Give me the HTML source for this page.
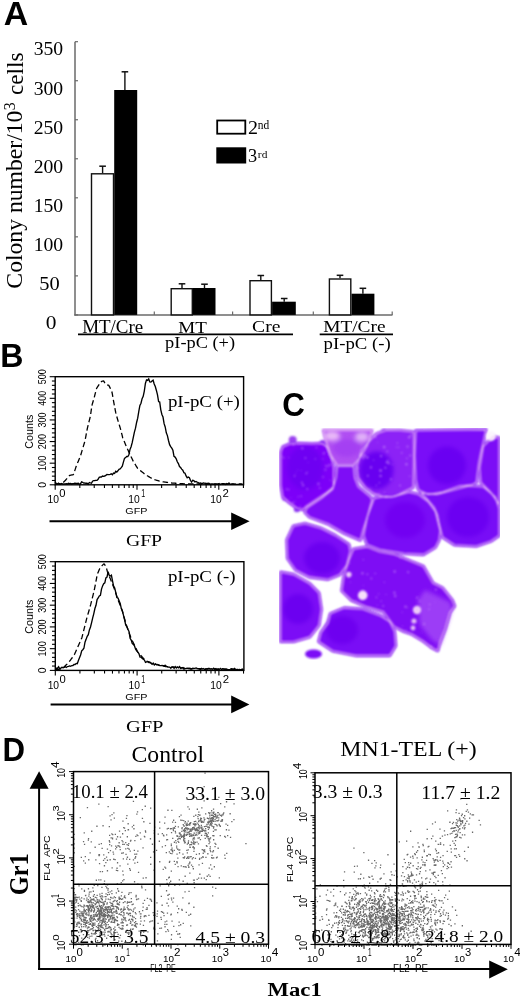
<!DOCTYPE html>
<html><head><meta charset="utf-8"><style>
html,body{margin:0;padding:0;background:#fff;overflow:hidden}
svg{display:block;will-change:transform}
</style></head><body>
<svg width="520" height="1001" viewBox="0 0 520 1001" font-family="Liberation Serif, serif">
<rect width="520" height="1001" fill="#fff"/>
<text transform="translate(3.75,25.40) scale(1.0299,1)" font-family="Liberation Sans" font-weight="bold" font-size="32.90" fill="#000" >A</text>
<line x1="75.0" y1="41.69" x2="75.0" y2="315.5" stroke="#6a6a6a" stroke-width="1.5"/>
<line x1="75.0" y1="314.90" x2="78.0" y2="314.90" stroke="#6a6a6a" stroke-width="1.2"/>
<text transform="translate(45.64,328.70) scale(1.0875,1)" font-family="Liberation Serif" font-weight="normal" font-size="19.70" fill="#000" >0</text>
<line x1="75.0" y1="275.87" x2="78.0" y2="275.87" stroke="#6a6a6a" stroke-width="1.2"/>
<text transform="translate(39.27,289.67) scale(1.0376,1)" font-family="Liberation Serif" font-weight="normal" font-size="19.70" fill="#000" >50</text>
<line x1="75.0" y1="236.84" x2="78.0" y2="236.84" stroke="#6a6a6a" stroke-width="1.2"/>
<text transform="translate(33.72,250.64) scale(0.9971,1)" font-family="Liberation Serif" font-size="19.70">100</text>
<line x1="75.0" y1="197.81" x2="78.0" y2="197.81" stroke="#6a6a6a" stroke-width="1.2"/>
<text transform="translate(33.72,211.61) scale(0.9971,1)" font-family="Liberation Serif" font-size="19.70">150</text>
<line x1="75.0" y1="158.78" x2="78.0" y2="158.78" stroke="#6a6a6a" stroke-width="1.2"/>
<text transform="translate(33.72,172.58) scale(0.9971,1)" font-family="Liberation Serif" font-size="19.70">200</text>
<line x1="75.0" y1="119.75" x2="78.0" y2="119.75" stroke="#6a6a6a" stroke-width="1.2"/>
<text transform="translate(33.72,133.55) scale(0.9971,1)" font-family="Liberation Serif" font-size="19.70">250</text>
<line x1="75.0" y1="80.72" x2="78.0" y2="80.72" stroke="#6a6a6a" stroke-width="1.2"/>
<text transform="translate(33.72,94.52) scale(0.9971,1)" font-family="Liberation Serif" font-size="19.70">300</text>
<line x1="75.0" y1="41.69" x2="78.0" y2="41.69" stroke="#6a6a6a" stroke-width="1.2"/>
<text transform="translate(33.72,55.49) scale(0.9971,1)" font-family="Liberation Serif" font-size="19.70">350</text>
<line x1="74.25" y1="314.9" x2="392.5" y2="314.9" stroke="#6a6a6a" stroke-width="1.5"/>
<line x1="154.3" y1="311.4" x2="154.3" y2="314.9" stroke="#6a6a6a" stroke-width="1.2"/>
<line x1="232.6" y1="311.4" x2="232.6" y2="314.9" stroke="#6a6a6a" stroke-width="1.2"/>
<line x1="313.3" y1="311.4" x2="313.3" y2="314.9" stroke="#6a6a6a" stroke-width="1.2"/>
<line x1="392.2" y1="311.4" x2="392.2" y2="314.9" stroke="#6a6a6a" stroke-width="1.2"/>
<line x1="102.6" y1="166.2" x2="102.6" y2="173.1" stroke="#111" stroke-width="1.4"/>
<line x1="99.3" y1="166.2" x2="105.89999999999999" y2="166.2" stroke="#111" stroke-width="1.5"/>
<line x1="124.9" y1="71.8" x2="124.9" y2="90.0" stroke="#111" stroke-width="1.4"/>
<line x1="121.60000000000001" y1="71.8" x2="128.20000000000002" y2="71.8" stroke="#111" stroke-width="1.5"/>
<line x1="182.0" y1="283.8" x2="182.0" y2="288.0" stroke="#111" stroke-width="1.4"/>
<line x1="178.7" y1="283.8" x2="185.3" y2="283.8" stroke="#111" stroke-width="1.5"/>
<line x1="204.5" y1="284.2" x2="204.5" y2="288.0" stroke="#111" stroke-width="1.4"/>
<line x1="201.2" y1="284.2" x2="207.8" y2="284.2" stroke="#111" stroke-width="1.5"/>
<line x1="260.8" y1="275.5" x2="260.8" y2="280.0" stroke="#111" stroke-width="1.4"/>
<line x1="257.5" y1="275.5" x2="264.1" y2="275.5" stroke="#111" stroke-width="1.5"/>
<line x1="284.2" y1="298.5" x2="284.2" y2="301.7" stroke="#111" stroke-width="1.4"/>
<line x1="280.9" y1="298.5" x2="287.5" y2="298.5" stroke="#111" stroke-width="1.5"/>
<line x1="340.0" y1="275.3" x2="340.0" y2="278.3" stroke="#111" stroke-width="1.4"/>
<line x1="336.7" y1="275.3" x2="343.3" y2="275.3" stroke="#111" stroke-width="1.5"/>
<line x1="362.9" y1="288.3" x2="362.9" y2="293.7" stroke="#111" stroke-width="1.4"/>
<line x1="359.59999999999997" y1="288.3" x2="366.2" y2="288.3" stroke="#111" stroke-width="1.5"/>
<rect x="91.5" y="173.79999999999998" width="22.000000000000007" height="141.1" fill="#fff" stroke="#111" stroke-width="1.4"/>
<rect x="114.2" y="90.0" width="22.999999999999986" height="224.89999999999998" fill="#000"/>
<rect x="171.2" y="288.7" width="21.1" height="26.199999999999978" fill="#fff" stroke="#111" stroke-width="1.4"/>
<rect x="193.0" y="288.0" width="22.5" height="26.899999999999977" fill="#000"/>
<rect x="250.0" y="280.7" width="21.400000000000013" height="34.199999999999974" fill="#fff" stroke="#111" stroke-width="1.4"/>
<rect x="272.1" y="301.7" width="23.69999999999999" height="13.199999999999989" fill="#000"/>
<rect x="329.4" y="279.0" width="21.400000000000013" height="35.89999999999996" fill="#fff" stroke="#111" stroke-width="1.4"/>
<rect x="351.5" y="293.7" width="22.899999999999977" height="21.19999999999999" fill="#000"/>
<rect x="217.2" y="120.5" width="28.1" height="13.2" fill="#fff" stroke="#000" stroke-width="1.8"/>
<rect x="216.3" y="147.3" width="29.9" height="16.2" fill="#000"/>
<text transform="translate(248.00,134.20) scale(1.0394,1)" font-family="Liberation Serif" font-weight="normal" font-size="19.24" fill="#000" >2</text>
<text transform="translate(257.87,129.48) scale(0.9604,1)" font-family="Liberation Serif" font-weight="normal" font-size="11.91" fill="#000" >nd</text>
<text transform="translate(248.08,162.11) scale(0.9661,1)" font-family="Liberation Serif" font-weight="normal" font-size="18.96" fill="#000" >3</text>
<text transform="translate(257.87,157.59) scale(1.0464,1)" font-family="Liberation Serif" font-weight="normal" font-size="10.92" fill="#000" >rd</text>
<text transform="translate(82.13,332.80) scale(1.0630,1)" font-family="Liberation Serif" font-weight="normal" font-size="17.86" fill="#000">MT/Cre</text>
<text transform="translate(178.23,332.60) scale(1.0750,1)" font-family="Liberation Serif" font-weight="normal" font-size="17.71" fill="#000" >MT</text>
<text transform="translate(252.11,332.43) scale(1.1244,1)" font-family="Liberation Serif" font-weight="normal" font-size="17.46" fill="#000" >Cre</text>
<text transform="translate(323.22,332.40) scale(1.1326,1)" font-family="Liberation Serif" font-weight="normal" font-size="17.10" fill="#000">MT/Cre</text>
<text transform="translate(165.12,348.42) scale(1.0433,1)" font-family="Liberation Serif" font-weight="normal" font-size="17.60" fill="#000">pI-pC (+)</text>
<text transform="translate(323.52,348.61) scale(1.1244,1)" font-family="Liberation Serif" font-weight="normal" font-size="16.69" fill="#000">pI-pC (-)</text>
<line x1="78" y1="334.3" x2="293" y2="334.3" stroke="#000" stroke-width="1.8"/>
<line x1="319.7" y1="334.3" x2="393" y2="334.3" stroke="#000" stroke-width="1.8"/>
<text transform="translate(22.27,288.65) rotate(-90) scale(1.0111,1)" font-family="Liberation Serif" font-weight="normal" font-size="23.41" fill="#000">Colony number/10</text><text transform="translate(15.43,110.32) rotate(-90) scale(0.9514,1)" font-family="Liberation Serif" font-weight="normal" font-size="16.72" fill="#000">3</text><text transform="translate(22.57,94.93) rotate(-90) scale(0.9905,1)" font-family="Liberation Serif" font-weight="normal" font-size="23.40" fill="#000">cells</text>
<text transform="translate(0.21,366.90) scale(0.9556,1)" font-family="Liberation Sans" font-weight="bold" font-size="33.62" fill="#000" >B</text>
<rect x="55.2" y="376.7" width="188.39999999999998" height="108.10000000000002" fill="none" stroke="#000" stroke-width="1.4"/>
<line x1="49.7" y1="484.80" x2="55.2" y2="484.80" stroke="#000" stroke-width="1.1"/>
<line x1="51.900000000000006" y1="480.48" x2="55.2" y2="480.48" stroke="#000" stroke-width="1.1"/>
<line x1="51.900000000000006" y1="476.15" x2="55.2" y2="476.15" stroke="#000" stroke-width="1.1"/>
<line x1="51.900000000000006" y1="471.83" x2="55.2" y2="471.83" stroke="#000" stroke-width="1.1"/>
<line x1="51.900000000000006" y1="467.50" x2="55.2" y2="467.50" stroke="#000" stroke-width="1.1"/>
<line x1="49.7" y1="463.18" x2="55.2" y2="463.18" stroke="#000" stroke-width="1.1"/>
<line x1="51.900000000000006" y1="458.86" x2="55.2" y2="458.86" stroke="#000" stroke-width="1.1"/>
<line x1="51.900000000000006" y1="454.53" x2="55.2" y2="454.53" stroke="#000" stroke-width="1.1"/>
<line x1="51.900000000000006" y1="450.21" x2="55.2" y2="450.21" stroke="#000" stroke-width="1.1"/>
<line x1="51.900000000000006" y1="445.88" x2="55.2" y2="445.88" stroke="#000" stroke-width="1.1"/>
<line x1="49.7" y1="441.56" x2="55.2" y2="441.56" stroke="#000" stroke-width="1.1"/>
<line x1="51.900000000000006" y1="437.24" x2="55.2" y2="437.24" stroke="#000" stroke-width="1.1"/>
<line x1="51.900000000000006" y1="432.91" x2="55.2" y2="432.91" stroke="#000" stroke-width="1.1"/>
<line x1="51.900000000000006" y1="428.59" x2="55.2" y2="428.59" stroke="#000" stroke-width="1.1"/>
<line x1="51.900000000000006" y1="424.26" x2="55.2" y2="424.26" stroke="#000" stroke-width="1.1"/>
<line x1="49.7" y1="419.94" x2="55.2" y2="419.94" stroke="#000" stroke-width="1.1"/>
<line x1="51.900000000000006" y1="415.62" x2="55.2" y2="415.62" stroke="#000" stroke-width="1.1"/>
<line x1="51.900000000000006" y1="411.29" x2="55.2" y2="411.29" stroke="#000" stroke-width="1.1"/>
<line x1="51.900000000000006" y1="406.97" x2="55.2" y2="406.97" stroke="#000" stroke-width="1.1"/>
<line x1="51.900000000000006" y1="402.64" x2="55.2" y2="402.64" stroke="#000" stroke-width="1.1"/>
<line x1="49.7" y1="398.32" x2="55.2" y2="398.32" stroke="#000" stroke-width="1.1"/>
<line x1="51.900000000000006" y1="394.00" x2="55.2" y2="394.00" stroke="#000" stroke-width="1.1"/>
<line x1="51.900000000000006" y1="389.67" x2="55.2" y2="389.67" stroke="#000" stroke-width="1.1"/>
<line x1="51.900000000000006" y1="385.35" x2="55.2" y2="385.35" stroke="#000" stroke-width="1.1"/>
<line x1="51.900000000000006" y1="381.02" x2="55.2" y2="381.02" stroke="#000" stroke-width="1.1"/>
<line x1="49.7" y1="376.70" x2="55.2" y2="376.70" stroke="#000" stroke-width="1.1"/>
<line x1="55.20" y1="484.8" x2="55.20" y2="489.8" stroke="#000" stroke-width="1.1"/>
<line x1="79.82" y1="484.8" x2="79.82" y2="488.0" stroke="#000" stroke-width="1.1"/>
<line x1="94.23" y1="484.8" x2="94.23" y2="488.0" stroke="#000" stroke-width="1.1"/>
<line x1="104.45" y1="484.8" x2="104.45" y2="488.0" stroke="#000" stroke-width="1.1"/>
<line x1="112.38" y1="484.8" x2="112.38" y2="488.0" stroke="#000" stroke-width="1.1"/>
<line x1="118.85" y1="484.8" x2="118.85" y2="488.0" stroke="#000" stroke-width="1.1"/>
<line x1="124.33" y1="484.8" x2="124.33" y2="488.0" stroke="#000" stroke-width="1.1"/>
<line x1="129.07" y1="484.8" x2="129.07" y2="488.0" stroke="#000" stroke-width="1.1"/>
<line x1="133.26" y1="484.8" x2="133.26" y2="488.0" stroke="#000" stroke-width="1.1"/>
<line x1="137.00" y1="484.8" x2="137.00" y2="489.8" stroke="#000" stroke-width="1.1"/>
<line x1="161.62" y1="484.8" x2="161.62" y2="488.0" stroke="#000" stroke-width="1.1"/>
<line x1="176.03" y1="484.8" x2="176.03" y2="488.0" stroke="#000" stroke-width="1.1"/>
<line x1="186.25" y1="484.8" x2="186.25" y2="488.0" stroke="#000" stroke-width="1.1"/>
<line x1="194.18" y1="484.8" x2="194.18" y2="488.0" stroke="#000" stroke-width="1.1"/>
<line x1="200.65" y1="484.8" x2="200.65" y2="488.0" stroke="#000" stroke-width="1.1"/>
<line x1="206.13" y1="484.8" x2="206.13" y2="488.0" stroke="#000" stroke-width="1.1"/>
<line x1="210.87" y1="484.8" x2="210.87" y2="488.0" stroke="#000" stroke-width="1.1"/>
<line x1="215.06" y1="484.8" x2="215.06" y2="488.0" stroke="#000" stroke-width="1.1"/>
<line x1="218.80" y1="484.8" x2="218.80" y2="489.8" stroke="#000" stroke-width="1.1"/>
<line x1="243.42" y1="484.8" x2="243.42" y2="488.0" stroke="#000" stroke-width="1.1"/>
<text transform="translate(46.09,487.72) rotate(-90) scale(0.9731,1)" font-family="Liberation Sans" font-weight="normal" font-size="10.70" fill="#000">0</text>
<text transform="translate(46.09,471.02) rotate(-90) scale(0.8591,1)" font-family="Liberation Sans" font-weight="normal" font-size="10.70" fill="#000">100</text>
<text transform="translate(46.09,449.16) rotate(-90) scale(0.8455,1)" font-family="Liberation Sans" font-weight="normal" font-size="10.70" fill="#000">200</text>
<text transform="translate(46.09,427.45) rotate(-90) scale(0.8402,1)" font-family="Liberation Sans" font-weight="normal" font-size="10.70" fill="#000">300</text>
<text transform="translate(46.09,405.65) rotate(-90) scale(0.8298,1)" font-family="Liberation Sans" font-weight="normal" font-size="10.70" fill="#000">400</text>
<text transform="translate(46.09,384.21) rotate(-90) scale(0.8402,1)" font-family="Liberation Sans" font-weight="normal" font-size="10.70" fill="#000">500</text>
<text transform="translate(33.48,448.63) rotate(-90) scale(0.9262,1)" font-family="Liberation Sans" font-weight="normal" font-size="11.55" fill="#000">Counts</text>
<text transform="translate(47.53,503.39) scale(0.9497,1)" font-family="Liberation Sans" font-weight="normal" font-size="10.85" fill="#000" >10</text>
<text transform="translate(59.35,497.20) scale(1.0942,1)" font-family="Liberation Sans" font-weight="normal" font-size="10.28" fill="#000" >0</text>
<text transform="translate(128.33,503.39) scale(0.9497,1)" font-family="Liberation Sans" font-weight="normal" font-size="10.85" fill="#000" >10</text>
<text transform="translate(141.27,497.30) scale(0.6736,1)" font-family="Liberation Sans" font-weight="normal" font-size="10.58" fill="#000" >1</text>
<text transform="translate(210.23,503.39) scale(0.9497,1)" font-family="Liberation Sans" font-weight="normal" font-size="10.85" fill="#000" >10</text>
<text transform="translate(222.53,497.30) scale(1.0959,1)" font-family="Liberation Sans" font-weight="normal" font-size="10.43" fill="#000" >2</text>
<text transform="translate(125.26,514.11) scale(1.1789,1)" font-family="Liberation Sans" font-weight="normal" font-size="9.15" fill="#000" >GFP</text>
<polyline points="55.20,484.00 55.70,483.97 56.20,483.94 56.70,483.91 57.20,483.88 57.70,483.85 58.20,483.82 58.70,483.79 59.20,483.76 59.70,483.74 60.20,483.71 60.70,483.68 61.20,483.65 61.70,483.62 62.20,483.41 62.70,482.95 63.20,482.48 63.70,482.01 64.20,481.55 64.70,481.08 65.20,480.57 65.70,479.98 66.20,479.39 66.70,478.80 67.20,478.22 67.70,477.63 68.20,477.04 68.70,476.46 69.20,475.87 69.70,475.38 70.20,475.28 70.70,475.17 71.20,475.07 71.70,474.97 72.20,474.87 72.70,474.76 73.20,474.66 73.70,473.99 74.20,472.45 74.70,470.92 75.20,469.39 75.70,467.85 76.20,466.32 76.70,464.93 77.20,463.75 77.70,462.57 78.20,461.39 78.70,460.21 79.20,459.03 79.70,457.85 80.20,456.67 80.70,455.20 81.20,453.52 81.70,451.85 82.20,450.17 82.70,448.50 83.20,446.83 83.70,445.15 84.20,443.48 84.70,441.80 85.20,439.73 85.70,437.06 86.20,434.38 86.70,431.71 87.20,429.03 87.70,426.91 88.20,424.93 88.70,422.95 89.20,420.96 89.70,418.98 90.20,416.99 90.70,414.04 91.20,410.44 91.70,406.84 92.20,404.40 92.70,402.72 93.20,401.05 93.70,399.37 94.20,397.70 94.70,395.70 95.20,393.70 95.70,391.70 96.20,389.70 96.70,388.20 97.20,387.44 97.70,386.68 98.20,385.92 98.70,385.16 99.20,384.41 99.70,383.68 100.20,383.07 100.70,382.47 101.20,381.86 101.70,381.43 102.20,381.25 102.70,381.08 103.20,380.91 103.70,381.13 104.20,381.96 104.70,382.78 105.20,383.61 105.70,384.43 106.20,384.71 106.70,384.84 107.20,384.97 107.70,385.11 108.20,385.24 108.70,385.37 109.20,386.19 109.70,387.17 110.20,388.15 110.70,389.14 111.20,390.12 111.70,391.11 112.20,393.24 112.70,396.15 113.20,399.06 113.70,401.86 114.20,404.51 114.70,407.17 115.20,409.82 115.70,412.47 116.20,414.42 116.70,416.19 117.20,417.96 117.70,419.74 118.20,421.44 118.70,423.05 119.20,424.65 119.70,426.25 120.20,427.86 120.70,429.70 121.20,431.70 121.70,433.70 122.20,435.70 122.70,437.70 123.20,438.91 123.70,440.12 124.20,441.33 124.70,442.54 125.20,443.75 125.70,444.96 126.20,446.17 126.70,447.33 127.20,448.40 127.70,449.47 128.20,450.54 128.70,451.60 129.20,452.67 129.70,453.74 130.20,454.81 130.70,455.88 131.20,456.95 131.70,458.02 132.20,459.09 132.70,460.16 133.20,461.13 133.70,461.95 134.20,462.77 134.70,463.59 135.20,464.40 135.70,465.22 136.20,466.04 136.70,466.86 137.20,467.68 137.70,468.50 138.20,468.90 138.70,469.29 139.20,469.69 139.70,470.08 140.20,470.48 140.70,470.88 141.20,471.27 141.70,471.67 142.20,472.06 142.70,472.46 143.20,472.86 143.70,473.25 144.20,473.65 144.70,474.05 145.20,474.44 145.70,474.78 146.20,475.08 146.70,475.39 147.20,475.69 147.70,475.99 148.20,476.29 148.70,476.60 149.20,476.90 149.70,477.20 150.20,477.51 150.70,477.81 151.20,478.11 151.70,478.41 152.20,478.72 152.70,479.02 153.20,479.26 153.70,479.41 154.20,479.55 154.70,479.70 155.20,479.85 155.70,480.00 156.20,480.14 156.70,480.29 157.20,480.44 157.70,480.59 158.20,480.73 158.70,480.88 159.20,481.03 159.70,481.18 160.20,481.32 160.70,481.47 161.20,481.56 161.70,481.63 162.20,481.70 162.70,481.77 163.20,481.84 163.70,481.91 164.20,481.98 164.70,482.05 165.20,482.12 165.70,482.19 166.20,482.26 166.70,482.33 167.20,482.40 167.70,482.47 168.20,482.54 168.70,482.61 169.20,482.68 169.70,482.75 170.20,482.82 170.70,482.89 171.20,482.96 171.70,483.01 172.20,483.05 172.70,483.08 173.20,483.11 173.70,483.14 174.20,483.18 174.70,483.21 175.20,483.24 175.70,483.27 176.20,483.31 176.70,483.34 177.20,483.37 177.70,483.40 178.20,483.44 178.70,483.47 179.20,483.50 179.70,483.53 180.20,483.57 180.70,483.60 181.20,483.63 181.70,483.66 182.20,483.70 182.70,483.73 183.20,483.76 183.70,483.79 184.20,483.80 184.70,483.81 185.20,483.82 185.70,483.82 186.20,483.83 186.70,483.84 187.20,483.84 187.70,483.85 188.20,483.85 188.70,483.86 189.20,483.87 189.70,483.87 190.20,483.88 190.70,483.89 191.20,483.89 191.70,483.90 192.20,483.90 192.70,483.91 193.20,483.92 193.70,483.92 194.20,483.93 194.70,483.93 195.20,483.94 195.70,483.95 196.20,483.95 196.70,483.96 197.20,483.97 197.70,483.97 198.20,483.98 198.70,483.98 199.20,483.99 199.70,484.00 200.20,484.00 200.70,484.00 201.20,484.01 201.70,484.01 202.20,484.01 202.70,484.01 203.20,484.01 203.70,484.02 204.20,484.02 204.70,484.02 205.20,484.02 205.70,484.03 206.20,484.03 206.70,484.03 207.20,484.03 207.70,484.04 208.20,484.04 208.70,484.04 209.20,484.04 209.70,484.05 210.20,484.05 210.70,484.05 211.20,484.05 211.70,484.05 212.20,484.06 212.70,484.06 213.20,484.06 213.70,484.06 214.20,484.07 214.70,484.07 215.20,484.07 215.70,484.07 216.20,484.08 216.70,484.08 217.20,484.08 217.70,484.08 218.20,484.08 218.70,484.09 219.20,484.09 219.70,484.09 220.20,484.09 220.70,484.10 221.20,484.10 221.70,484.10 222.20,484.10 222.70,484.11 223.20,484.11 223.70,484.11 224.20,484.11 224.70,484.11 225.20,484.12 225.70,484.12 226.20,484.12 226.70,484.12 227.20,484.13 227.70,484.13 228.20,484.13 228.70,484.13 229.20,484.14 229.70,484.14 230.20,484.14 230.70,484.14 231.20,484.15 231.70,484.15 232.20,484.15 232.70,484.15 233.20,484.15 233.70,484.16 234.20,484.16 234.70,484.16 235.20,484.16 235.70,484.17 236.20,484.17 236.70,484.17 237.20,484.17 237.70,484.18 238.20,484.18 238.70,484.18 239.20,484.18 239.70,484.18 240.20,484.19 240.70,484.19 241.20,484.19 241.70,484.19 242.20,484.20 242.70,484.20" fill="none" stroke="#000" stroke-width="1.3" stroke-dasharray="5.5,3"/>
<polyline points="55.20,481.70 56.30,483.88 57.40,483.97 58.50,483.14 59.60,484.26 60.70,484.01 61.80,483.50 62.90,484.05 64.00,483.93 65.10,483.88 66.20,483.73 67.30,483.98 68.40,483.31 69.50,483.59 70.60,483.41 71.70,483.95 72.80,483.65 73.90,483.46 75.00,483.20 76.10,483.42 77.20,483.52 78.30,483.33 79.40,484.11 80.50,483.92 81.60,481.91 82.70,482.30 83.80,483.16 84.90,482.99 86.00,483.29 87.10,483.25 88.20,484.23 89.30,482.44 90.40,482.80 91.50,483.12 92.60,481.27 93.70,480.55 94.80,480.53 95.90,480.42 97.00,480.40 98.10,479.27 99.20,477.27 100.30,477.00 101.40,477.06 102.50,476.09 103.60,476.33 104.70,476.01 105.80,475.39 106.90,474.42 108.00,474.66 109.10,474.55 110.20,474.40 111.30,473.84 112.40,474.81 113.50,473.14 114.60,473.45 115.70,471.21 116.80,472.08 117.90,470.81 119.00,469.29 120.10,469.00 121.20,467.67 122.30,466.23 123.40,462.18 124.50,458.34 125.60,457.60 126.70,456.43 127.80,456.57 128.90,454.79 130.00,449.41 131.10,446.68 132.20,442.64 133.30,437.28 134.40,432.11 135.50,428.20 136.60,422.47 137.70,418.15 138.80,411.42 139.90,405.44 141.00,403.20 142.10,398.67 143.20,396.30 144.30,391.05 145.40,383.50 146.50,379.85 147.60,380.39 148.70,378.92 149.80,381.95 150.90,382.12 152.00,381.06 153.10,380.19 154.20,383.97 155.30,386.57 156.40,390.46 157.50,394.87 158.60,401.61 159.70,402.05 160.80,409.82 161.90,414.47 163.00,417.05 164.10,423.68 165.20,426.91 166.30,432.78 167.40,435.62 168.50,440.50 169.60,444.65 170.70,446.57 171.80,448.09 172.90,450.30 174.00,456.38 175.10,457.09 176.20,458.76 177.30,461.73 178.40,463.63 179.50,466.58 180.60,467.51 181.70,469.12 182.80,470.17 183.90,472.74 185.00,473.23 186.10,475.90 187.20,477.78 188.30,476.97 189.40,477.70 190.50,480.55 191.60,482.10 192.70,480.27 193.80,480.49 194.90,481.94 196.00,481.47 197.10,482.03 198.20,482.48 199.30,483.30 200.40,482.89 201.50,483.36 202.60,483.22 203.70,482.97 204.80,483.35 205.90,483.13 207.00,483.73 208.10,483.26 209.20,483.38 210.30,484.40 211.40,483.98 212.50,483.99 213.60,484.27 214.70,483.82 215.80,483.92 216.90,484.25 218.00,484.19 219.10,483.49 220.20,484.40 221.30,483.78 222.40,483.56 223.50,483.64 224.60,483.90 225.70,484.40 226.80,483.53 227.90,484.19 229.00,483.07 230.10,484.12 231.20,484.40 232.30,484.02 233.40,483.84 234.50,484.26 235.60,484.40 236.70,484.40 237.80,484.40 238.90,484.28 240.00,483.90 241.10,484.13 242.20,484.16" fill="none" stroke="#000" stroke-width="1.35" stroke-linejoin="miter"/>
<text transform="translate(167.92,407.38) scale(1.1894,1)" font-family="Liberation Serif" font-weight="normal" font-size="15.89" fill="#000">pI-pC (+)</text>
<line x1="49.5" y1="521.2" x2="233" y2="521.2" stroke="#000" stroke-width="2"/>
<polygon points="231.2,512.4 249.6,521.2 231.2,530" fill="#000"/>
<text transform="translate(125.91,546.12) scale(1.1100,1)" font-family="Liberation Serif" font-weight="normal" font-size="17.76" fill="#000" >GFP</text>
<rect x="55.3" y="561.7" width="188.60000000000002" height="108.69999999999993" fill="none" stroke="#000" stroke-width="1.4"/>
<line x1="49.8" y1="670.40" x2="55.3" y2="670.40" stroke="#000" stroke-width="1.1"/>
<line x1="52.0" y1="666.05" x2="55.3" y2="666.05" stroke="#000" stroke-width="1.1"/>
<line x1="52.0" y1="661.70" x2="55.3" y2="661.70" stroke="#000" stroke-width="1.1"/>
<line x1="52.0" y1="657.36" x2="55.3" y2="657.36" stroke="#000" stroke-width="1.1"/>
<line x1="52.0" y1="653.01" x2="55.3" y2="653.01" stroke="#000" stroke-width="1.1"/>
<line x1="49.8" y1="648.66" x2="55.3" y2="648.66" stroke="#000" stroke-width="1.1"/>
<line x1="52.0" y1="644.31" x2="55.3" y2="644.31" stroke="#000" stroke-width="1.1"/>
<line x1="52.0" y1="639.96" x2="55.3" y2="639.96" stroke="#000" stroke-width="1.1"/>
<line x1="52.0" y1="635.62" x2="55.3" y2="635.62" stroke="#000" stroke-width="1.1"/>
<line x1="52.0" y1="631.27" x2="55.3" y2="631.27" stroke="#000" stroke-width="1.1"/>
<line x1="49.8" y1="626.92" x2="55.3" y2="626.92" stroke="#000" stroke-width="1.1"/>
<line x1="52.0" y1="622.57" x2="55.3" y2="622.57" stroke="#000" stroke-width="1.1"/>
<line x1="52.0" y1="618.22" x2="55.3" y2="618.22" stroke="#000" stroke-width="1.1"/>
<line x1="52.0" y1="613.88" x2="55.3" y2="613.88" stroke="#000" stroke-width="1.1"/>
<line x1="52.0" y1="609.53" x2="55.3" y2="609.53" stroke="#000" stroke-width="1.1"/>
<line x1="49.8" y1="605.18" x2="55.3" y2="605.18" stroke="#000" stroke-width="1.1"/>
<line x1="52.0" y1="600.83" x2="55.3" y2="600.83" stroke="#000" stroke-width="1.1"/>
<line x1="52.0" y1="596.48" x2="55.3" y2="596.48" stroke="#000" stroke-width="1.1"/>
<line x1="52.0" y1="592.14" x2="55.3" y2="592.14" stroke="#000" stroke-width="1.1"/>
<line x1="52.0" y1="587.79" x2="55.3" y2="587.79" stroke="#000" stroke-width="1.1"/>
<line x1="49.8" y1="583.44" x2="55.3" y2="583.44" stroke="#000" stroke-width="1.1"/>
<line x1="52.0" y1="579.09" x2="55.3" y2="579.09" stroke="#000" stroke-width="1.1"/>
<line x1="52.0" y1="574.74" x2="55.3" y2="574.74" stroke="#000" stroke-width="1.1"/>
<line x1="52.0" y1="570.40" x2="55.3" y2="570.40" stroke="#000" stroke-width="1.1"/>
<line x1="52.0" y1="566.05" x2="55.3" y2="566.05" stroke="#000" stroke-width="1.1"/>
<line x1="49.8" y1="561.70" x2="55.3" y2="561.70" stroke="#000" stroke-width="1.1"/>
<line x1="55.30" y1="670.4" x2="55.30" y2="675.4" stroke="#000" stroke-width="1.1"/>
<line x1="79.92" y1="670.4" x2="79.92" y2="673.6" stroke="#000" stroke-width="1.1"/>
<line x1="94.33" y1="670.4" x2="94.33" y2="673.6" stroke="#000" stroke-width="1.1"/>
<line x1="104.55" y1="670.4" x2="104.55" y2="673.6" stroke="#000" stroke-width="1.1"/>
<line x1="112.48" y1="670.4" x2="112.48" y2="673.6" stroke="#000" stroke-width="1.1"/>
<line x1="118.95" y1="670.4" x2="118.95" y2="673.6" stroke="#000" stroke-width="1.1"/>
<line x1="124.43" y1="670.4" x2="124.43" y2="673.6" stroke="#000" stroke-width="1.1"/>
<line x1="129.17" y1="670.4" x2="129.17" y2="673.6" stroke="#000" stroke-width="1.1"/>
<line x1="133.36" y1="670.4" x2="133.36" y2="673.6" stroke="#000" stroke-width="1.1"/>
<line x1="137.10" y1="670.4" x2="137.10" y2="675.4" stroke="#000" stroke-width="1.1"/>
<line x1="161.72" y1="670.4" x2="161.72" y2="673.6" stroke="#000" stroke-width="1.1"/>
<line x1="176.13" y1="670.4" x2="176.13" y2="673.6" stroke="#000" stroke-width="1.1"/>
<line x1="186.35" y1="670.4" x2="186.35" y2="673.6" stroke="#000" stroke-width="1.1"/>
<line x1="194.28" y1="670.4" x2="194.28" y2="673.6" stroke="#000" stroke-width="1.1"/>
<line x1="200.75" y1="670.4" x2="200.75" y2="673.6" stroke="#000" stroke-width="1.1"/>
<line x1="206.23" y1="670.4" x2="206.23" y2="673.6" stroke="#000" stroke-width="1.1"/>
<line x1="210.97" y1="670.4" x2="210.97" y2="673.6" stroke="#000" stroke-width="1.1"/>
<line x1="215.16" y1="670.4" x2="215.16" y2="673.6" stroke="#000" stroke-width="1.1"/>
<line x1="218.90" y1="670.4" x2="218.90" y2="675.4" stroke="#000" stroke-width="1.1"/>
<line x1="243.52" y1="670.4" x2="243.52" y2="673.6" stroke="#000" stroke-width="1.1"/>
<text transform="translate(46.09,673.32) rotate(-90) scale(0.9731,1)" font-family="Liberation Sans" font-weight="normal" font-size="10.70" fill="#000">0</text>
<text transform="translate(46.09,656.50) rotate(-90) scale(0.8591,1)" font-family="Liberation Sans" font-weight="normal" font-size="10.70" fill="#000">100</text>
<text transform="translate(46.09,634.52) rotate(-90) scale(0.8455,1)" font-family="Liberation Sans" font-weight="normal" font-size="10.70" fill="#000">200</text>
<text transform="translate(46.09,612.69) rotate(-90) scale(0.8402,1)" font-family="Liberation Sans" font-weight="normal" font-size="10.70" fill="#000">300</text>
<text transform="translate(46.09,590.77) rotate(-90) scale(0.8298,1)" font-family="Liberation Sans" font-weight="normal" font-size="10.70" fill="#000">400</text>
<text transform="translate(46.09,569.21) rotate(-90) scale(0.8402,1)" font-family="Liberation Sans" font-weight="normal" font-size="10.70" fill="#000">500</text>
<text transform="translate(33.48,633.63) rotate(-90) scale(0.9262,1)" font-family="Liberation Sans" font-weight="normal" font-size="11.55" fill="#000">Counts</text>
<text transform="translate(47.63,688.99) scale(0.9497,1)" font-family="Liberation Sans" font-weight="normal" font-size="10.85" fill="#000" >10</text>
<text transform="translate(59.45,682.80) scale(1.0942,1)" font-family="Liberation Sans" font-weight="normal" font-size="10.28" fill="#000" >0</text>
<text transform="translate(128.43,688.99) scale(0.9497,1)" font-family="Liberation Sans" font-weight="normal" font-size="10.85" fill="#000" >10</text>
<text transform="translate(141.37,682.90) scale(0.6736,1)" font-family="Liberation Sans" font-weight="normal" font-size="10.58" fill="#000" >1</text>
<text transform="translate(210.33,688.99) scale(0.9497,1)" font-family="Liberation Sans" font-weight="normal" font-size="10.85" fill="#000" >10</text>
<text transform="translate(222.63,682.90) scale(1.0959,1)" font-family="Liberation Sans" font-weight="normal" font-size="10.43" fill="#000" >2</text>
<text transform="translate(125.26,699.71) scale(1.1789,1)" font-family="Liberation Sans" font-weight="normal" font-size="9.15" fill="#000" >GFP</text>
<polyline points="55.30,669.50 55.80,669.46 56.30,669.43 56.80,669.39 57.30,669.35 57.80,669.31 58.30,669.28 58.80,669.24 59.30,669.20 59.80,669.16 60.30,669.13 60.80,669.09 61.30,669.05 61.80,669.01 62.30,668.71 62.80,668.22 63.30,667.74 63.80,667.26 64.30,666.77 64.80,666.29 65.30,665.80 65.80,665.32 66.30,664.83 66.80,664.35 67.30,663.86 67.80,663.38 68.30,662.89 68.80,662.29 69.30,661.62 69.80,660.94 70.30,660.27 70.80,659.59 71.30,658.92 71.80,658.24 72.30,657.57 72.80,656.89 73.30,656.22 73.80,655.54 74.30,654.78 74.80,653.65 75.30,652.53 75.80,651.41 76.30,650.28 76.80,649.16 77.30,648.04 77.80,646.91 78.30,645.79 78.80,644.66 79.30,643.54 79.80,642.42 80.30,641.29 80.80,640.17 81.30,639.05 81.80,637.92 82.30,636.10 82.80,634.10 83.30,632.10 83.80,630.10 84.30,628.10 84.80,626.10 85.30,624.10 85.80,622.10 86.30,620.10 86.80,618.15 87.30,616.42 87.80,614.69 88.30,612.96 88.80,611.23 89.30,609.50 89.80,607.77 90.30,606.04 90.80,604.19 91.30,602.16 91.80,600.14 92.30,598.11 92.80,596.08 93.30,594.06 93.80,592.03 94.30,590.01 94.80,587.48 95.30,584.82 95.80,582.17 96.30,579.51 96.80,576.86 97.30,574.20 97.80,573.04 98.30,571.89 98.80,570.73 99.30,569.58 99.80,568.42 100.30,567.40 100.80,566.90 101.30,566.40 101.80,565.90 102.30,565.40 102.80,564.90 103.30,564.40 103.80,563.90 104.30,564.12 104.80,564.82 105.30,565.52 105.80,566.22 106.30,567.60 106.80,569.43 107.30,571.27 107.80,572.73 108.30,573.94 108.80,575.15 109.30,576.36 109.80,577.58 110.30,578.79 110.80,580.00 111.30,581.25 111.80,582.50 112.30,583.75 112.80,585.00 113.30,586.25 113.80,587.50 114.30,588.87 114.80,590.31 115.30,591.76 115.80,593.20 116.30,594.64 116.80,596.09 117.30,597.53 117.80,598.98 118.30,600.42 118.80,601.77 119.30,603.06 119.80,604.34 120.30,605.63 120.80,606.91 121.30,608.20 121.80,609.49 122.30,611.05 122.80,612.80 123.30,614.55 123.80,616.30 124.30,618.05 124.80,619.80 125.30,621.55 125.80,623.30 126.30,624.84 126.80,626.24 127.30,627.64 127.80,629.04 128.30,630.44 128.80,631.84 129.30,633.24 129.80,634.64 130.30,636.04 130.80,637.44 131.30,638.63 131.80,639.67 132.30,640.72 132.80,641.76 133.30,642.81 133.80,643.85 134.30,644.90 134.80,645.94 135.30,646.99 135.80,648.03 136.30,649.07 136.80,650.12 137.30,651.16 137.80,652.11 138.30,652.66 138.80,653.21 139.30,653.77 139.80,654.32 140.30,654.87 140.80,655.42 141.30,655.97 141.80,656.53 142.30,657.08 142.80,657.63 143.30,658.18 143.80,658.73 144.30,659.29 144.80,659.84 145.30,660.39 145.80,660.67 146.30,660.88 146.80,661.09 147.30,661.30 147.80,661.51 148.30,661.72 148.80,661.93 149.30,662.14 149.80,662.35 150.30,662.56 150.80,662.77 151.30,662.98 151.80,663.19 152.30,663.41 152.80,663.62 153.30,663.77 153.80,663.89 154.30,664.00 154.80,664.12 155.30,664.24 155.80,664.35 156.30,664.47 156.80,664.59 157.30,664.70 157.80,664.82 158.30,664.94 158.80,665.05 159.30,665.17 159.80,665.29 160.30,665.40 160.80,665.52 161.30,665.64 161.80,665.75 162.30,665.87 162.80,665.99 163.30,666.10 163.80,666.22 164.30,666.34 164.80,666.45 165.30,666.52 165.80,666.56 166.30,666.60 166.80,666.64 167.30,666.68 167.80,666.72 168.30,666.76 168.80,666.80 169.30,666.84 169.80,666.88 170.30,666.92 170.80,666.96 171.30,667.00 171.80,667.04 172.30,667.08 172.80,667.12 173.30,667.16 173.80,667.20 174.30,667.24 174.80,667.28 175.30,667.32 175.80,667.36 176.30,667.40 176.80,667.44 177.30,667.48 177.80,667.52 178.30,667.56 178.80,667.60 179.30,667.64 179.80,667.68 180.30,667.72 180.80,667.76 181.30,667.80 181.80,667.84 182.30,667.88 182.80,667.92 183.30,667.96 183.80,668.00 184.30,668.04 184.80,668.08 185.30,668.12 185.80,668.16 186.30,668.20 186.80,668.24 187.30,668.28 187.80,668.32 188.30,668.36 188.80,668.40 189.30,668.44 189.80,668.48 190.30,668.51 190.80,668.52 191.30,668.53 191.80,668.54 192.30,668.55 192.80,668.56 193.30,668.57 193.80,668.58 194.30,668.59 194.80,668.60 195.30,668.61 195.80,668.62 196.30,668.63 196.80,668.64 197.30,668.65 197.80,668.66 198.30,668.67 198.80,668.68 199.30,668.69 199.80,668.70 200.30,668.71 200.80,668.72 201.30,668.73 201.80,668.74 202.30,668.75 202.80,668.76 203.30,668.77 203.80,668.78 204.30,668.79 204.80,668.80 205.30,668.81 205.80,668.82 206.30,668.84 206.80,668.85 207.30,668.86 207.80,668.87 208.30,668.88 208.80,668.89 209.30,668.90 209.80,668.91 210.30,668.92 210.80,668.93 211.30,668.94 211.80,668.95 212.30,668.96 212.80,668.97 213.30,668.98 213.80,668.99 214.30,669.00 214.80,669.01 215.30,669.02 215.80,669.03 216.30,669.04 216.80,669.05 217.30,669.06 217.80,669.07 218.30,669.08 218.80,669.09 219.30,669.10 219.80,669.11 220.30,669.12 220.80,669.13 221.30,669.14 221.80,669.15 222.30,669.16 222.80,669.17 223.30,669.18 223.80,669.19 224.30,669.21 224.80,669.22 225.30,669.23 225.80,669.24 226.30,669.25 226.80,669.26 227.30,669.27 227.80,669.28 228.30,669.29 228.80,669.30 229.30,669.31 229.80,669.32 230.30,669.33 230.80,669.34 231.30,669.35 231.80,669.36 232.30,669.37 232.80,669.38 233.30,669.39 233.80,669.40 234.30,669.41 234.80,669.42 235.30,669.43 235.80,669.44 236.30,669.45 236.80,669.46 237.30,669.47 237.80,669.48 238.30,669.49 238.80,669.50 239.30,669.51 239.80,669.52 240.30,669.53 240.80,669.54 241.30,669.55 241.80,669.57 242.30,669.58 242.80,669.59 243.30,669.60" fill="none" stroke="#000" stroke-width="1.3" stroke-dasharray="5.5,3"/>
<polyline points="55.30,667.11 56.40,668.37 57.50,668.27 58.60,666.80 59.70,668.86 60.80,668.16 61.90,667.18 63.00,667.70 64.10,667.28 65.20,666.66 66.30,667.45 67.40,666.55 68.50,666.41 69.60,665.94 70.70,666.31 71.80,665.56 72.90,665.58 74.00,664.43 75.10,664.51 76.20,663.43 77.30,663.75 78.40,660.45 79.50,657.71 80.60,654.92 81.70,650.86 82.80,649.72 83.90,648.25 85.00,642.16 86.10,639.37 87.20,636.27 88.30,634.65 89.40,629.92 90.50,626.97 91.60,622.59 92.70,617.93 93.80,613.54 94.90,608.50 96.00,605.32 97.10,599.61 98.20,597.83 99.30,596.01 100.40,595.38 101.50,589.15 102.60,585.90 103.70,583.79 104.80,582.78 105.90,577.83 107.00,577.03 108.10,571.73 109.20,575.32 110.30,576.02 111.40,575.25 112.50,580.89 113.60,586.03 114.70,588.11 115.80,592.58 116.90,597.62 118.00,598.08 119.10,600.67 120.20,603.42 121.30,608.55 122.40,610.96 123.50,615.33 124.60,619.76 125.70,624.95 126.80,626.71 127.90,629.32 129.00,631.49 130.10,638.30 131.20,640.07 132.30,643.65 133.40,644.39 134.50,645.92 135.60,649.23 136.70,650.93 137.80,652.06 138.90,653.63 140.00,657.02 141.10,657.12 142.20,658.41 143.30,659.12 144.40,660.07 145.50,662.36 146.60,661.94 147.70,661.77 148.80,662.50 149.90,662.26 151.00,663.30 152.10,664.23 153.20,663.19 154.30,665.02 155.40,663.94 156.50,664.79 157.60,664.47 158.70,665.18 159.80,665.66 160.90,665.58 162.00,665.52 163.10,665.65 164.20,665.68 165.30,665.33 166.40,666.24 167.50,666.76 168.60,667.17 169.70,667.12 170.80,668.32 171.90,667.14 173.00,666.79 174.10,668.28 175.20,666.67 176.30,667.96 177.40,666.95 178.50,667.82 179.60,666.60 180.70,668.35 181.80,667.86 182.90,667.52 184.00,669.10 185.10,668.70 186.20,668.41 187.30,668.09 188.40,668.50 189.50,668.45 190.60,668.96 191.70,669.02 192.80,668.25 193.90,668.33 195.00,668.36 196.10,667.95 197.20,668.38 198.30,668.67 199.40,669.11 200.50,669.47 201.60,668.35 202.70,669.10 203.80,668.59 204.90,669.95 206.00,668.84 207.10,669.15 208.20,668.41 209.30,668.50 210.40,669.06 211.50,668.77 212.60,669.18 213.70,668.20 214.80,669.38 215.90,668.59 217.00,669.98 218.10,668.95 219.20,669.69 220.30,668.42 221.40,669.39 222.50,668.73 223.60,668.96 224.70,669.24 225.80,669.09 226.90,669.41 228.00,669.68 229.10,669.65 230.20,669.30 231.30,668.67 232.40,668.98 233.50,669.31 234.60,668.36 235.70,669.83 236.80,669.35 237.90,669.36 239.00,669.99 240.10,669.87 241.20,669.66 242.30,669.08 243.40,669.75" fill="none" stroke="#000" stroke-width="1.35" stroke-linejoin="miter"/>
<text transform="translate(167.92,582.38) scale(1.1894,1)" font-family="Liberation Serif" font-weight="normal" font-size="15.89" fill="#000">pI-pC (-)</text>
<line x1="50.6" y1="704.4" x2="233" y2="704.4" stroke="#000" stroke-width="2"/>
<polygon points="231.2,695.6 249.4,704.4 231.2,713.2" fill="#000"/>
<text transform="translate(125.88,731.83) scale(1.2056,1)" font-family="Liberation Serif" font-weight="normal" font-size="17.01" fill="#000" >GFP</text>
<text transform="translate(282.35,415.86) scale(0.9298,1)" font-family="Liberation Sans" font-weight="bold" font-size="33.66" fill="#000" >C</text>
<defs><filter id="cb" x="-5%" y="-5%" width="110%" height="110%"><feGaussianBlur stdDeviation="0.9"/></filter><filter id="nb" x="-20%" y="-20%" width="140%" height="140%"><feGaussianBlur stdDeviation="2"/></filter><clipPath id="cclip"><rect x="279" y="428" width="221" height="232"/></clipPath></defs>
<g clip-path="url(#cclip)">
<g filter="url(#cb)">
</g>
<g filter="url(#cb)">
<circle cx="292.7" cy="440" r="4" fill="#9a40f0"/>
<circle cx="322.7" cy="443.5" r="3.5" fill="#8a30f0"/>
<circle cx="285" cy="498" r="3" fill="#8a30f0"/>
<circle cx="297" cy="509" r="3.2" fill="#8a30f0"/>
<circle cx="384" cy="431.5" r="3" fill="#a050f0"/>
<circle cx="400" cy="432" r="2.5" fill="#a050f0"/>
<ellipse cx="313.5" cy="654" rx="8.5" ry="4.5" fill="#7c0cf6"/>
<polygon points="281.0,452.0 283.0,447.0 290.0,444.0 300.0,443.5 312.0,444.0 322.0,443.5 327.0,447.0 331.0,456.0 333.5,468.0 333.5,487.0 326.0,493.0 317.0,499.0 306.5,506.0 303.0,509.5 297.0,508.0 290.0,503.0 283.0,497.0 281.0,485.0" fill="#7c06f8" stroke="#7c06f8" stroke-width="3" stroke-linejoin="round"/>
<polygon points="323.5,430.4 371.9,430.4 367.3,445.4 360.4,456.9 353.5,465.0 337.3,465.0 330.4,454.6 326.9,443.1" fill="#b050f2" stroke="#b050f2" stroke-width="3" stroke-linejoin="round"/>
<polygon points="376.5,433.8 385.8,430.4 400.0,430.5 413.7,432.0 413.7,460.0 413.2,487.3 395.0,496.2 385.8,497.3 374.2,493.9 365.0,486.9 358.1,477.7 356.9,466.2 361.5,450.0 369.6,440.8" fill="#8c22f6" stroke="#8c22f6" stroke-width="3" stroke-linejoin="round"/>
<polygon points="416.0,430.8 485.8,429.6 483.4,441.6 481.0,451.3 478.6,463.3 476.2,482.5 471.3,484.9 459.3,486.1 442.5,492.1 428.1,494.5 418.5,489.7 416.0,480.1 414.9,456.1" fill="#7a08f8" stroke="#7a08f8" stroke-width="3" stroke-linejoin="round"/>
<polygon points="483.4,446.4 493.0,436.8 499.0,438.0 499.0,504.1 490.6,492.1 481.0,482.5 479.8,468.1" fill="#7c0cf6" stroke="#7c0cf6" stroke-width="3" stroke-linejoin="round"/>
<polygon points="337.3,466.2 353.5,466.2 354.6,477.7 358.1,486.9 369.6,496.2 371.9,499.6 367.3,516.9 362.7,530.8 360.4,540.0 344.2,533.1 328.1,523.8 309.6,516.9 305.0,512.3 307.3,507.7 321.2,498.5 332.7,489.2 336.2,477.7" fill="#7e0cf6" stroke="#7e0cf6" stroke-width="3" stroke-linejoin="round"/>
<polygon points="374.2,498.5 385.8,496.2 392.0,496.9 408.8,492.1 418.5,494.5 428.1,501.7 435.3,511.3 440.1,530.6 438.9,540.0 435.3,547.2 423.3,554.4 404.0,553.2 380.0,549.6 367.3,544.6 363.8,535.4 367.3,516.9" fill="#7a0af6" stroke="#7a0af6" stroke-width="3" stroke-linejoin="round"/>
<polygon points="421.0,493.0 437.0,494.5 452.1,490.5 468.9,486.0 483.4,487.0 495.4,496.9 499.0,508.9 499.0,535.4 490.6,541.2 476.2,546.0 454.5,544.8 442.5,537.0 439.5,525.0 437.5,515.0 434.0,507.0 428.0,500.0" fill="#7808f6" stroke="#7808f6" stroke-width="3" stroke-linejoin="round"/>
<polygon points="293.5,526.2 305.0,523.8 321.2,528.5 335.0,535.4 348.8,544.6 350.0,551.5 346.5,565.4 339.6,574.6 328.1,579.2 309.6,576.9 295.8,570.0 287.7,558.5 287.0,540.0" fill="#7c0cf6" stroke="#7c0cf6" stroke-width="3" stroke-linejoin="round"/>
<polygon points="353.5,549.2 367.3,546.9 380.0,552.0 394.4,554.4 411.3,561.6 423.3,566.4 432.9,583.3 442.5,588.1 452.1,600.1 454.5,606.1 449.7,612.1 444.9,628.9 440.1,641.0 437.7,650.6 432.9,648.2 423.3,641.0 411.3,633.8 404.0,631.3 394.4,626.5 383.5,611.5 367.3,606.9 351.2,600.0 341.9,590.8 344.2,574.6 348.8,560.8" fill="#7e10f4" stroke="#7e10f4" stroke-width="3" stroke-linejoin="round"/>
<polygon points="280.8,572.3 293.5,574.6 309.6,583.8 318.8,593.1 321.2,609.2 318.8,625.4 309.6,636.9 293.5,641.5 280.8,641.5" fill="#7c0cf6" stroke="#7c0cf6" stroke-width="3" stroke-linejoin="round"/>
<polygon points="330.4,613.8 344.2,608.1 362.7,609.2 381.2,616.2 389.6,621.7 394.4,631.3 395.6,645.8 389.6,655.4 374.2,655.4 355.8,655.4 332.7,650.8 318.8,641.5 321.2,632.3 328.1,623.1" fill="#7a0af6" stroke="#7a0af6" stroke-width="3" stroke-linejoin="round"/>
</g>
<g filter="url(#nb)">
<polygon points="425,590 450,602 452,608 446,628 440,645 432,640 420,625 418,600" fill="#9c3cf6"/>
<ellipse cx="347" cy="448" rx="14" ry="9" fill="#a440f2"/><ellipse cx="332" cy="436" rx="8" ry="5" fill="#e8b8f8"/><ellipse cx="362" cy="437" rx="7" ry="5" fill="#e0b0f8"/>
<ellipse cx="305" cy="468" rx="18" ry="22" fill="#6e00f2"/>
<ellipse cx="376.5" cy="470.5" rx="17" ry="19" fill="#6800f0"/>
<ellipse cx="447" cy="465.5" rx="19" ry="19" fill="#6a00f2"/>
<ellipse cx="468" cy="517" rx="21" ry="20" fill="#6c00f2"/>
<ellipse cx="322" cy="558" rx="18" ry="16" fill="#6c00f0"/>
<ellipse cx="298" cy="609" rx="15" ry="15" fill="#6c00f0"/>
<ellipse cx="342" cy="630" rx="16" ry="14" fill="#6e02f0"/>
<ellipse cx="405" cy="520" rx="20" ry="18" fill="#7206f2"/>
</g>
<g opacity="0.7" filter="url(#cb)"><circle cx="308.1" cy="462.4" r="0.5" fill="#b060f8"/><circle cx="301.1" cy="470.5" r="0.5" fill="#b060f8"/><circle cx="315.2" cy="459.0" r="0.8" fill="#b060f8"/><circle cx="325.3" cy="469.4" r="0.9" fill="#b060f8"/><circle cx="316.5" cy="447.5" r="0.9" fill="#b060f8"/><circle cx="295.3" cy="501.6" r="0.6" fill="#b060f8"/><circle cx="292.9" cy="502.6" r="1.2" fill="#b060f8"/><circle cx="282.0" cy="490.2" r="0.5" fill="#b060f8"/><circle cx="307.4" cy="472.3" r="0.7" fill="#b060f8"/><circle cx="298.1" cy="496.7" r="0.8" fill="#b060f8"/><circle cx="288.8" cy="489.6" r="0.9" fill="#b060f8"/><circle cx="322.9" cy="459.0" r="0.8" fill="#b060f8"/><circle cx="323.0" cy="477.0" r="0.9" fill="#b060f8"/><circle cx="293.4" cy="444.5" r="1.2" fill="#b060f8"/><circle cx="300.3" cy="506.3" r="0.8" fill="#b060f8"/><circle cx="330.2" cy="480.2" r="0.7" fill="#b060f8"/><circle cx="319.9" cy="488.0" r="1.0" fill="#b060f8"/><circle cx="305.4" cy="458.1" r="1.0" fill="#b060f8"/><circle cx="286.6" cy="489.2" r="1.0" fill="#b060f8"/><circle cx="300.8" cy="496.2" r="0.7" fill="#b060f8"/><circle cx="301.5" cy="496.2" r="0.8" fill="#b060f8"/><circle cx="318.4" cy="483.9" r="1.3" fill="#b060f8"/><circle cx="323.5" cy="453.6" r="1.1" fill="#b060f8"/><circle cx="325.5" cy="470.0" r="0.9" fill="#b060f8"/><circle cx="297.7" cy="470.0" r="0.5" fill="#b060f8"/><circle cx="303.1" cy="485.2" r="1.2" fill="#b060f8"/><circle cx="329.5" cy="465.1" r="1.3" fill="#b060f8"/><circle cx="290.9" cy="497.8" r="0.6" fill="#b060f8"/><circle cx="302.3" cy="448.3" r="1.2" fill="#b060f8"/><circle cx="324.5" cy="452.7" r="0.9" fill="#b060f8"/><circle cx="294.6" cy="476.0" r="0.9" fill="#b060f8"/><circle cx="295.6" cy="473.0" r="0.5" fill="#b060f8"/><circle cx="281.1" cy="456.4" r="0.8" fill="#b060f8"/><circle cx="306.2" cy="473.5" r="1.0" fill="#b060f8"/><circle cx="326.1" cy="465.8" r="1.1" fill="#b060f8"/><circle cx="301.9" cy="482.7" r="1.1" fill="#b060f8"/><circle cx="307.3" cy="489.1" r="1.1" fill="#b060f8"/><circle cx="288.8" cy="457.6" r="0.7" fill="#b060f8"/><circle cx="283.6" cy="457.8" r="1.0" fill="#b060f8"/><circle cx="327.5" cy="466.6" r="0.8" fill="#b060f8"/><circle cx="380.6" cy="475.9" r="1.2" fill="#c080f8"/><circle cx="410.3" cy="455.5" r="1.1" fill="#c080f8"/><circle cx="376.3" cy="485.5" r="0.7" fill="#c080f8"/><circle cx="406.4" cy="464.2" r="1.2" fill="#c080f8"/><circle cx="387.3" cy="451.5" r="0.9" fill="#c080f8"/><circle cx="387.0" cy="462.3" r="1.2" fill="#c080f8"/><circle cx="358.0" cy="467.7" r="0.9" fill="#c080f8"/><circle cx="390.9" cy="479.2" r="1.0" fill="#c080f8"/><circle cx="388.9" cy="463.3" r="1.1" fill="#c080f8"/><circle cx="371.0" cy="467.4" r="1.1" fill="#c080f8"/><circle cx="373.6" cy="460.1" r="0.7" fill="#c080f8"/><circle cx="370.9" cy="488.0" r="0.6" fill="#c080f8"/><circle cx="396.1" cy="447.1" r="0.6" fill="#c080f8"/><circle cx="367.8" cy="475.8" r="1.0" fill="#c080f8"/><circle cx="388.1" cy="460.7" r="0.7" fill="#c080f8"/><circle cx="384.6" cy="492.1" r="0.7" fill="#c080f8"/><circle cx="398.5" cy="447.2" r="0.7" fill="#c080f8"/><circle cx="375.3" cy="436.6" r="1.3" fill="#c080f8"/><circle cx="377.6" cy="442.2" r="0.5" fill="#c080f8"/><circle cx="380.6" cy="470.6" r="1.4" fill="#c080f8"/><circle cx="407.5" cy="446.6" r="1.1" fill="#c080f8"/><circle cx="409.2" cy="437.2" r="1.3" fill="#c080f8"/><circle cx="379.4" cy="482.7" r="0.8" fill="#c080f8"/><circle cx="392.4" cy="464.3" r="0.6" fill="#c080f8"/><circle cx="400.1" cy="485.5" r="0.9" fill="#c080f8"/><circle cx="378.9" cy="493.8" r="0.8" fill="#c080f8"/><circle cx="406.9" cy="458.4" r="0.8" fill="#c080f8"/><circle cx="377.4" cy="434.4" r="0.7" fill="#c080f8"/><circle cx="387.7" cy="460.0" r="0.5" fill="#c080f8"/><circle cx="364.5" cy="455.4" r="1.4" fill="#c080f8"/><circle cx="363.3" cy="457.8" r="1.2" fill="#c080f8"/><circle cx="409.7" cy="476.2" r="0.7" fill="#c080f8"/><circle cx="384.2" cy="447.1" r="1.3" fill="#c080f8"/><circle cx="410.8" cy="435.2" r="1.0" fill="#c080f8"/><circle cx="367.4" cy="457.5" r="1.2" fill="#c080f8"/><circle cx="397.4" cy="443.1" r="0.8" fill="#c080f8"/><circle cx="381.1" cy="456.2" r="1.1" fill="#c080f8"/><circle cx="401.7" cy="452.8" r="0.9" fill="#c080f8"/><circle cx="360.7" cy="454.9" r="1.4" fill="#c080f8"/><circle cx="385.4" cy="467.7" r="1.0" fill="#c080f8"/><circle cx="405.8" cy="630.3" r="0.7" fill="#b870f6"/><circle cx="395.2" cy="596.0" r="1.3" fill="#b870f6"/><circle cx="356.6" cy="600.2" r="0.7" fill="#b870f6"/><circle cx="363.3" cy="585.6" r="0.5" fill="#b870f6"/><circle cx="349.8" cy="563.3" r="0.7" fill="#b870f6"/><circle cx="367.4" cy="574.3" r="1.0" fill="#b870f6"/><circle cx="383.1" cy="606.1" r="1.0" fill="#b870f6"/><circle cx="417.0" cy="597.7" r="1.1" fill="#b870f6"/><circle cx="371.3" cy="578.4" r="1.0" fill="#b870f6"/><circle cx="362.4" cy="573.2" r="1.3" fill="#b870f6"/><circle cx="408.1" cy="572.2" r="1.1" fill="#b870f6"/><circle cx="407.6" cy="607.6" r="0.6" fill="#b870f6"/><circle cx="419.9" cy="600.9" r="1.0" fill="#b870f6"/><circle cx="375.7" cy="573.4" r="0.6" fill="#b870f6"/><circle cx="377.1" cy="605.0" r="0.5" fill="#b870f6"/><circle cx="374.4" cy="573.5" r="0.6" fill="#b870f6"/><circle cx="431.1" cy="646.7" r="1.3" fill="#b870f6"/><circle cx="381.2" cy="601.3" r="0.8" fill="#b870f6"/><circle cx="424.2" cy="624.0" r="1.3" fill="#b870f6"/><circle cx="394.7" cy="571.6" r="1.3" fill="#b870f6"/><circle cx="434.3" cy="646.5" r="0.5" fill="#b870f6"/><circle cx="363.2" cy="590.8" r="1.0" fill="#b870f6"/><circle cx="429.6" cy="604.6" r="1.0" fill="#b870f6"/><circle cx="363.3" cy="559.8" r="0.8" fill="#b870f6"/><circle cx="378.6" cy="593.9" r="0.7" fill="#b870f6"/><circle cx="421.5" cy="632.2" r="0.5" fill="#b870f6"/><circle cx="376.4" cy="597.3" r="0.9" fill="#b870f6"/><circle cx="360.5" cy="600.7" r="0.6" fill="#b870f6"/><circle cx="435.9" cy="589.6" r="1.2" fill="#b870f6"/><circle cx="386.0" cy="594.4" r="0.6" fill="#b870f6"/><circle cx="405.5" cy="606.7" r="1.3" fill="#b870f6"/><circle cx="366.6" cy="594.4" r="0.6" fill="#b870f6"/><circle cx="384.3" cy="582.3" r="0.7" fill="#b870f6"/><circle cx="429.1" cy="609.2" r="1.0" fill="#b870f6"/><circle cx="400.5" cy="557.6" r="1.0" fill="#b870f6"/><circle cx="394.4" cy="592.8" r="1.3" fill="#b870f6"/><circle cx="435.1" cy="602.3" r="0.5" fill="#b870f6"/><circle cx="402.3" cy="612.2" r="0.6" fill="#b870f6"/><circle cx="402.5" cy="626.1" r="0.6" fill="#b870f6"/><circle cx="350.4" cy="582.1" r="0.6" fill="#b870f6"/></g>
<g filter="url(#cb)"><circle cx="362.7" cy="595.4" r="4.8" fill="#f6e0fa"/><circle cx="348.8" cy="574.6" r="2.8" fill="#ecc8f8"/><circle cx="417" cy="610" r="4.2" fill="#eccaf8"/><circle cx="414" cy="621" r="2.6" fill="#e4bcf6"/><circle cx="413" cy="628" r="2.4" fill="#e4bcf6"/><circle cx="491" cy="436" r="5" fill="#fbf5fd"/></g>
<g filter="url(#cb)">
<polygon points="281.0,452.0 283.0,447.0 290.0,444.0 300.0,443.5 312.0,444.0 322.0,443.5 327.0,447.0 331.0,456.0 333.5,468.0 333.5,487.0 326.0,493.0 317.0,499.0 306.5,506.0 303.0,509.5 297.0,508.0 290.0,503.0 283.0,497.0 281.0,485.0" fill="none" stroke="#eec4f6" stroke-width="1.1" stroke-linejoin="round"/>
<polygon points="323.5,430.4 371.9,430.4 367.3,445.4 360.4,456.9 353.5,465.0 337.3,465.0 330.4,454.6 326.9,443.1" fill="none" stroke="#eec4f6" stroke-width="1.1" stroke-linejoin="round"/>
<polygon points="376.5,433.8 385.8,430.4 400.0,430.5 413.7,432.0 413.7,460.0 413.2,487.3 395.0,496.2 385.8,497.3 374.2,493.9 365.0,486.9 358.1,477.7 356.9,466.2 361.5,450.0 369.6,440.8" fill="none" stroke="#eec4f6" stroke-width="1.1" stroke-linejoin="round"/>
<polygon points="416.0,430.8 485.8,429.6 483.4,441.6 481.0,451.3 478.6,463.3 476.2,482.5 471.3,484.9 459.3,486.1 442.5,492.1 428.1,494.5 418.5,489.7 416.0,480.1 414.9,456.1" fill="none" stroke="#eec4f6" stroke-width="1.1" stroke-linejoin="round"/>
<polygon points="483.4,446.4 493.0,436.8 499.0,438.0 499.0,504.1 490.6,492.1 481.0,482.5 479.8,468.1" fill="none" stroke="#eec4f6" stroke-width="1.1" stroke-linejoin="round"/>
<polygon points="337.3,466.2 353.5,466.2 354.6,477.7 358.1,486.9 369.6,496.2 371.9,499.6 367.3,516.9 362.7,530.8 360.4,540.0 344.2,533.1 328.1,523.8 309.6,516.9 305.0,512.3 307.3,507.7 321.2,498.5 332.7,489.2 336.2,477.7" fill="none" stroke="#eec4f6" stroke-width="1.1" stroke-linejoin="round"/>
<polygon points="374.2,498.5 385.8,496.2 392.0,496.9 408.8,492.1 418.5,494.5 428.1,501.7 435.3,511.3 440.1,530.6 438.9,540.0 435.3,547.2 423.3,554.4 404.0,553.2 380.0,549.6 367.3,544.6 363.8,535.4 367.3,516.9" fill="none" stroke="#eec4f6" stroke-width="1.1" stroke-linejoin="round"/>
<polygon points="421.0,493.0 437.0,494.5 452.1,490.5 468.9,486.0 483.4,487.0 495.4,496.9 499.0,508.9 499.0,535.4 490.6,541.2 476.2,546.0 454.5,544.8 442.5,537.0 439.5,525.0 437.5,515.0 434.0,507.0 428.0,500.0" fill="none" stroke="#eec4f6" stroke-width="1.1" stroke-linejoin="round"/>
<polygon points="293.5,526.2 305.0,523.8 321.2,528.5 335.0,535.4 348.8,544.6 350.0,551.5 346.5,565.4 339.6,574.6 328.1,579.2 309.6,576.9 295.8,570.0 287.7,558.5 287.0,540.0" fill="none" stroke="#eec4f6" stroke-width="1.1" stroke-linejoin="round"/>
<polygon points="353.5,549.2 367.3,546.9 380.0,552.0 394.4,554.4 411.3,561.6 423.3,566.4 432.9,583.3 442.5,588.1 452.1,600.1 454.5,606.1 449.7,612.1 444.9,628.9 440.1,641.0 437.7,650.6 432.9,648.2 423.3,641.0 411.3,633.8 404.0,631.3 394.4,626.5 383.5,611.5 367.3,606.9 351.2,600.0 341.9,590.8 344.2,574.6 348.8,560.8" fill="none" stroke="#eec4f6" stroke-width="1.1" stroke-linejoin="round"/>
<polygon points="280.8,572.3 293.5,574.6 309.6,583.8 318.8,593.1 321.2,609.2 318.8,625.4 309.6,636.9 293.5,641.5 280.8,641.5" fill="none" stroke="#eec4f6" stroke-width="1.1" stroke-linejoin="round"/>
<polygon points="330.4,613.8 344.2,608.1 362.7,609.2 381.2,616.2 389.6,621.7 394.4,631.3 395.6,645.8 389.6,655.4 374.2,655.4 355.8,655.4 332.7,650.8 318.8,641.5 321.2,632.3 328.1,623.1" fill="none" stroke="#eec4f6" stroke-width="1.1" stroke-linejoin="round"/>
</g>
</g>
<text transform="translate(2.57,760.80) scale(0.9325,1)" font-family="Liberation Sans" font-weight="bold" font-size="33.48" fill="#000" >D</text>
<text transform="translate(131.55,761.67) scale(1.0265,1)" font-family="Liberation Serif" font-weight="normal" font-size="23.12" fill="#000" >Control</text>
<text transform="translate(340.18,755.80) scale(1.1334,1)" font-family="Liberation Serif" font-weight="normal" font-size="21.06" fill="#000">MN1-TEL (+)</text>
<line x1="39.1" y1="786" x2="39.1" y2="969.8" stroke="#000" stroke-width="2"/>
<polygon points="39.1,771.3 29.6,788.8 48.6,788.8" fill="#000"/>
<line x1="38.1" y1="968.9" x2="492" y2="968.9" stroke="#000" stroke-width="2"/>
<polygon points="489.2,960.4 507.8,969.3 489.2,978.4" fill="#000"/>
<text transform="translate(28.34,895.22) rotate(-90) scale(0.9282,1)" font-family="Liberation Serif" font-weight="bold" font-size="26.27" fill="#000">Gr1</text>
<text transform="translate(267.56,996.01) scale(1.1795,1)" font-family="Liberation Serif" font-weight="bold" font-size="19.25" fill="#000" >Mac1</text>
<path d="M96.0 897.3h1.3v1.3h-1.3zM115.1 919.1h1.3v1.3h-1.3zM90.6 919.3h1.3v1.3h-1.3zM104.6 913.8h1.3v1.3h-1.3zM107.5 934.7h1.3v1.3h-1.3zM120.6 914.3h1.3v1.3h-1.3zM106.4 914.7h1.3v1.3h-1.3zM89.3 907.7h1.3v1.3h-1.3zM108.7 915.5h1.3v1.3h-1.3zM93.0 905.1h1.3v1.3h-1.3zM81.4 930.8h1.3v1.3h-1.3zM101.8 920.9h1.3v1.3h-1.3zM73.5 922.6h1.3v1.3h-1.3zM87.9 927.0h1.3v1.3h-1.3zM73.5 912.7h1.3v1.3h-1.3zM109.9 915.8h1.3v1.3h-1.3zM83.5 908.6h1.3v1.3h-1.3zM107.0 916.6h1.3v1.3h-1.3zM104.2 901.0h1.3v1.3h-1.3zM92.1 922.6h1.3v1.3h-1.3zM101.0 910.2h1.3v1.3h-1.3zM113.1 928.1h1.3v1.3h-1.3zM84.8 922.9h1.3v1.3h-1.3zM73.5 911.7h1.3v1.3h-1.3zM103.9 921.7h1.3v1.3h-1.3zM117.7 903.6h1.3v1.3h-1.3zM105.5 908.5h1.3v1.3h-1.3zM110.8 928.7h1.3v1.3h-1.3zM105.3 906.1h1.3v1.3h-1.3zM73.5 909.1h1.3v1.3h-1.3zM91.4 904.0h1.3v1.3h-1.3zM88.4 913.3h1.3v1.3h-1.3zM101.0 923.3h1.3v1.3h-1.3zM105.1 914.4h1.3v1.3h-1.3zM103.4 919.2h1.3v1.3h-1.3zM112.9 906.1h1.3v1.3h-1.3zM92.6 905.8h1.3v1.3h-1.3zM115.7 892.3h1.3v1.3h-1.3zM73.5 902.8h1.3v1.3h-1.3zM102.9 914.2h1.3v1.3h-1.3zM79.2 898.5h1.3v1.3h-1.3zM75.1 906.5h1.3v1.3h-1.3zM116.4 931.8h1.3v1.3h-1.3zM90.6 928.4h1.3v1.3h-1.3zM99.4 895.5h1.3v1.3h-1.3zM128.0 933.8h1.3v1.3h-1.3zM86.2 904.9h1.3v1.3h-1.3zM120.8 908.2h1.3v1.3h-1.3zM83.4 909.7h1.3v1.3h-1.3zM95.2 915.5h1.3v1.3h-1.3zM83.6 908.6h1.3v1.3h-1.3zM100.4 914.2h1.3v1.3h-1.3zM91.9 928.1h1.3v1.3h-1.3zM87.6 899.1h1.3v1.3h-1.3zM92.4 929.9h1.3v1.3h-1.3zM116.9 907.0h1.3v1.3h-1.3zM129.4 912.4h1.3v1.3h-1.3zM88.0 930.0h1.3v1.3h-1.3zM116.7 883.2h1.3v1.3h-1.3zM82.2 920.7h1.3v1.3h-1.3zM105.0 922.8h1.3v1.3h-1.3zM91.1 917.2h1.3v1.3h-1.3zM98.5 900.4h1.3v1.3h-1.3zM95.8 902.4h1.3v1.3h-1.3zM88.7 909.3h1.3v1.3h-1.3zM73.5 930.0h1.3v1.3h-1.3zM108.2 920.0h1.3v1.3h-1.3zM104.8 906.8h1.3v1.3h-1.3zM116.7 903.7h1.3v1.3h-1.3zM111.8 914.4h1.3v1.3h-1.3zM84.2 921.7h1.3v1.3h-1.3zM87.6 926.3h1.3v1.3h-1.3zM86.6 914.2h1.3v1.3h-1.3zM99.5 917.1h1.3v1.3h-1.3zM73.5 914.0h1.3v1.3h-1.3zM99.1 900.5h1.3v1.3h-1.3zM104.7 920.6h1.3v1.3h-1.3zM83.8 889.7h1.3v1.3h-1.3zM107.6 891.8h1.3v1.3h-1.3zM129.7 922.7h1.3v1.3h-1.3zM101.6 907.8h1.3v1.3h-1.3zM104.4 906.8h1.3v1.3h-1.3zM98.7 911.1h1.3v1.3h-1.3zM73.5 915.1h1.3v1.3h-1.3zM83.4 911.7h1.3v1.3h-1.3zM87.9 905.9h1.3v1.3h-1.3zM108.6 909.5h1.3v1.3h-1.3zM100.5 912.0h1.3v1.3h-1.3zM88.2 915.0h1.3v1.3h-1.3zM87.5 908.6h1.3v1.3h-1.3zM95.7 906.4h1.3v1.3h-1.3zM74.1 902.8h1.3v1.3h-1.3zM83.2 921.7h1.3v1.3h-1.3zM92.3 919.7h1.3v1.3h-1.3zM100.1 919.8h1.3v1.3h-1.3zM78.2 923.0h1.3v1.3h-1.3zM116.5 912.6h1.3v1.3h-1.3zM76.7 913.0h1.3v1.3h-1.3zM73.5 892.3h1.3v1.3h-1.3zM73.5 907.6h1.3v1.3h-1.3zM104.2 930.0h1.3v1.3h-1.3zM100.3 901.5h1.3v1.3h-1.3zM103.0 910.1h1.3v1.3h-1.3zM110.7 911.3h1.3v1.3h-1.3zM100.8 914.6h1.3v1.3h-1.3zM105.6 924.1h1.3v1.3h-1.3zM108.2 919.0h1.3v1.3h-1.3zM77.9 908.9h1.3v1.3h-1.3zM122.7 901.9h1.3v1.3h-1.3zM87.1 905.0h1.3v1.3h-1.3zM88.1 914.6h1.3v1.3h-1.3zM96.9 940.1h1.3v1.3h-1.3zM98.5 925.1h1.3v1.3h-1.3zM84.2 930.3h1.3v1.3h-1.3zM73.5 924.1h1.3v1.3h-1.3zM108.7 893.7h1.3v1.3h-1.3zM95.0 900.4h1.3v1.3h-1.3zM91.2 935.4h1.3v1.3h-1.3zM97.8 907.9h1.3v1.3h-1.3zM88.5 909.6h1.3v1.3h-1.3zM104.6 923.2h1.3v1.3h-1.3zM73.5 915.7h1.3v1.3h-1.3zM92.0 917.2h1.3v1.3h-1.3zM111.3 893.0h1.3v1.3h-1.3zM88.7 905.0h1.3v1.3h-1.3zM110.6 904.8h1.3v1.3h-1.3zM112.3 917.7h1.3v1.3h-1.3zM107.3 889.5h1.3v1.3h-1.3zM108.4 920.4h1.3v1.3h-1.3zM105.2 898.4h1.3v1.3h-1.3zM101.4 919.7h1.3v1.3h-1.3zM120.3 927.7h1.3v1.3h-1.3zM103.5 913.3h1.3v1.3h-1.3zM76.2 898.9h1.3v1.3h-1.3zM101.0 926.7h1.3v1.3h-1.3zM105.1 918.2h1.3v1.3h-1.3zM73.5 921.2h1.3v1.3h-1.3zM99.7 905.7h1.3v1.3h-1.3zM98.1 912.6h1.3v1.3h-1.3zM103.0 915.6h1.3v1.3h-1.3zM114.4 911.4h1.3v1.3h-1.3zM100.2 906.8h1.3v1.3h-1.3zM78.4 921.4h1.3v1.3h-1.3zM120.0 909.2h1.3v1.3h-1.3zM90.9 909.2h1.3v1.3h-1.3zM87.7 909.9h1.3v1.3h-1.3zM84.7 909.9h1.3v1.3h-1.3zM73.5 897.6h1.3v1.3h-1.3zM87.2 931.6h1.3v1.3h-1.3zM91.8 917.5h1.3v1.3h-1.3zM97.9 926.5h1.3v1.3h-1.3zM101.8 870.9h1.3v1.3h-1.3zM74.9 909.2h1.3v1.3h-1.3zM90.4 910.9h1.3v1.3h-1.3zM73.5 926.5h1.3v1.3h-1.3zM102.8 913.6h1.3v1.3h-1.3zM121.7 921.3h1.3v1.3h-1.3zM98.2 879.2h1.3v1.3h-1.3zM83.1 923.7h1.3v1.3h-1.3zM94.9 913.7h1.3v1.3h-1.3zM109.0 911.6h1.3v1.3h-1.3zM83.3 910.7h1.3v1.3h-1.3zM137.9 898.3h1.3v1.3h-1.3zM73.5 914.8h1.3v1.3h-1.3zM81.4 905.9h1.3v1.3h-1.3zM92.7 890.6h1.3v1.3h-1.3zM110.4 902.8h1.3v1.3h-1.3zM98.4 913.6h1.3v1.3h-1.3zM100.9 898.0h1.3v1.3h-1.3zM104.0 917.2h1.3v1.3h-1.3zM116.0 910.9h1.3v1.3h-1.3zM94.2 922.4h1.3v1.3h-1.3zM86.3 920.5h1.3v1.3h-1.3zM73.5 901.3h1.3v1.3h-1.3zM104.6 915.6h1.3v1.3h-1.3zM112.3 908.0h1.3v1.3h-1.3zM101.4 942.0h1.3v1.3h-1.3zM91.7 906.9h1.3v1.3h-1.3zM121.3 891.7h1.3v1.3h-1.3zM118.4 926.7h1.3v1.3h-1.3zM73.5 906.5h1.3v1.3h-1.3zM95.9 901.9h1.3v1.3h-1.3zM93.4 910.6h1.3v1.3h-1.3zM73.5 907.9h1.3v1.3h-1.3zM88.3 909.1h1.3v1.3h-1.3zM102.8 914.5h1.3v1.3h-1.3zM100.5 913.3h1.3v1.3h-1.3zM107.7 907.3h1.3v1.3h-1.3zM86.6 920.0h1.3v1.3h-1.3zM123.5 914.3h1.3v1.3h-1.3zM111.4 908.5h1.3v1.3h-1.3zM86.4 921.9h1.3v1.3h-1.3zM97.4 910.1h1.3v1.3h-1.3zM105.3 927.9h1.3v1.3h-1.3zM85.9 914.2h1.3v1.3h-1.3zM121.2 940.6h1.3v1.3h-1.3zM102.5 919.4h1.3v1.3h-1.3zM102.4 918.9h1.3v1.3h-1.3zM101.3 894.9h1.3v1.3h-1.3zM101.1 908.1h1.3v1.3h-1.3zM101.4 921.9h1.3v1.3h-1.3zM104.2 915.6h1.3v1.3h-1.3zM82.4 913.6h1.3v1.3h-1.3zM91.8 904.4h1.3v1.3h-1.3zM94.7 919.3h1.3v1.3h-1.3zM118.9 901.6h1.3v1.3h-1.3zM115.9 906.1h1.3v1.3h-1.3zM93.7 918.0h1.3v1.3h-1.3zM90.9 902.1h1.3v1.3h-1.3zM97.2 930.4h1.3v1.3h-1.3zM94.8 929.6h1.3v1.3h-1.3zM98.1 927.2h1.3v1.3h-1.3zM75.1 911.8h1.3v1.3h-1.3zM94.2 932.5h1.3v1.3h-1.3zM107.5 887.9h1.3v1.3h-1.3zM73.5 891.9h1.3v1.3h-1.3zM84.4 918.9h1.3v1.3h-1.3zM92.6 930.0h1.3v1.3h-1.3zM116.3 907.4h1.3v1.3h-1.3zM83.3 916.4h1.3v1.3h-1.3zM73.5 917.2h1.3v1.3h-1.3zM110.5 933.1h1.3v1.3h-1.3zM88.4 911.4h1.3v1.3h-1.3zM112.3 897.4h1.3v1.3h-1.3zM88.1 921.8h1.3v1.3h-1.3zM102.7 917.4h1.3v1.3h-1.3zM90.5 900.5h1.3v1.3h-1.3zM122.6 910.0h1.3v1.3h-1.3zM92.3 906.5h1.3v1.3h-1.3zM73.5 913.3h1.3v1.3h-1.3zM78.4 885.3h1.3v1.3h-1.3zM107.0 911.5h1.3v1.3h-1.3zM92.3 942.4h1.3v1.3h-1.3zM106.9 894.1h1.3v1.3h-1.3zM83.7 905.2h1.3v1.3h-1.3zM107.1 931.2h1.3v1.3h-1.3zM110.5 897.3h1.3v1.3h-1.3zM99.1 913.9h1.3v1.3h-1.3zM108.1 931.1h1.3v1.3h-1.3zM96.9 900.8h1.3v1.3h-1.3zM75.4 901.6h1.3v1.3h-1.3zM88.7 937.4h1.3v1.3h-1.3zM93.7 924.5h1.3v1.3h-1.3zM100.6 926.8h1.3v1.3h-1.3zM112.3 921.7h1.3v1.3h-1.3zM101.2 920.1h1.3v1.3h-1.3zM90.2 899.2h1.3v1.3h-1.3zM98.9 917.7h1.3v1.3h-1.3zM75.3 899.6h1.3v1.3h-1.3zM107.2 916.9h1.3v1.3h-1.3zM99.4 925.1h1.3v1.3h-1.3zM79.1 922.8h1.3v1.3h-1.3zM101.1 909.7h1.3v1.3h-1.3zM83.4 904.5h1.3v1.3h-1.3zM108.1 911.1h1.3v1.3h-1.3zM112.1 916.5h1.3v1.3h-1.3zM93.6 907.6h1.3v1.3h-1.3zM94.9 903.9h1.3v1.3h-1.3zM75.3 896.5h1.3v1.3h-1.3zM82.9 915.1h1.3v1.3h-1.3zM73.5 906.1h1.3v1.3h-1.3zM115.9 900.7h1.3v1.3h-1.3zM108.8 931.3h1.3v1.3h-1.3zM82.9 918.5h1.3v1.3h-1.3zM80.4 900.1h1.3v1.3h-1.3zM98.4 913.4h1.3v1.3h-1.3zM103.3 924.2h1.3v1.3h-1.3zM80.8 923.4h1.3v1.3h-1.3zM103.4 909.2h1.3v1.3h-1.3zM104.7 900.6h1.3v1.3h-1.3zM73.6 919.7h1.3v1.3h-1.3zM97.8 928.8h1.3v1.3h-1.3zM86.9 901.3h1.3v1.3h-1.3zM113.2 900.6h1.3v1.3h-1.3zM96.1 915.6h1.3v1.3h-1.3zM112.8 917.5h1.3v1.3h-1.3zM100.9 897.7h1.3v1.3h-1.3zM89.5 920.2h1.3v1.3h-1.3zM95.3 906.2h1.3v1.3h-1.3zM103.2 911.3h1.3v1.3h-1.3zM104.4 931.8h1.3v1.3h-1.3zM81.6 911.2h1.3v1.3h-1.3zM80.5 928.8h1.3v1.3h-1.3zM76.0 923.8h1.3v1.3h-1.3zM92.6 925.0h1.3v1.3h-1.3zM99.2 893.4h1.3v1.3h-1.3zM93.1 898.3h1.3v1.3h-1.3zM100.1 926.2h1.3v1.3h-1.3zM91.3 924.6h1.3v1.3h-1.3zM107.8 926.6h1.3v1.3h-1.3zM116.7 906.4h1.3v1.3h-1.3zM73.5 904.0h1.3v1.3h-1.3zM120.4 922.3h1.3v1.3h-1.3zM111.3 934.1h1.3v1.3h-1.3zM99.5 932.5h1.3v1.3h-1.3zM103.2 934.0h1.3v1.3h-1.3zM73.5 908.5h1.3v1.3h-1.3zM132.2 920.1h1.3v1.3h-1.3zM108.8 911.8h1.3v1.3h-1.3zM90.2 906.0h1.3v1.3h-1.3zM121.9 927.5h1.3v1.3h-1.3zM104.5 909.1h1.3v1.3h-1.3zM73.5 894.3h1.3v1.3h-1.3zM126.8 924.2h1.3v1.3h-1.3zM123.4 912.5h1.3v1.3h-1.3zM92.8 895.6h1.3v1.3h-1.3zM99.1 909.4h1.3v1.3h-1.3zM119.9 898.1h1.3v1.3h-1.3zM109.8 929.4h1.3v1.3h-1.3zM73.5 900.0h1.3v1.3h-1.3zM80.5 911.4h1.3v1.3h-1.3zM78.2 915.3h1.3v1.3h-1.3zM74.9 894.1h1.3v1.3h-1.3zM79.0 914.6h1.3v1.3h-1.3zM92.4 899.1h1.3v1.3h-1.3zM73.5 913.5h1.3v1.3h-1.3zM92.1 907.0h1.3v1.3h-1.3zM103.0 918.5h1.3v1.3h-1.3zM99.3 917.5h1.3v1.3h-1.3zM103.0 914.3h1.3v1.3h-1.3zM84.9 913.5h1.3v1.3h-1.3zM101.3 886.7h1.3v1.3h-1.3zM87.5 909.6h1.3v1.3h-1.3zM119.0 937.3h1.3v1.3h-1.3zM73.5 927.0h1.3v1.3h-1.3zM93.6 884.7h1.3v1.3h-1.3zM101.7 899.1h1.3v1.3h-1.3zM91.9 941.8h1.3v1.3h-1.3zM73.5 901.3h1.3v1.3h-1.3zM98.4 928.3h1.3v1.3h-1.3zM113.4 931.1h1.3v1.3h-1.3zM113.7 896.2h1.3v1.3h-1.3zM83.1 926.0h1.3v1.3h-1.3zM109.0 925.9h1.3v1.3h-1.3zM109.3 927.1h1.3v1.3h-1.3zM108.4 912.0h1.3v1.3h-1.3zM88.5 923.6h1.3v1.3h-1.3zM99.3 935.2h1.3v1.3h-1.3zM91.0 917.7h1.3v1.3h-1.3zM106.4 927.7h1.3v1.3h-1.3zM123.0 916.8h1.3v1.3h-1.3zM77.1 897.0h1.3v1.3h-1.3zM122.2 915.3h1.3v1.3h-1.3zM81.1 912.9h1.3v1.3h-1.3zM84.3 916.8h1.3v1.3h-1.3zM120.5 908.6h1.3v1.3h-1.3zM97.8 909.1h1.3v1.3h-1.3zM94.5 903.3h1.3v1.3h-1.3zM109.6 917.4h1.3v1.3h-1.3zM97.1 885.0h1.3v1.3h-1.3zM102.2 915.3h1.3v1.3h-1.3zM128.4 913.0h1.3v1.3h-1.3zM77.8 905.3h1.3v1.3h-1.3zM81.0 918.9h1.3v1.3h-1.3zM100.7 914.6h1.3v1.3h-1.3zM83.2 919.6h1.3v1.3h-1.3zM85.9 899.5h1.3v1.3h-1.3zM83.8 919.8h1.3v1.3h-1.3zM128.2 919.6h1.3v1.3h-1.3zM119.4 897.8h1.3v1.3h-1.3zM93.0 929.7h1.3v1.3h-1.3zM102.7 905.3h1.3v1.3h-1.3zM111.0 912.3h1.3v1.3h-1.3zM114.8 896.9h1.3v1.3h-1.3zM78.5 896.5h1.3v1.3h-1.3zM98.2 919.7h1.3v1.3h-1.3zM90.3 891.3h1.3v1.3h-1.3zM111.3 934.0h1.3v1.3h-1.3zM96.8 914.8h1.3v1.3h-1.3zM92.6 919.1h1.3v1.3h-1.3zM73.5 903.1h1.3v1.3h-1.3zM80.3 917.4h1.3v1.3h-1.3zM85.7 921.6h1.3v1.3h-1.3zM107.4 908.7h1.3v1.3h-1.3zM84.6 924.1h1.3v1.3h-1.3zM87.9 901.9h1.3v1.3h-1.3zM97.5 910.4h1.3v1.3h-1.3zM90.2 916.1h1.3v1.3h-1.3zM98.9 934.6h1.3v1.3h-1.3zM121.4 922.3h1.3v1.3h-1.3zM86.3 897.5h1.3v1.3h-1.3zM99.0 912.6h1.3v1.3h-1.3zM86.1 931.3h1.3v1.3h-1.3zM98.4 899.2h1.3v1.3h-1.3zM81.0 897.3h1.3v1.3h-1.3zM77.3 921.7h1.3v1.3h-1.3zM103.6 913.1h1.3v1.3h-1.3zM106.6 921.8h1.3v1.3h-1.3zM78.8 934.9h1.3v1.3h-1.3zM76.1 925.7h1.3v1.3h-1.3zM73.5 909.5h1.3v1.3h-1.3zM84.8 936.3h1.3v1.3h-1.3zM135.4 922.9h1.3v1.3h-1.3zM75.2 898.7h1.3v1.3h-1.3zM114.2 926.5h1.3v1.3h-1.3zM73.5 924.8h1.3v1.3h-1.3zM113.6 916.8h1.3v1.3h-1.3zM82.4 913.5h1.3v1.3h-1.3zM114.8 929.3h1.3v1.3h-1.3zM89.3 929.3h1.3v1.3h-1.3zM130.4 891.9h1.3v1.3h-1.3zM110.7 914.7h1.3v1.3h-1.3zM106.0 937.6h1.3v1.3h-1.3zM99.9 928.7h1.3v1.3h-1.3zM74.1 921.3h1.3v1.3h-1.3zM89.8 906.4h1.3v1.3h-1.3zM106.7 910.1h1.3v1.3h-1.3zM80.2 905.3h1.3v1.3h-1.3zM93.5 899.4h1.3v1.3h-1.3zM80.7 944.2h1.3v1.3h-1.3zM87.8 888.1h1.3v1.3h-1.3zM103.0 915.4h1.3v1.3h-1.3zM109.7 907.3h1.3v1.3h-1.3zM102.9 919.1h1.3v1.3h-1.3zM96.7 910.8h1.3v1.3h-1.3zM85.1 926.2h1.3v1.3h-1.3zM97.7 901.8h1.3v1.3h-1.3zM105.9 907.4h1.3v1.3h-1.3zM103.6 883.0h1.3v1.3h-1.3zM99.6 901.0h1.3v1.3h-1.3zM126.9 912.5h1.3v1.3h-1.3zM99.7 901.0h1.3v1.3h-1.3zM122.6 909.5h1.3v1.3h-1.3zM101.3 912.1h1.3v1.3h-1.3zM76.0 900.1h1.3v1.3h-1.3zM91.4 933.2h1.3v1.3h-1.3zM93.1 933.3h1.3v1.3h-1.3zM79.3 912.9h1.3v1.3h-1.3zM80.7 900.6h1.3v1.3h-1.3zM73.5 910.0h1.3v1.3h-1.3zM104.5 896.0h1.3v1.3h-1.3zM110.4 910.3h1.3v1.3h-1.3zM96.9 913.7h1.3v1.3h-1.3zM113.9 920.7h1.3v1.3h-1.3zM104.0 914.1h1.3v1.3h-1.3zM99.5 916.1h1.3v1.3h-1.3zM130.0 920.7h1.3v1.3h-1.3zM99.7 909.8h1.3v1.3h-1.3zM105.4 907.8h1.3v1.3h-1.3zM102.5 901.6h1.3v1.3h-1.3zM73.5 912.9h1.3v1.3h-1.3zM75.8 910.3h1.3v1.3h-1.3zM76.6 924.2h1.3v1.3h-1.3zM94.7 896.7h1.3v1.3h-1.3zM104.9 909.5h1.3v1.3h-1.3zM118.2 924.0h1.3v1.3h-1.3zM73.5 917.9h1.3v1.3h-1.3zM91.2 898.6h1.3v1.3h-1.3zM130.1 928.5h1.3v1.3h-1.3zM135.5 894.7h1.3v1.3h-1.3zM109.1 908.7h1.3v1.3h-1.3zM134.7 912.0h1.3v1.3h-1.3zM88.0 911.3h1.3v1.3h-1.3zM73.6 907.5h1.3v1.3h-1.3zM93.9 909.1h1.3v1.3h-1.3zM101.5 925.3h1.3v1.3h-1.3zM116.8 924.8h1.3v1.3h-1.3zM110.0 931.5h1.3v1.3h-1.3zM101.6 922.5h1.3v1.3h-1.3zM96.4 920.6h1.3v1.3h-1.3zM73.5 925.9h1.3v1.3h-1.3zM96.8 905.7h1.3v1.3h-1.3zM73.5 937.7h1.3v1.3h-1.3zM81.7 915.4h1.3v1.3h-1.3zM85.5 922.4h1.3v1.3h-1.3zM109.4 901.7h1.3v1.3h-1.3zM107.6 923.9h1.3v1.3h-1.3zM96.9 915.2h1.3v1.3h-1.3zM73.5 902.7h1.3v1.3h-1.3zM97.1 918.6h1.3v1.3h-1.3zM118.5 904.1h1.3v1.3h-1.3zM109.5 899.0h1.3v1.3h-1.3zM107.2 927.7h1.3v1.3h-1.3zM89.4 901.3h1.3v1.3h-1.3zM83.3 912.5h1.3v1.3h-1.3zM102.1 896.2h1.3v1.3h-1.3zM116.6 902.5h1.3v1.3h-1.3zM92.7 902.3h1.3v1.3h-1.3zM104.2 914.9h1.3v1.3h-1.3zM117.5 907.2h1.3v1.3h-1.3zM83.5 898.2h1.3v1.3h-1.3zM91.5 906.1h1.3v1.3h-1.3zM73.5 913.2h1.3v1.3h-1.3zM80.4 924.3h1.3v1.3h-1.3zM73.5 888.0h1.3v1.3h-1.3zM93.2 910.2h1.3v1.3h-1.3zM113.4 914.4h1.3v1.3h-1.3zM103.9 928.8h1.3v1.3h-1.3zM98.8 917.8h1.3v1.3h-1.3zM103.6 910.9h1.3v1.3h-1.3zM73.5 934.6h1.3v1.3h-1.3zM79.3 904.4h1.3v1.3h-1.3zM102.4 908.3h1.3v1.3h-1.3zM73.5 944.2h1.3v1.3h-1.3zM85.5 916.9h1.3v1.3h-1.3zM85.8 908.9h1.3v1.3h-1.3zM92.8 926.9h1.3v1.3h-1.3zM81.4 911.4h1.3v1.3h-1.3zM96.7 913.9h1.3v1.3h-1.3zM132.0 916.1h1.3v1.3h-1.3zM97.4 924.7h1.3v1.3h-1.3zM89.7 907.0h1.3v1.3h-1.3zM104.6 914.9h1.3v1.3h-1.3zM101.8 912.5h1.3v1.3h-1.3zM73.5 944.2h1.3v1.3h-1.3zM132.6 903.5h1.3v1.3h-1.3zM94.5 933.4h1.3v1.3h-1.3zM74.9 897.3h1.3v1.3h-1.3zM73.5 916.9h1.3v1.3h-1.3zM109.4 911.5h1.3v1.3h-1.3zM107.6 914.7h1.3v1.3h-1.3zM133.9 925.1h1.3v1.3h-1.3zM73.5 909.9h1.3v1.3h-1.3zM118.4 913.8h1.3v1.3h-1.3zM112.3 919.3h1.3v1.3h-1.3zM76.4 896.8h1.3v1.3h-1.3zM120.7 895.3h1.3v1.3h-1.3zM88.4 926.6h1.3v1.3h-1.3zM76.6 915.7h1.3v1.3h-1.3zM104.8 907.2h1.3v1.3h-1.3zM73.5 910.9h1.3v1.3h-1.3zM95.7 912.1h1.3v1.3h-1.3zM95.1 915.5h1.3v1.3h-1.3zM105.0 911.7h1.3v1.3h-1.3zM99.1 921.2h1.3v1.3h-1.3zM101.8 914.5h1.3v1.3h-1.3zM73.5 907.5h1.3v1.3h-1.3zM91.2 902.3h1.3v1.3h-1.3zM92.8 914.2h1.3v1.3h-1.3zM98.8 913.3h1.3v1.3h-1.3zM88.2 934.0h1.3v1.3h-1.3zM125.1 931.5h1.3v1.3h-1.3zM89.9 905.5h1.3v1.3h-1.3zM101.6 906.5h1.3v1.3h-1.3zM107.8 898.4h1.3v1.3h-1.3zM100.2 879.3h1.3v1.3h-1.3zM79.1 910.5h1.3v1.3h-1.3zM89.6 919.5h1.3v1.3h-1.3zM100.1 896.1h1.3v1.3h-1.3zM84.0 921.4h1.3v1.3h-1.3zM107.1 906.8h1.3v1.3h-1.3zM126.9 901.2h1.3v1.3h-1.3zM99.1 917.0h1.3v1.3h-1.3zM98.9 915.2h1.3v1.3h-1.3zM73.5 913.0h1.3v1.3h-1.3zM92.6 915.8h1.3v1.3h-1.3zM88.5 893.4h1.3v1.3h-1.3zM106.6 902.2h1.3v1.3h-1.3zM85.7 925.0h1.3v1.3h-1.3zM90.9 910.3h1.3v1.3h-1.3zM89.9 915.3h1.3v1.3h-1.3zM110.9 909.6h1.3v1.3h-1.3zM79.6 918.1h1.3v1.3h-1.3zM84.9 911.0h1.3v1.3h-1.3zM76.7 915.2h1.3v1.3h-1.3zM106.6 912.8h1.3v1.3h-1.3zM80.7 920.3h1.3v1.3h-1.3zM97.4 907.5h1.3v1.3h-1.3zM108.9 914.8h1.3v1.3h-1.3zM74.2 896.5h1.3v1.3h-1.3zM100.2 908.4h1.3v1.3h-1.3zM100.4 925.2h1.3v1.3h-1.3zM90.3 910.1h1.3v1.3h-1.3zM112.0 912.4h1.3v1.3h-1.3zM73.5 915.9h1.3v1.3h-1.3zM101.1 898.1h1.3v1.3h-1.3zM106.9 884.1h1.3v1.3h-1.3zM118.4 897.4h1.3v1.3h-1.3zM110.6 929.2h1.3v1.3h-1.3zM109.1 906.1h1.3v1.3h-1.3zM87.0 906.3h1.3v1.3h-1.3zM102.2 918.5h1.3v1.3h-1.3zM93.5 916.2h1.3v1.3h-1.3zM99.1 918.1h1.3v1.3h-1.3zM104.2 935.5h1.3v1.3h-1.3zM90.9 932.8h1.3v1.3h-1.3zM87.7 907.1h1.3v1.3h-1.3zM95.8 914.4h1.3v1.3h-1.3zM96.5 894.8h1.3v1.3h-1.3zM77.6 902.8h1.3v1.3h-1.3zM73.5 918.6h1.3v1.3h-1.3zM98.1 923.1h1.3v1.3h-1.3zM98.7 904.6h1.3v1.3h-1.3zM76.2 914.0h1.3v1.3h-1.3zM89.4 935.7h1.3v1.3h-1.3zM92.4 922.4h1.3v1.3h-1.3zM117.0 923.3h1.3v1.3h-1.3zM122.8 919.3h1.3v1.3h-1.3zM126.6 906.8h1.3v1.3h-1.3zM102.7 903.7h1.3v1.3h-1.3zM110.0 896.8h1.3v1.3h-1.3zM123.3 917.2h1.3v1.3h-1.3zM75.3 944.2h1.3v1.3h-1.3zM89.2 904.3h1.3v1.3h-1.3zM101.5 911.8h1.3v1.3h-1.3zM89.8 920.6h1.3v1.3h-1.3zM90.9 908.6h1.3v1.3h-1.3zM73.5 904.6h1.3v1.3h-1.3zM73.5 915.0h1.3v1.3h-1.3zM85.2 917.4h1.3v1.3h-1.3zM78.6 926.6h1.3v1.3h-1.3zM91.7 925.8h1.3v1.3h-1.3zM134.9 918.0h1.3v1.3h-1.3zM84.8 919.6h1.3v1.3h-1.3zM78.1 941.8h1.3v1.3h-1.3zM91.2 909.6h1.3v1.3h-1.3zM73.5 913.1h1.3v1.3h-1.3zM75.9 913.6h1.3v1.3h-1.3zM101.1 907.6h1.3v1.3h-1.3zM102.3 921.4h1.3v1.3h-1.3zM109.5 918.4h1.3v1.3h-1.3zM100.9 905.0h1.3v1.3h-1.3zM90.4 928.2h1.3v1.3h-1.3zM105.2 926.2h1.3v1.3h-1.3zM81.0 926.1h1.3v1.3h-1.3zM108.9 915.1h1.3v1.3h-1.3zM73.5 904.7h1.3v1.3h-1.3zM128.6 892.3h1.3v1.3h-1.3zM86.2 912.3h1.3v1.3h-1.3zM103.5 902.8h1.3v1.3h-1.3zM95.8 926.0h1.3v1.3h-1.3zM107.4 906.1h1.3v1.3h-1.3zM73.9 917.5h1.3v1.3h-1.3zM99.6 913.3h1.3v1.3h-1.3zM103.7 904.0h1.3v1.3h-1.3zM104.0 914.6h1.3v1.3h-1.3zM73.6 906.1h1.3v1.3h-1.3zM117.8 890.3h1.3v1.3h-1.3zM94.7 913.7h1.3v1.3h-1.3zM118.5 896.5h1.3v1.3h-1.3zM100.7 905.0h1.3v1.3h-1.3zM83.0 906.5h1.3v1.3h-1.3zM81.9 915.0h1.3v1.3h-1.3zM93.2 918.8h1.3v1.3h-1.3zM73.5 922.9h1.3v1.3h-1.3zM100.6 914.0h1.3v1.3h-1.3zM88.9 908.3h1.3v1.3h-1.3zM106.3 903.4h1.3v1.3h-1.3zM82.2 913.1h1.3v1.3h-1.3zM89.8 923.6h1.3v1.3h-1.3zM73.5 914.5h1.3v1.3h-1.3zM81.1 888.2h1.3v1.3h-1.3zM93.6 915.9h1.3v1.3h-1.3zM88.8 891.5h1.3v1.3h-1.3zM80.0 915.2h1.3v1.3h-1.3zM82.8 914.8h1.3v1.3h-1.3zM94.6 900.5h1.3v1.3h-1.3zM73.5 913.6h1.3v1.3h-1.3zM121.2 919.3h1.3v1.3h-1.3zM92.3 923.7h1.3v1.3h-1.3zM73.5 914.5h1.3v1.3h-1.3zM114.1 918.8h1.3v1.3h-1.3zM73.5 910.2h1.3v1.3h-1.3zM96.4 901.7h1.3v1.3h-1.3zM109.8 916.5h1.3v1.3h-1.3zM101.6 934.3h1.3v1.3h-1.3zM113.1 911.2h1.3v1.3h-1.3zM112.6 900.9h1.3v1.3h-1.3zM90.5 915.1h1.3v1.3h-1.3zM81.1 937.4h1.3v1.3h-1.3zM93.0 911.5h1.3v1.3h-1.3zM77.7 905.0h1.3v1.3h-1.3zM96.7 908.0h1.3v1.3h-1.3zM82.8 933.9h1.3v1.3h-1.3zM107.7 906.2h1.3v1.3h-1.3zM93.4 918.2h1.3v1.3h-1.3zM90.7 914.9h1.3v1.3h-1.3zM87.0 936.8h1.3v1.3h-1.3zM107.8 930.7h1.3v1.3h-1.3zM89.8 916.9h1.3v1.3h-1.3zM99.4 932.1h1.3v1.3h-1.3zM114.6 905.7h1.3v1.3h-1.3zM107.6 898.5h1.3v1.3h-1.3zM82.4 944.2h1.3v1.3h-1.3zM100.6 898.0h1.3v1.3h-1.3zM114.0 919.5h1.3v1.3h-1.3zM93.8 909.9h1.3v1.3h-1.3zM73.5 921.0h1.3v1.3h-1.3zM85.1 894.8h1.3v1.3h-1.3zM84.9 894.9h1.3v1.3h-1.3zM95.6 932.7h1.3v1.3h-1.3zM131.1 924.5h1.3v1.3h-1.3zM105.4 893.3h1.3v1.3h-1.3zM86.8 927.5h1.3v1.3h-1.3zM112.2 912.4h1.3v1.3h-1.3zM75.7 925.7h1.3v1.3h-1.3zM89.2 901.9h1.3v1.3h-1.3zM90.8 905.5h1.3v1.3h-1.3zM122.0 898.3h1.3v1.3h-1.3zM118.6 898.8h1.3v1.3h-1.3zM73.5 898.9h1.3v1.3h-1.3zM100.7 914.6h1.3v1.3h-1.3zM78.0 931.6h1.3v1.3h-1.3zM77.6 913.4h1.3v1.3h-1.3zM76.5 922.6h1.3v1.3h-1.3zM85.5 905.4h1.3v1.3h-1.3zM90.7 914.8h1.3v1.3h-1.3zM116.8 916.9h1.3v1.3h-1.3zM105.1 925.5h1.3v1.3h-1.3zM100.7 911.7h1.3v1.3h-1.3zM98.3 918.6h1.3v1.3h-1.3zM78.9 916.6h1.3v1.3h-1.3zM87.9 901.1h1.3v1.3h-1.3zM110.0 927.1h1.3v1.3h-1.3zM105.5 918.7h1.3v1.3h-1.3zM102.8 918.7h1.3v1.3h-1.3zM73.5 901.3h1.3v1.3h-1.3zM102.7 927.4h1.3v1.3h-1.3zM73.5 919.4h1.3v1.3h-1.3zM76.4 917.4h1.3v1.3h-1.3zM105.4 896.0h1.3v1.3h-1.3zM89.7 897.1h1.3v1.3h-1.3zM114.2 918.2h1.3v1.3h-1.3zM73.5 903.2h1.3v1.3h-1.3zM105.3 885.7h1.3v1.3h-1.3zM118.5 904.0h1.3v1.3h-1.3zM122.6 925.3h1.3v1.3h-1.3zM98.6 916.3h1.3v1.3h-1.3zM123.5 906.5h1.3v1.3h-1.3zM73.5 897.1h1.3v1.3h-1.3zM102.3 902.1h1.3v1.3h-1.3zM110.6 910.2h1.3v1.3h-1.3zM132.4 910.9h1.3v1.3h-1.3zM101.4 892.7h1.3v1.3h-1.3zM127.8 914.0h1.3v1.3h-1.3zM133.9 921.9h1.3v1.3h-1.3zM156.9 910.4h1.3v1.3h-1.3zM127.3 908.5h1.3v1.3h-1.3zM102.4 931.5h1.3v1.3h-1.3zM124.4 908.4h1.3v1.3h-1.3zM146.4 906.9h1.3v1.3h-1.3zM98.9 905.8h1.3v1.3h-1.3zM136.3 898.6h1.3v1.3h-1.3zM126.7 932.2h1.3v1.3h-1.3zM142.8 924.8h1.3v1.3h-1.3zM131.4 937.5h1.3v1.3h-1.3zM135.1 925.6h1.3v1.3h-1.3zM141.3 887.1h1.3v1.3h-1.3zM143.0 931.4h1.3v1.3h-1.3zM101.8 926.9h1.3v1.3h-1.3zM133.1 908.5h1.3v1.3h-1.3zM123.2 909.1h1.3v1.3h-1.3zM131.5 903.9h1.3v1.3h-1.3zM153.1 914.6h1.3v1.3h-1.3zM124.1 941.8h1.3v1.3h-1.3zM94.3 924.3h1.3v1.3h-1.3zM96.9 910.5h1.3v1.3h-1.3zM140.3 920.4h1.3v1.3h-1.3zM110.5 921.6h1.3v1.3h-1.3zM122.5 922.1h1.3v1.3h-1.3zM128.3 909.4h1.3v1.3h-1.3zM126.6 902.4h1.3v1.3h-1.3zM120.5 911.8h1.3v1.3h-1.3zM154.2 914.6h1.3v1.3h-1.3zM135.4 913.2h1.3v1.3h-1.3zM110.9 920.9h1.3v1.3h-1.3zM103.8 913.8h1.3v1.3h-1.3zM108.0 920.4h1.3v1.3h-1.3zM143.6 916.0h1.3v1.3h-1.3zM142.0 910.0h1.3v1.3h-1.3zM136.6 923.2h1.3v1.3h-1.3zM122.6 874.2h1.3v1.3h-1.3zM135.9 898.9h1.3v1.3h-1.3zM124.3 901.1h1.3v1.3h-1.3zM97.1 926.9h1.3v1.3h-1.3zM128.1 901.7h1.3v1.3h-1.3zM111.7 916.9h1.3v1.3h-1.3zM112.6 916.9h1.3v1.3h-1.3zM96.2 935.8h1.3v1.3h-1.3zM118.0 940.4h1.3v1.3h-1.3zM100.5 924.1h1.3v1.3h-1.3zM99.0 910.6h1.3v1.3h-1.3zM110.8 915.5h1.3v1.3h-1.3zM99.8 925.5h1.3v1.3h-1.3zM129.4 908.8h1.3v1.3h-1.3zM110.3 908.8h1.3v1.3h-1.3zM123.0 912.0h1.3v1.3h-1.3zM150.4 920.4h1.3v1.3h-1.3zM127.5 908.1h1.3v1.3h-1.3zM114.7 932.0h1.3v1.3h-1.3zM132.7 910.5h1.3v1.3h-1.3zM120.2 914.1h1.3v1.3h-1.3zM119.6 928.0h1.3v1.3h-1.3zM124.8 941.8h1.3v1.3h-1.3zM118.5 937.2h1.3v1.3h-1.3zM112.1 903.8h1.3v1.3h-1.3zM113.9 921.9h1.3v1.3h-1.3zM128.9 918.8h1.3v1.3h-1.3zM110.9 920.7h1.3v1.3h-1.3zM148.3 904.7h1.3v1.3h-1.3zM128.2 932.8h1.3v1.3h-1.3zM130.8 934.3h1.3v1.3h-1.3zM128.1 931.7h1.3v1.3h-1.3zM156.8 940.3h1.3v1.3h-1.3zM142.5 902.8h1.3v1.3h-1.3zM84.0 918.5h1.3v1.3h-1.3zM146.8 897.8h1.3v1.3h-1.3zM86.3 922.8h1.3v1.3h-1.3zM95.7 930.4h1.3v1.3h-1.3zM106.1 887.1h1.3v1.3h-1.3zM121.2 918.4h1.3v1.3h-1.3zM112.1 904.9h1.3v1.3h-1.3zM132.0 928.8h1.3v1.3h-1.3zM147.2 931.3h1.3v1.3h-1.3zM113.2 908.2h1.3v1.3h-1.3zM151.9 920.2h1.3v1.3h-1.3zM124.1 895.3h1.3v1.3h-1.3zM130.7 898.0h1.3v1.3h-1.3zM138.8 911.1h1.3v1.3h-1.3zM130.8 901.1h1.3v1.3h-1.3zM118.0 890.8h1.3v1.3h-1.3zM79.8 928.9h1.3v1.3h-1.3zM146.7 908.5h1.3v1.3h-1.3zM106.0 909.3h1.3v1.3h-1.3zM139.7 923.4h1.3v1.3h-1.3zM133.5 916.8h1.3v1.3h-1.3zM116.3 916.0h1.3v1.3h-1.3zM140.2 931.9h1.3v1.3h-1.3zM111.4 905.0h1.3v1.3h-1.3zM94.8 938.8h1.3v1.3h-1.3zM129.7 914.9h1.3v1.3h-1.3zM115.7 912.8h1.3v1.3h-1.3zM99.6 871.0h1.3v1.3h-1.3zM99.4 921.5h1.3v1.3h-1.3zM90.9 921.2h1.3v1.3h-1.3zM148.3 914.7h1.3v1.3h-1.3zM130.2 922.3h1.3v1.3h-1.3zM153.9 912.5h1.3v1.3h-1.3zM94.2 903.3h1.3v1.3h-1.3zM111.4 905.8h1.3v1.3h-1.3zM121.3 911.0h1.3v1.3h-1.3zM121.2 928.6h1.3v1.3h-1.3zM89.3 900.2h1.3v1.3h-1.3zM115.9 910.6h1.3v1.3h-1.3zM109.5 944.2h1.3v1.3h-1.3zM93.7 893.9h1.3v1.3h-1.3zM103.2 920.7h1.3v1.3h-1.3zM89.9 922.9h1.3v1.3h-1.3zM111.3 918.3h1.3v1.3h-1.3zM117.1 924.5h1.3v1.3h-1.3zM107.3 915.2h1.3v1.3h-1.3zM124.8 917.2h1.3v1.3h-1.3zM152.5 911.9h1.3v1.3h-1.3zM121.6 924.9h1.3v1.3h-1.3zM138.5 930.5h1.3v1.3h-1.3zM86.9 929.8h1.3v1.3h-1.3zM130.5 932.3h1.3v1.3h-1.3zM143.7 915.4h1.3v1.3h-1.3zM88.9 918.5h1.3v1.3h-1.3zM153.2 928.1h1.3v1.3h-1.3zM92.9 907.3h1.3v1.3h-1.3zM143.9 899.7h1.3v1.3h-1.3zM112.0 912.2h1.3v1.3h-1.3zM124.8 897.3h1.3v1.3h-1.3zM160.3 916.7h1.3v1.3h-1.3zM143.8 920.3h1.3v1.3h-1.3zM129.9 929.2h1.3v1.3h-1.3zM103.5 908.8h1.3v1.3h-1.3zM100.9 901.7h1.3v1.3h-1.3zM107.7 913.9h1.3v1.3h-1.3zM116.8 920.1h1.3v1.3h-1.3zM121.0 898.8h1.3v1.3h-1.3zM179.0 933.0h1.3v1.3h-1.3zM124.3 917.7h1.3v1.3h-1.3zM100.6 910.8h1.3v1.3h-1.3zM101.3 916.3h1.3v1.3h-1.3zM142.6 944.2h1.3v1.3h-1.3zM123.2 908.3h1.3v1.3h-1.3zM99.7 907.2h1.3v1.3h-1.3zM125.3 920.3h1.3v1.3h-1.3zM142.1 934.8h1.3v1.3h-1.3zM131.0 918.6h1.3v1.3h-1.3zM97.8 917.8h1.3v1.3h-1.3zM111.6 902.7h1.3v1.3h-1.3zM89.3 918.0h1.3v1.3h-1.3zM109.5 891.3h1.3v1.3h-1.3zM96.6 899.1h1.3v1.3h-1.3zM84.1 909.9h1.3v1.3h-1.3zM115.7 909.4h1.3v1.3h-1.3zM104.6 944.2h1.3v1.3h-1.3zM88.2 895.4h1.3v1.3h-1.3zM122.4 928.3h1.3v1.3h-1.3zM135.8 926.5h1.3v1.3h-1.3zM103.8 933.6h1.3v1.3h-1.3zM141.1 885.6h1.3v1.3h-1.3zM99.4 910.9h1.3v1.3h-1.3zM137.2 883.4h1.3v1.3h-1.3zM73.5 913.2h1.3v1.3h-1.3zM130.6 937.7h1.3v1.3h-1.3zM126.0 912.4h1.3v1.3h-1.3zM132.1 924.2h1.3v1.3h-1.3zM126.1 924.6h1.3v1.3h-1.3zM129.8 913.0h1.3v1.3h-1.3zM110.6 936.8h1.3v1.3h-1.3zM150.1 898.7h1.3v1.3h-1.3zM135.1 925.5h1.3v1.3h-1.3zM111.1 890.2h1.3v1.3h-1.3zM132.5 928.3h1.3v1.3h-1.3zM118.9 913.3h1.3v1.3h-1.3zM114.1 929.7h1.3v1.3h-1.3zM142.5 906.5h1.3v1.3h-1.3zM114.2 939.1h1.3v1.3h-1.3zM106.7 915.4h1.3v1.3h-1.3zM135.0 920.9h1.3v1.3h-1.3zM139.7 913.2h1.3v1.3h-1.3zM103.6 944.2h1.3v1.3h-1.3zM95.3 937.8h1.3v1.3h-1.3zM115.3 910.2h1.3v1.3h-1.3zM145.4 915.4h1.3v1.3h-1.3zM95.7 879.6h1.3v1.3h-1.3zM124.4 919.1h1.3v1.3h-1.3zM113.2 935.5h1.3v1.3h-1.3zM130.8 909.5h1.3v1.3h-1.3zM149.4 898.4h1.3v1.3h-1.3zM135.4 896.1h1.3v1.3h-1.3zM112.9 921.7h1.3v1.3h-1.3zM117.5 933.8h1.3v1.3h-1.3zM115.7 920.0h1.3v1.3h-1.3zM131.6 915.2h1.3v1.3h-1.3zM81.4 914.5h1.3v1.3h-1.3zM146.3 942.6h1.3v1.3h-1.3zM103.9 914.6h1.3v1.3h-1.3zM92.8 923.1h1.3v1.3h-1.3zM119.8 934.7h1.3v1.3h-1.3zM124.5 908.6h1.3v1.3h-1.3zM94.1 914.4h1.3v1.3h-1.3zM139.9 917.4h1.3v1.3h-1.3zM127.4 905.0h1.3v1.3h-1.3zM114.3 899.8h1.3v1.3h-1.3zM126.5 929.6h1.3v1.3h-1.3zM129.2 901.6h1.3v1.3h-1.3zM134.7 924.3h1.3v1.3h-1.3zM128.0 893.8h1.3v1.3h-1.3zM123.6 896.6h1.3v1.3h-1.3zM144.5 915.0h1.3v1.3h-1.3zM132.1 918.8h1.3v1.3h-1.3zM140.1 915.8h1.3v1.3h-1.3zM108.5 914.8h1.3v1.3h-1.3zM117.9 908.6h1.3v1.3h-1.3zM128.4 932.0h1.3v1.3h-1.3zM106.6 908.9h1.3v1.3h-1.3zM128.7 913.0h1.3v1.3h-1.3zM170.8 897.4h1.3v1.3h-1.3zM118.0 903.2h1.3v1.3h-1.3zM145.6 908.7h1.3v1.3h-1.3zM85.5 912.7h1.3v1.3h-1.3zM120.6 881.9h1.3v1.3h-1.3zM83.8 890.7h1.3v1.3h-1.3zM116.7 900.0h1.3v1.3h-1.3zM114.1 911.3h1.3v1.3h-1.3zM179.1 833.1h1.3v1.3h-1.3zM180.3 834.0h1.3v1.3h-1.3zM198.2 831.6h1.3v1.3h-1.3zM199.1 830.8h1.3v1.3h-1.3zM178.1 841.8h1.3v1.3h-1.3zM212.9 827.5h1.3v1.3h-1.3zM170.8 828.0h1.3v1.3h-1.3zM174.8 825.8h1.3v1.3h-1.3zM201.4 828.7h1.3v1.3h-1.3zM225.8 829.1h1.3v1.3h-1.3zM187.7 842.6h1.3v1.3h-1.3zM219.6 835.0h1.3v1.3h-1.3zM188.2 823.9h1.3v1.3h-1.3zM159.1 827.4h1.3v1.3h-1.3zM214.4 842.8h1.3v1.3h-1.3zM189.1 824.4h1.3v1.3h-1.3zM212.8 830.8h1.3v1.3h-1.3zM197.8 829.7h1.3v1.3h-1.3zM193.7 827.2h1.3v1.3h-1.3zM179.4 832.8h1.3v1.3h-1.3zM180.1 819.5h1.3v1.3h-1.3zM206.1 835.5h1.3v1.3h-1.3zM183.1 819.9h1.3v1.3h-1.3zM188.4 824.1h1.3v1.3h-1.3zM194.3 824.2h1.3v1.3h-1.3zM198.5 825.0h1.3v1.3h-1.3zM186.5 829.1h1.3v1.3h-1.3zM173.6 826.9h1.3v1.3h-1.3zM197.7 823.7h1.3v1.3h-1.3zM210.8 820.5h1.3v1.3h-1.3zM157.6 833.4h1.3v1.3h-1.3zM185.4 831.4h1.3v1.3h-1.3zM182.2 835.5h1.3v1.3h-1.3zM183.8 833.9h1.3v1.3h-1.3zM196.3 828.9h1.3v1.3h-1.3zM194.7 841.8h1.3v1.3h-1.3zM166.0 834.3h1.3v1.3h-1.3zM210.1 819.8h1.3v1.3h-1.3zM191.3 829.2h1.3v1.3h-1.3zM184.1 838.0h1.3v1.3h-1.3zM227.0 824.7h1.3v1.3h-1.3zM186.8 824.6h1.3v1.3h-1.3zM200.8 830.7h1.3v1.3h-1.3zM186.9 833.6h1.3v1.3h-1.3zM193.9 828.4h1.3v1.3h-1.3zM200.8 818.0h1.3v1.3h-1.3zM202.3 828.3h1.3v1.3h-1.3zM196.3 834.5h1.3v1.3h-1.3zM183.2 825.2h1.3v1.3h-1.3zM172.8 830.0h1.3v1.3h-1.3zM195.4 824.0h1.3v1.3h-1.3zM208.7 827.1h1.3v1.3h-1.3zM184.1 828.1h1.3v1.3h-1.3zM207.6 837.9h1.3v1.3h-1.3zM172.1 837.7h1.3v1.3h-1.3zM213.2 835.1h1.3v1.3h-1.3zM189.5 823.0h1.3v1.3h-1.3zM189.7 822.9h1.3v1.3h-1.3zM188.1 828.1h1.3v1.3h-1.3zM180.3 835.4h1.3v1.3h-1.3zM188.7 833.9h1.3v1.3h-1.3zM198.4 825.1h1.3v1.3h-1.3zM201.5 828.4h1.3v1.3h-1.3zM201.5 829.6h1.3v1.3h-1.3zM196.5 822.5h1.3v1.3h-1.3zM190.8 830.5h1.3v1.3h-1.3zM176.4 853.4h1.3v1.3h-1.3zM209.7 846.3h1.3v1.3h-1.3zM191.5 828.0h1.3v1.3h-1.3zM184.0 830.6h1.3v1.3h-1.3zM200.1 817.5h1.3v1.3h-1.3zM189.0 833.3h1.3v1.3h-1.3zM205.2 825.7h1.3v1.3h-1.3zM199.0 832.8h1.3v1.3h-1.3zM189.6 830.0h1.3v1.3h-1.3zM200.5 821.0h1.3v1.3h-1.3zM206.3 836.1h1.3v1.3h-1.3zM188.6 830.9h1.3v1.3h-1.3zM192.4 833.9h1.3v1.3h-1.3zM192.9 834.8h1.3v1.3h-1.3zM211.4 822.6h1.3v1.3h-1.3zM205.2 830.3h1.3v1.3h-1.3zM183.8 832.5h1.3v1.3h-1.3zM161.7 846.3h1.3v1.3h-1.3zM201.6 828.8h1.3v1.3h-1.3zM176.7 835.7h1.3v1.3h-1.3zM208.3 820.4h1.3v1.3h-1.3zM204.2 830.3h1.3v1.3h-1.3zM183.1 837.4h1.3v1.3h-1.3zM197.5 826.9h1.3v1.3h-1.3zM194.8 828.8h1.3v1.3h-1.3zM204.4 829.8h1.3v1.3h-1.3zM208.4 838.9h1.3v1.3h-1.3zM170.9 832.0h1.3v1.3h-1.3zM183.2 839.5h1.3v1.3h-1.3zM193.5 832.4h1.3v1.3h-1.3zM209.2 824.4h1.3v1.3h-1.3zM201.9 830.8h1.3v1.3h-1.3zM209.7 821.3h1.3v1.3h-1.3zM183.1 830.2h1.3v1.3h-1.3zM204.7 832.6h1.3v1.3h-1.3zM178.5 835.7h1.3v1.3h-1.3zM189.4 830.8h1.3v1.3h-1.3zM204.1 818.7h1.3v1.3h-1.3zM216.5 825.3h1.3v1.3h-1.3zM196.4 841.5h1.3v1.3h-1.3zM188.1 828.5h1.3v1.3h-1.3zM193.5 836.7h1.3v1.3h-1.3zM185.7 824.8h1.3v1.3h-1.3zM187.6 820.4h1.3v1.3h-1.3zM181.3 828.0h1.3v1.3h-1.3zM177.1 838.5h1.3v1.3h-1.3zM198.4 826.6h1.3v1.3h-1.3zM184.3 822.4h1.3v1.3h-1.3zM178.7 832.5h1.3v1.3h-1.3zM190.6 833.4h1.3v1.3h-1.3zM197.9 833.2h1.3v1.3h-1.3zM182.6 836.2h1.3v1.3h-1.3zM196.8 829.3h1.3v1.3h-1.3zM199.3 831.4h1.3v1.3h-1.3zM218.5 823.8h1.3v1.3h-1.3zM196.0 829.1h1.3v1.3h-1.3zM190.9 844.0h1.3v1.3h-1.3zM163.2 835.2h1.3v1.3h-1.3zM192.8 842.9h1.3v1.3h-1.3zM183.8 829.5h1.3v1.3h-1.3zM195.7 828.3h1.3v1.3h-1.3zM176.5 835.7h1.3v1.3h-1.3zM200.1 819.9h1.3v1.3h-1.3zM188.2 832.3h1.3v1.3h-1.3zM162.9 834.6h1.3v1.3h-1.3zM192.6 828.4h1.3v1.3h-1.3zM195.5 828.2h1.3v1.3h-1.3zM190.2 835.1h1.3v1.3h-1.3zM193.6 827.9h1.3v1.3h-1.3zM185.5 827.6h1.3v1.3h-1.3zM181.2 830.7h1.3v1.3h-1.3zM185.4 834.2h1.3v1.3h-1.3zM192.7 823.2h1.3v1.3h-1.3zM214.5 823.8h1.3v1.3h-1.3zM155.9 849.8h1.3v1.3h-1.3zM176.0 845.5h1.3v1.3h-1.3zM184.7 820.9h1.3v1.3h-1.3zM175.1 840.0h1.3v1.3h-1.3zM209.8 837.3h1.3v1.3h-1.3zM183.9 835.0h1.3v1.3h-1.3zM191.6 829.2h1.3v1.3h-1.3zM186.4 828.3h1.3v1.3h-1.3zM193.2 841.7h1.3v1.3h-1.3zM178.9 852.1h1.3v1.3h-1.3zM178.3 837.6h1.3v1.3h-1.3zM195.5 833.9h1.3v1.3h-1.3zM196.9 830.3h1.3v1.3h-1.3zM197.4 837.5h1.3v1.3h-1.3zM183.0 836.7h1.3v1.3h-1.3zM176.4 835.0h1.3v1.3h-1.3zM200.3 826.6h1.3v1.3h-1.3zM183.1 839.0h1.3v1.3h-1.3zM193.7 821.0h1.3v1.3h-1.3zM205.8 834.3h1.3v1.3h-1.3zM192.3 839.3h1.3v1.3h-1.3zM224.8 836.4h1.3v1.3h-1.3zM186.9 827.5h1.3v1.3h-1.3zM184.7 829.7h1.3v1.3h-1.3zM206.3 823.8h1.3v1.3h-1.3zM179.6 838.1h1.3v1.3h-1.3zM181.6 835.5h1.3v1.3h-1.3zM189.6 829.0h1.3v1.3h-1.3zM208.1 818.1h1.3v1.3h-1.3zM202.9 829.7h1.3v1.3h-1.3zM197.7 826.9h1.3v1.3h-1.3zM187.1 831.8h1.3v1.3h-1.3zM174.9 832.3h1.3v1.3h-1.3zM201.6 848.9h1.3v1.3h-1.3zM196.2 832.2h1.3v1.3h-1.3zM204.2 834.7h1.3v1.3h-1.3zM183.6 825.5h1.3v1.3h-1.3zM167.7 827.7h1.3v1.3h-1.3zM200.5 827.7h1.3v1.3h-1.3zM207.7 823.2h1.3v1.3h-1.3zM189.0 835.8h1.3v1.3h-1.3zM194.0 832.4h1.3v1.3h-1.3zM198.0 820.9h1.3v1.3h-1.3zM153.6 832.5h1.3v1.3h-1.3zM179.3 832.3h1.3v1.3h-1.3zM193.2 815.8h1.3v1.3h-1.3zM196.2 827.6h1.3v1.3h-1.3zM192.9 826.8h1.3v1.3h-1.3zM192.0 827.0h1.3v1.3h-1.3zM207.8 828.8h1.3v1.3h-1.3zM177.4 840.8h1.3v1.3h-1.3zM198.3 820.5h1.3v1.3h-1.3zM185.8 824.9h1.3v1.3h-1.3zM219.2 825.0h1.3v1.3h-1.3zM209.9 837.2h1.3v1.3h-1.3zM185.6 824.1h1.3v1.3h-1.3zM212.2 834.9h1.3v1.3h-1.3zM199.7 830.5h1.3v1.3h-1.3zM205.0 813.2h1.3v1.3h-1.3zM185.9 834.7h1.3v1.3h-1.3zM195.1 814.6h1.3v1.3h-1.3zM166.0 839.2h1.3v1.3h-1.3zM186.3 823.5h1.3v1.3h-1.3zM207.7 832.2h1.3v1.3h-1.3zM177.2 838.6h1.3v1.3h-1.3zM199.8 838.9h1.3v1.3h-1.3zM200.7 824.8h1.3v1.3h-1.3zM204.6 837.8h1.3v1.3h-1.3zM197.5 818.0h1.3v1.3h-1.3zM191.4 835.1h1.3v1.3h-1.3zM190.1 828.5h1.3v1.3h-1.3zM194.0 843.2h1.3v1.3h-1.3zM189.4 833.2h1.3v1.3h-1.3zM184.6 841.9h1.3v1.3h-1.3zM180.8 836.7h1.3v1.3h-1.3zM211.5 818.5h1.3v1.3h-1.3zM198.5 827.5h1.3v1.3h-1.3zM193.1 823.6h1.3v1.3h-1.3zM177.7 826.3h1.3v1.3h-1.3zM186.7 843.4h1.3v1.3h-1.3zM213.1 826.1h1.3v1.3h-1.3zM203.8 825.9h1.3v1.3h-1.3zM193.1 840.8h1.3v1.3h-1.3zM207.3 836.3h1.3v1.3h-1.3zM204.1 830.5h1.3v1.3h-1.3zM182.6 823.9h1.3v1.3h-1.3zM205.7 832.7h1.3v1.3h-1.3zM172.6 828.7h1.3v1.3h-1.3zM193.7 847.2h1.3v1.3h-1.3zM205.0 827.9h1.3v1.3h-1.3zM212.9 808.4h1.3v1.3h-1.3zM211.4 817.2h1.3v1.3h-1.3zM221.6 820.4h1.3v1.3h-1.3zM218.0 819.5h1.3v1.3h-1.3zM213.4 816.1h1.3v1.3h-1.3zM209.1 814.4h1.3v1.3h-1.3zM221.1 814.4h1.3v1.3h-1.3zM208.1 811.9h1.3v1.3h-1.3zM213.4 816.3h1.3v1.3h-1.3zM217.2 814.7h1.3v1.3h-1.3zM210.9 821.8h1.3v1.3h-1.3zM215.5 817.4h1.3v1.3h-1.3zM210.6 824.4h1.3v1.3h-1.3zM207.1 821.5h1.3v1.3h-1.3zM197.2 815.9h1.3v1.3h-1.3zM216.3 820.1h1.3v1.3h-1.3zM195.0 820.7h1.3v1.3h-1.3zM209.4 821.2h1.3v1.3h-1.3zM211.9 814.5h1.3v1.3h-1.3zM209.8 823.1h1.3v1.3h-1.3zM203.6 819.5h1.3v1.3h-1.3zM217.1 811.9h1.3v1.3h-1.3zM212.3 814.5h1.3v1.3h-1.3zM215.5 815.5h1.3v1.3h-1.3zM222.6 813.2h1.3v1.3h-1.3zM222.3 814.3h1.3v1.3h-1.3zM229.5 813.1h1.3v1.3h-1.3zM206.8 817.6h1.3v1.3h-1.3zM206.3 825.4h1.3v1.3h-1.3zM199.2 814.6h1.3v1.3h-1.3zM221.8 819.1h1.3v1.3h-1.3zM216.3 817.1h1.3v1.3h-1.3zM215.5 829.2h1.3v1.3h-1.3zM208.9 820.6h1.3v1.3h-1.3zM217.6 812.0h1.3v1.3h-1.3zM212.8 812.6h1.3v1.3h-1.3zM209.5 820.7h1.3v1.3h-1.3zM203.3 817.2h1.3v1.3h-1.3zM218.6 824.1h1.3v1.3h-1.3zM215.0 814.4h1.3v1.3h-1.3zM211.0 810.1h1.3v1.3h-1.3zM210.4 817.9h1.3v1.3h-1.3zM211.3 822.9h1.3v1.3h-1.3zM214.4 820.8h1.3v1.3h-1.3zM231.2 820.9h1.3v1.3h-1.3zM208.3 821.7h1.3v1.3h-1.3zM215.9 824.3h1.3v1.3h-1.3zM215.0 813.6h1.3v1.3h-1.3zM212.7 820.6h1.3v1.3h-1.3zM202.4 821.7h1.3v1.3h-1.3zM212.8 812.6h1.3v1.3h-1.3zM223.1 812.2h1.3v1.3h-1.3zM221.3 819.2h1.3v1.3h-1.3zM216.8 816.2h1.3v1.3h-1.3zM211.2 817.1h1.3v1.3h-1.3zM208.7 812.6h1.3v1.3h-1.3zM200.0 818.7h1.3v1.3h-1.3zM208.1 821.4h1.3v1.3h-1.3zM218.8 813.4h1.3v1.3h-1.3zM210.8 814.6h1.3v1.3h-1.3zM220.0 802.9h1.3v1.3h-1.3zM220.9 815.4h1.3v1.3h-1.3zM208.3 826.2h1.3v1.3h-1.3zM219.7 825.7h1.3v1.3h-1.3zM225.4 823.5h1.3v1.3h-1.3zM211.3 817.2h1.3v1.3h-1.3zM212.4 812.1h1.3v1.3h-1.3zM203.2 821.2h1.3v1.3h-1.3zM214.4 818.9h1.3v1.3h-1.3zM213.2 811.6h1.3v1.3h-1.3zM211.4 820.1h1.3v1.3h-1.3zM213.0 815.4h1.3v1.3h-1.3zM214.5 816.0h1.3v1.3h-1.3zM210.3 812.3h1.3v1.3h-1.3zM207.2 826.7h1.3v1.3h-1.3zM212.3 814.8h1.3v1.3h-1.3zM214.0 813.8h1.3v1.3h-1.3zM209.2 816.4h1.3v1.3h-1.3zM212.3 816.8h1.3v1.3h-1.3zM211.5 825.6h1.3v1.3h-1.3zM220.3 820.6h1.3v1.3h-1.3zM200.7 820.4h1.3v1.3h-1.3zM209.6 818.2h1.3v1.3h-1.3zM217.2 820.3h1.3v1.3h-1.3zM207.4 821.6h1.3v1.3h-1.3zM201.6 820.7h1.3v1.3h-1.3zM212.2 819.3h1.3v1.3h-1.3zM212.8 817.9h1.3v1.3h-1.3zM198.2 811.4h1.3v1.3h-1.3zM219.6 814.7h1.3v1.3h-1.3zM174.7 830.8h1.3v1.3h-1.3zM176.3 861.1h1.3v1.3h-1.3zM188.2 903.0h1.3v1.3h-1.3zM186.2 849.8h1.3v1.3h-1.3zM193.4 848.3h1.3v1.3h-1.3zM203.5 800.3h1.3v1.3h-1.3zM182.7 829.4h1.3v1.3h-1.3zM184.2 840.5h1.3v1.3h-1.3zM170.5 849.1h1.3v1.3h-1.3zM192.7 868.1h1.3v1.3h-1.3zM200.9 834.8h1.3v1.3h-1.3zM190.9 864.5h1.3v1.3h-1.3zM193.2 906.6h1.3v1.3h-1.3zM193.3 850.8h1.3v1.3h-1.3zM186.4 822.6h1.3v1.3h-1.3zM185.1 827.0h1.3v1.3h-1.3zM183.6 835.9h1.3v1.3h-1.3zM217.5 847.6h1.3v1.3h-1.3zM173.7 860.7h1.3v1.3h-1.3zM192.6 856.9h1.3v1.3h-1.3zM191.8 788.1h1.3v1.3h-1.3zM165.9 890.1h1.3v1.3h-1.3zM170.0 880.6h1.3v1.3h-1.3zM170.7 845.0h1.3v1.3h-1.3zM150.0 856.7h1.3v1.3h-1.3zM175.6 842.2h1.3v1.3h-1.3zM214.2 829.3h1.3v1.3h-1.3zM177.4 866.0h1.3v1.3h-1.3zM203.4 850.2h1.3v1.3h-1.3zM178.9 884.1h1.3v1.3h-1.3zM196.7 808.6h1.3v1.3h-1.3zM190.1 843.9h1.3v1.3h-1.3zM200.8 877.4h1.3v1.3h-1.3zM193.5 843.4h1.3v1.3h-1.3zM207.6 835.9h1.3v1.3h-1.3zM188.4 890.7h1.3v1.3h-1.3zM189.1 861.5h1.3v1.3h-1.3zM169.1 860.7h1.3v1.3h-1.3zM193.9 828.1h1.3v1.3h-1.3zM182.3 853.5h1.3v1.3h-1.3zM189.3 846.6h1.3v1.3h-1.3zM160.7 895.8h1.3v1.3h-1.3zM202.2 856.0h1.3v1.3h-1.3zM178.8 815.9h1.3v1.3h-1.3zM201.2 807.2h1.3v1.3h-1.3zM182.0 835.8h1.3v1.3h-1.3zM213.7 866.1h1.3v1.3h-1.3zM186.7 852.3h1.3v1.3h-1.3zM228.3 829.4h1.3v1.3h-1.3zM178.7 879.2h1.3v1.3h-1.3zM224.1 854.5h1.3v1.3h-1.3zM201.7 795.1h1.3v1.3h-1.3zM208.4 842.9h1.3v1.3h-1.3zM190.1 822.0h1.3v1.3h-1.3zM181.5 826.9h1.3v1.3h-1.3zM150.6 899.8h1.3v1.3h-1.3zM206.3 845.8h1.3v1.3h-1.3zM144.9 889.3h1.3v1.3h-1.3zM126.7 836.1h1.3v1.3h-1.3zM213.0 839.1h1.3v1.3h-1.3zM190.0 913.6h1.3v1.3h-1.3zM216.6 856.4h1.3v1.3h-1.3zM187.9 840.3h1.3v1.3h-1.3zM209.4 847.9h1.3v1.3h-1.3zM192.9 843.1h1.3v1.3h-1.3zM192.9 879.5h1.3v1.3h-1.3zM226.1 852.8h1.3v1.3h-1.3zM189.6 846.8h1.3v1.3h-1.3zM201.8 862.8h1.3v1.3h-1.3zM177.1 848.6h1.3v1.3h-1.3zM233.3 818.9h1.3v1.3h-1.3zM169.8 852.8h1.3v1.3h-1.3zM181.5 819.7h1.3v1.3h-1.3zM203.5 785.9h1.3v1.3h-1.3zM172.0 821.5h1.3v1.3h-1.3zM212.1 851.3h1.3v1.3h-1.3zM183.8 835.3h1.3v1.3h-1.3zM218.2 796.8h1.3v1.3h-1.3zM179.1 849.3h1.3v1.3h-1.3zM215.9 857.1h1.3v1.3h-1.3zM188.4 863.2h1.3v1.3h-1.3zM211.2 868.5h1.3v1.3h-1.3zM207.2 853.1h1.3v1.3h-1.3zM183.7 832.4h1.3v1.3h-1.3zM213.1 834.9h1.3v1.3h-1.3zM199.2 873.6h1.3v1.3h-1.3zM204.4 772.5h1.3v1.3h-1.3zM169.8 828.1h1.3v1.3h-1.3zM183.0 834.6h1.3v1.3h-1.3zM194.8 829.9h1.3v1.3h-1.3zM206.6 875.6h1.3v1.3h-1.3zM171.4 847.5h1.3v1.3h-1.3zM173.8 841.6h1.3v1.3h-1.3zM192.6 837.8h1.3v1.3h-1.3zM202.5 856.8h1.3v1.3h-1.3zM203.7 877.4h1.3v1.3h-1.3zM212.0 895.3h1.3v1.3h-1.3zM187.7 841.7h1.3v1.3h-1.3zM198.4 864.3h1.3v1.3h-1.3zM187.6 849.3h1.3v1.3h-1.3zM188.9 822.8h1.3v1.3h-1.3zM198.7 853.1h1.3v1.3h-1.3zM194.5 822.9h1.3v1.3h-1.3zM193.5 843.2h1.3v1.3h-1.3zM224.0 835.8h1.3v1.3h-1.3zM184.4 866.1h1.3v1.3h-1.3zM202.8 849.6h1.3v1.3h-1.3zM199.2 814.2h1.3v1.3h-1.3zM214.4 846.0h1.3v1.3h-1.3zM170.7 870.5h1.3v1.3h-1.3zM189.3 856.2h1.3v1.3h-1.3zM183.1 839.7h1.3v1.3h-1.3zM187.3 806.3h1.3v1.3h-1.3zM211.4 854.8h1.3v1.3h-1.3zM195.4 829.9h1.3v1.3h-1.3zM209.2 841.4h1.3v1.3h-1.3zM204.0 849.2h1.3v1.3h-1.3zM188.2 866.6h1.3v1.3h-1.3zM166.1 878.9h1.3v1.3h-1.3zM209.5 875.8h1.3v1.3h-1.3zM194.8 857.8h1.3v1.3h-1.3zM182.8 866.0h1.3v1.3h-1.3zM173.6 849.8h1.3v1.3h-1.3zM164.0 822.4h1.3v1.3h-1.3zM245.3 842.9h1.3v1.3h-1.3zM187.5 864.8h1.3v1.3h-1.3zM182.5 880.6h1.3v1.3h-1.3zM193.9 886.9h1.3v1.3h-1.3zM152.9 851.2h1.3v1.3h-1.3zM153.5 869.6h1.3v1.3h-1.3zM205.3 856.7h1.3v1.3h-1.3zM165.7 851.9h1.3v1.3h-1.3zM188.0 866.2h1.3v1.3h-1.3zM188.5 902.6h1.3v1.3h-1.3zM144.8 830.3h1.3v1.3h-1.3zM164.4 816.5h1.3v1.3h-1.3zM211.0 857.1h1.3v1.3h-1.3zM145.4 877.1h1.3v1.3h-1.3zM162.6 868.7h1.3v1.3h-1.3zM178.3 849.5h1.3v1.3h-1.3zM177.2 857.5h1.3v1.3h-1.3zM171.7 849.4h1.3v1.3h-1.3zM190.7 841.4h1.3v1.3h-1.3zM218.7 877.3h1.3v1.3h-1.3zM196.5 878.8h1.3v1.3h-1.3zM192.1 866.0h1.3v1.3h-1.3zM208.4 840.3h1.3v1.3h-1.3zM180.4 814.5h1.3v1.3h-1.3zM212.0 787.7h1.3v1.3h-1.3zM159.1 861.1h1.3v1.3h-1.3zM233.4 803.2h1.3v1.3h-1.3zM204.2 851.3h1.3v1.3h-1.3zM198.5 819.8h1.3v1.3h-1.3zM186.9 857.1h1.3v1.3h-1.3zM194.6 829.8h1.3v1.3h-1.3zM198.0 877.4h1.3v1.3h-1.3zM166.5 882.8h1.3v1.3h-1.3zM200.9 821.8h1.3v1.3h-1.3zM193.2 843.2h1.3v1.3h-1.3zM194.3 825.3h1.3v1.3h-1.3zM184.4 891.2h1.3v1.3h-1.3zM134.4 907.2h1.3v1.3h-1.3zM218.1 817.2h1.3v1.3h-1.3zM186.0 857.8h1.3v1.3h-1.3zM209.6 849.7h1.3v1.3h-1.3zM168.8 861.6h1.3v1.3h-1.3zM189.2 862.2h1.3v1.3h-1.3zM183.6 840.8h1.3v1.3h-1.3zM174.1 827.8h1.3v1.3h-1.3zM176.0 847.2h1.3v1.3h-1.3zM208.1 874.3h1.3v1.3h-1.3zM168.7 851.3h1.3v1.3h-1.3zM170.7 843.5h1.3v1.3h-1.3zM209.2 838.1h1.3v1.3h-1.3zM174.8 821.8h1.3v1.3h-1.3zM224.5 857.8h1.3v1.3h-1.3zM213.0 857.2h1.3v1.3h-1.3zM171.2 809.8h1.3v1.3h-1.3zM210.6 824.3h1.3v1.3h-1.3zM227.0 835.0h1.3v1.3h-1.3zM193.8 838.2h1.3v1.3h-1.3zM186.4 833.4h1.3v1.3h-1.3zM153.7 829.9h1.3v1.3h-1.3zM188.7 808.4h1.3v1.3h-1.3zM198.7 837.3h1.3v1.3h-1.3zM192.6 846.1h1.3v1.3h-1.3zM158.7 840.6h1.3v1.3h-1.3zM210.0 864.2h1.3v1.3h-1.3zM164.2 866.4h1.3v1.3h-1.3zM224.1 806.3h1.3v1.3h-1.3zM197.7 813.9h1.3v1.3h-1.3zM205.8 844.9h1.3v1.3h-1.3zM191.0 835.5h1.3v1.3h-1.3zM168.0 877.2h1.3v1.3h-1.3zM212.0 886.5h1.3v1.3h-1.3zM184.0 856.2h1.3v1.3h-1.3zM191.3 842.1h1.3v1.3h-1.3zM180.2 834.5h1.3v1.3h-1.3zM215.1 887.7h1.3v1.3h-1.3zM176.5 862.1h1.3v1.3h-1.3zM174.6 863.7h1.3v1.3h-1.3zM203.6 850.7h1.3v1.3h-1.3zM189.2 872.4h1.3v1.3h-1.3zM208.6 867.4h1.3v1.3h-1.3zM184.5 875.6h1.3v1.3h-1.3zM166.6 828.3h1.3v1.3h-1.3zM192.3 846.8h1.3v1.3h-1.3zM180.6 865.2h1.3v1.3h-1.3zM198.6 828.2h1.3v1.3h-1.3zM182.6 856.9h1.3v1.3h-1.3zM215.2 843.7h1.3v1.3h-1.3zM206.7 834.3h1.3v1.3h-1.3zM167.3 809.6h1.3v1.3h-1.3zM137.9 871.7h1.3v1.3h-1.3zM149.3 822.8h1.3v1.3h-1.3zM202.6 852.6h1.3v1.3h-1.3zM168.7 876.6h1.3v1.3h-1.3zM200.9 857.3h1.3v1.3h-1.3zM186.6 882.8h1.3v1.3h-1.3zM194.6 834.6h1.3v1.3h-1.3zM212.8 850.1h1.3v1.3h-1.3zM189.0 844.3h1.3v1.3h-1.3zM198.9 858.6h1.3v1.3h-1.3zM199.1 857.7h1.3v1.3h-1.3zM210.1 851.0h1.3v1.3h-1.3zM185.6 866.4h1.3v1.3h-1.3zM197.8 843.2h1.3v1.3h-1.3zM201.4 826.4h1.3v1.3h-1.3zM229.9 836.8h1.3v1.3h-1.3zM172.5 827.4h1.3v1.3h-1.3zM193.5 882.1h1.3v1.3h-1.3zM191.7 858.3h1.3v1.3h-1.3zM212.0 857.5h1.3v1.3h-1.3zM173.0 819.6h1.3v1.3h-1.3zM183.9 842.3h1.3v1.3h-1.3zM193.7 879.5h1.3v1.3h-1.3zM195.8 853.8h1.3v1.3h-1.3zM225.9 801.1h1.3v1.3h-1.3zM186.1 824.2h1.3v1.3h-1.3zM205.6 878.9h1.3v1.3h-1.3zM187.4 855.9h1.3v1.3h-1.3zM188.1 857.6h1.3v1.3h-1.3zM194.5 796.8h1.3v1.3h-1.3zM190.5 856.0h1.3v1.3h-1.3zM166.9 838.9h1.3v1.3h-1.3zM168.0 885.1h1.3v1.3h-1.3zM172.0 851.1h1.3v1.3h-1.3zM165.0 867.4h1.3v1.3h-1.3zM183.5 857.4h1.3v1.3h-1.3zM169.0 882.3h1.3v1.3h-1.3zM127.2 847.8h1.3v1.3h-1.3zM89.5 852.3h1.3v1.3h-1.3zM118.9 830.5h1.3v1.3h-1.3zM83.6 832.2h1.3v1.3h-1.3zM109.1 841.5h1.3v1.3h-1.3zM134.2 862.4h1.3v1.3h-1.3zM101.5 847.7h1.3v1.3h-1.3zM135.0 856.1h1.3v1.3h-1.3zM88.1 859.1h1.3v1.3h-1.3zM127.5 823.1h1.3v1.3h-1.3zM107.9 852.0h1.3v1.3h-1.3zM115.0 848.3h1.3v1.3h-1.3zM98.2 854.3h1.3v1.3h-1.3zM123.6 843.8h1.3v1.3h-1.3zM119.4 865.3h1.3v1.3h-1.3zM106.8 859.6h1.3v1.3h-1.3zM141.8 817.7h1.3v1.3h-1.3zM126.3 815.0h1.3v1.3h-1.3zM112.5 851.4h1.3v1.3h-1.3zM90.6 841.3h1.3v1.3h-1.3zM109.0 844.0h1.3v1.3h-1.3zM129.6 850.4h1.3v1.3h-1.3zM94.5 846.6h1.3v1.3h-1.3zM117.4 845.1h1.3v1.3h-1.3zM133.7 849.8h1.3v1.3h-1.3zM113.2 812.2h1.3v1.3h-1.3zM142.4 847.3h1.3v1.3h-1.3zM98.8 854.1h1.3v1.3h-1.3zM127.5 829.3h1.3v1.3h-1.3zM171.6 850.1h1.3v1.3h-1.3zM122.7 852.2h1.3v1.3h-1.3zM121.2 852.6h1.3v1.3h-1.3zM96.3 825.6h1.3v1.3h-1.3zM122.3 820.5h1.3v1.3h-1.3zM108.7 840.1h1.3v1.3h-1.3zM133.9 881.1h1.3v1.3h-1.3zM91.1 830.6h1.3v1.3h-1.3zM122.0 880.2h1.3v1.3h-1.3zM103.8 865.1h1.3v1.3h-1.3zM109.4 815.2h1.3v1.3h-1.3zM107.5 805.9h1.3v1.3h-1.3zM114.5 858.9h1.3v1.3h-1.3zM154.0 826.5h1.3v1.3h-1.3zM150.0 807.4h1.3v1.3h-1.3zM143.2 821.1h1.3v1.3h-1.3zM83.0 860.3h1.3v1.3h-1.3zM129.9 840.5h1.3v1.3h-1.3zM136.0 853.5h1.3v1.3h-1.3zM144.6 805.6h1.3v1.3h-1.3zM133.3 828.1h1.3v1.3h-1.3zM131.7 826.3h1.3v1.3h-1.3zM125.4 853.8h1.3v1.3h-1.3zM125.1 842.0h1.3v1.3h-1.3zM87.7 839.5h1.3v1.3h-1.3zM121.4 840.0h1.3v1.3h-1.3zM109.0 834.8h1.3v1.3h-1.3zM134.4 857.6h1.3v1.3h-1.3zM127.8 829.1h1.3v1.3h-1.3zM136.9 861.8h1.3v1.3h-1.3zM98.5 843.7h1.3v1.3h-1.3zM97.9 796.3h1.3v1.3h-1.3zM102.9 859.7h1.3v1.3h-1.3zM134.3 853.6h1.3v1.3h-1.3zM73.5 847.5h1.3v1.3h-1.3zM98.5 855.0h1.3v1.3h-1.3zM84.7 862.4h1.3v1.3h-1.3zM116.0 846.8h1.3v1.3h-1.3zM95.2 859.2h1.3v1.3h-1.3zM100.7 842.9h1.3v1.3h-1.3zM115.8 869.7h1.3v1.3h-1.3zM132.8 859.2h1.3v1.3h-1.3zM127.2 863.5h1.3v1.3h-1.3zM125.1 848.3h1.3v1.3h-1.3zM119.8 836.4h1.3v1.3h-1.3zM128.1 842.9h1.3v1.3h-1.3zM122.1 870.4h1.3v1.3h-1.3zM117.0 888.1h1.3v1.3h-1.3zM73.5 852.1h1.3v1.3h-1.3zM113.7 817.4h1.3v1.3h-1.3zM133.0 824.8h1.3v1.3h-1.3zM111.9 837.5h1.3v1.3h-1.3zM143.8 835.8h1.3v1.3h-1.3zM126.4 843.9h1.3v1.3h-1.3zM98.9 862.9h1.3v1.3h-1.3zM87.9 837.9h1.3v1.3h-1.3zM113.1 858.6h1.3v1.3h-1.3zM126.8 856.6h1.3v1.3h-1.3zM141.7 809.0h1.3v1.3h-1.3zM129.0 858.7h1.3v1.3h-1.3zM86.8 806.9h1.3v1.3h-1.3zM129.0 868.0h1.3v1.3h-1.3zM142.6 877.4h1.3v1.3h-1.3zM109.8 850.0h1.3v1.3h-1.3zM111.5 867.3h1.3v1.3h-1.3zM171.3 853.0h1.3v1.3h-1.3zM127.7 844.7h1.3v1.3h-1.3zM84.7 855.9h1.3v1.3h-1.3zM123.9 827.4h1.3v1.3h-1.3zM111.9 838.3h1.3v1.3h-1.3zM112.1 834.0h1.3v1.3h-1.3zM73.5 833.7h1.3v1.3h-1.3zM105.9 856.4h1.3v1.3h-1.3zM73.5 865.7h1.3v1.3h-1.3zM132.8 800.7h1.3v1.3h-1.3zM104.2 857.9h1.3v1.3h-1.3zM130.2 839.7h1.3v1.3h-1.3zM106.8 848.4h1.3v1.3h-1.3zM111.2 833.2h1.3v1.3h-1.3zM136.9 811.2h1.3v1.3h-1.3zM139.6 832.2h1.3v1.3h-1.3zM123.1 827.0h1.3v1.3h-1.3zM98.2 803.4h1.3v1.3h-1.3zM125.8 817.8h1.3v1.3h-1.3zM102.4 825.1h1.3v1.3h-1.3zM128.5 848.6h1.3v1.3h-1.3zM105.2 862.0h1.3v1.3h-1.3zM159.0 821.4h1.3v1.3h-1.3zM122.3 841.2h1.3v1.3h-1.3zM103.9 880.5h1.3v1.3h-1.3zM80.7 856.7h1.3v1.3h-1.3zM116.4 867.6h1.3v1.3h-1.3zM137.2 835.0h1.3v1.3h-1.3zM123.3 879.0h1.3v1.3h-1.3zM115.1 845.5h1.3v1.3h-1.3zM92.2 887.3h1.3v1.3h-1.3zM161.7 832.9h1.3v1.3h-1.3zM111.4 814.0h1.3v1.3h-1.3zM144.1 836.3h1.3v1.3h-1.3zM124.7 829.9h1.3v1.3h-1.3zM151.8 843.6h1.3v1.3h-1.3zM114.7 833.7h1.3v1.3h-1.3zM73.5 843.3h1.3v1.3h-1.3zM110.9 845.3h1.3v1.3h-1.3zM115.8 838.4h1.3v1.3h-1.3zM122.1 843.7h1.3v1.3h-1.3zM116.9 836.1h1.3v1.3h-1.3zM108.7 825.9h1.3v1.3h-1.3zM82.9 841.0h1.3v1.3h-1.3zM129.7 869.6h1.3v1.3h-1.3zM110.4 819.3h1.3v1.3h-1.3zM116.9 862.1h1.3v1.3h-1.3zM73.5 838.4h1.3v1.3h-1.3zM122.0 833.1h1.3v1.3h-1.3zM164.8 845.0h1.3v1.3h-1.3zM122.7 858.3h1.3v1.3h-1.3zM118.5 845.5h1.3v1.3h-1.3zM136.4 834.2h1.3v1.3h-1.3zM103.1 854.2h1.3v1.3h-1.3zM150.1 863.6h1.3v1.3h-1.3zM136.2 813.4h1.3v1.3h-1.3zM134.2 840.0h1.3v1.3h-1.3zM149.8 838.1h1.3v1.3h-1.3zM119.6 848.9h1.3v1.3h-1.3zM145.0 831.5h1.3v1.3h-1.3zM153.7 851.5h1.3v1.3h-1.3zM112.9 853.4h1.3v1.3h-1.3zM126.0 858.4h1.3v1.3h-1.3zM140.1 838.4h1.3v1.3h-1.3zM98.3 902.5h1.3v1.3h-1.3zM79.7 817.0h1.3v1.3h-1.3zM118.5 842.1h1.3v1.3h-1.3zM110.5 837.3h1.3v1.3h-1.3zM77.6 883.8h1.3v1.3h-1.3zM83.9 843.7h1.3v1.3h-1.3zM135.2 835.8h1.3v1.3h-1.3zM117.0 869.9h1.3v1.3h-1.3zM137.2 850.5h1.3v1.3h-1.3zM119.3 846.5h1.3v1.3h-1.3zM109.5 859.1h1.3v1.3h-1.3zM106.8 870.1h1.3v1.3h-1.3zM166.8 912.5h1.3v1.3h-1.3zM150.9 900.8h1.3v1.3h-1.3zM167.8 898.5h1.3v1.3h-1.3zM160.7 918.7h1.3v1.3h-1.3zM154.0 928.6h1.3v1.3h-1.3zM166.4 902.6h1.3v1.3h-1.3zM176.6 905.4h1.3v1.3h-1.3zM166.2 923.8h1.3v1.3h-1.3zM178.5 921.4h1.3v1.3h-1.3zM170.2 914.2h1.3v1.3h-1.3zM167.8 905.3h1.3v1.3h-1.3zM159.5 885.3h1.3v1.3h-1.3zM182.2 897.3h1.3v1.3h-1.3zM177.0 933.4h1.3v1.3h-1.3zM177.0 911.9h1.3v1.3h-1.3zM170.9 934.3h1.3v1.3h-1.3zM165.3 931.0h1.3v1.3h-1.3zM167.2 894.7h1.3v1.3h-1.3zM154.9 944.2h1.3v1.3h-1.3zM178.5 933.4h1.3v1.3h-1.3zM153.4 926.7h1.3v1.3h-1.3zM171.0 899.3h1.3v1.3h-1.3zM160.8 911.0h1.3v1.3h-1.3zM167.4 894.6h1.3v1.3h-1.3zM157.5 944.2h1.3v1.3h-1.3zM167.0 928.9h1.3v1.3h-1.3zM161.5 904.6h1.3v1.3h-1.3zM190.1 925.2h1.3v1.3h-1.3zM163.4 914.9h1.3v1.3h-1.3zM156.4 915.7h1.3v1.3h-1.3zM178.0 908.1h1.3v1.3h-1.3zM178.3 924.9h1.3v1.3h-1.3zM171.4 920.5h1.3v1.3h-1.3zM160.8 927.4h1.3v1.3h-1.3zM170.7 938.8h1.3v1.3h-1.3zM166.1 920.4h1.3v1.3h-1.3zM157.2 933.2h1.3v1.3h-1.3zM173.1 925.7h1.3v1.3h-1.3zM161.9 911.6h1.3v1.3h-1.3zM185.7 911.7h1.3v1.3h-1.3zM188.3 914.6h1.3v1.3h-1.3zM181.5 909.6h1.3v1.3h-1.3zM180.0 924.1h1.3v1.3h-1.3zM170.9 934.0h1.3v1.3h-1.3zM149.1 921.2h1.3v1.3h-1.3zM179.6 936.8h1.3v1.3h-1.3zM181.2 908.8h1.3v1.3h-1.3zM140.3 913.2h1.3v1.3h-1.3zM163.0 912.4h1.3v1.3h-1.3zM164.2 923.8h1.3v1.3h-1.3zM159.2 927.8h1.3v1.3h-1.3zM172.9 897.4h1.3v1.3h-1.3zM164.4 926.1h1.3v1.3h-1.3zM172.2 901.5h1.3v1.3h-1.3zM156.6 913.3h1.3v1.3h-1.3zM157.4 922.8h1.3v1.3h-1.3zM177.2 944.2h1.3v1.3h-1.3zM164.5 921.2h1.3v1.3h-1.3zM175.9 930.8h1.3v1.3h-1.3zM174.2 884.7h1.3v1.3h-1.3zM156.3 902.2h1.3v1.3h-1.3zM170.6 913.6h1.3v1.3h-1.3zM168.6 893.8h1.3v1.3h-1.3zM167.8 930.5h1.3v1.3h-1.3zM182.6 922.8h1.3v1.3h-1.3z" fill="#303030" fill-opacity="0.72"/>
<rect x="73.5" y="771.6" width="195.0" height="172.60000000000002" fill="none" stroke="#000" stroke-width="1.5"/>
<line x1="154.6" y1="771.6" x2="154.6" y2="944.2" stroke="#000" stroke-width="1.5"/>
<line x1="73.5" y1="884.3" x2="268.5" y2="884.3" stroke="#000" stroke-width="1.5"/>
<line x1="69.0" y1="944.20" x2="73.5" y2="944.20" stroke="#000" stroke-width="1"/>
<line x1="73.50" y1="944.2" x2="73.50" y2="948.7" stroke="#000" stroke-width="1"/>
<line x1="70.9" y1="931.21" x2="73.5" y2="931.21" stroke="#000" stroke-width="1"/>
<line x1="88.18" y1="944.2" x2="88.18" y2="946.8000000000001" stroke="#000" stroke-width="1"/>
<line x1="70.9" y1="923.61" x2="73.5" y2="923.61" stroke="#000" stroke-width="1"/>
<line x1="96.76" y1="944.2" x2="96.76" y2="946.8000000000001" stroke="#000" stroke-width="1"/>
<line x1="70.9" y1="918.22" x2="73.5" y2="918.22" stroke="#000" stroke-width="1"/>
<line x1="102.85" y1="944.2" x2="102.85" y2="946.8000000000001" stroke="#000" stroke-width="1"/>
<line x1="70.9" y1="914.04" x2="73.5" y2="914.04" stroke="#000" stroke-width="1"/>
<line x1="107.57" y1="944.2" x2="107.57" y2="946.8000000000001" stroke="#000" stroke-width="1"/>
<line x1="70.9" y1="910.62" x2="73.5" y2="910.62" stroke="#000" stroke-width="1"/>
<line x1="111.43" y1="944.2" x2="111.43" y2="946.8000000000001" stroke="#000" stroke-width="1"/>
<line x1="70.9" y1="907.73" x2="73.5" y2="907.73" stroke="#000" stroke-width="1"/>
<line x1="114.70" y1="944.2" x2="114.70" y2="946.8000000000001" stroke="#000" stroke-width="1"/>
<line x1="70.9" y1="905.23" x2="73.5" y2="905.23" stroke="#000" stroke-width="1"/>
<line x1="117.53" y1="944.2" x2="117.53" y2="946.8000000000001" stroke="#000" stroke-width="1"/>
<line x1="70.9" y1="903.02" x2="73.5" y2="903.02" stroke="#000" stroke-width="1"/>
<line x1="120.02" y1="944.2" x2="120.02" y2="946.8000000000001" stroke="#000" stroke-width="1"/>
<line x1="69.0" y1="901.05" x2="73.5" y2="901.05" stroke="#000" stroke-width="1"/>
<line x1="122.25" y1="944.2" x2="122.25" y2="948.7" stroke="#000" stroke-width="1"/>
<line x1="70.9" y1="888.06" x2="73.5" y2="888.06" stroke="#000" stroke-width="1"/>
<line x1="136.93" y1="944.2" x2="136.93" y2="946.8000000000001" stroke="#000" stroke-width="1"/>
<line x1="70.9" y1="880.46" x2="73.5" y2="880.46" stroke="#000" stroke-width="1"/>
<line x1="145.51" y1="944.2" x2="145.51" y2="946.8000000000001" stroke="#000" stroke-width="1"/>
<line x1="70.9" y1="875.07" x2="73.5" y2="875.07" stroke="#000" stroke-width="1"/>
<line x1="151.60" y1="944.2" x2="151.60" y2="946.8000000000001" stroke="#000" stroke-width="1"/>
<line x1="70.9" y1="870.89" x2="73.5" y2="870.89" stroke="#000" stroke-width="1"/>
<line x1="156.32" y1="944.2" x2="156.32" y2="946.8000000000001" stroke="#000" stroke-width="1"/>
<line x1="70.9" y1="867.47" x2="73.5" y2="867.47" stroke="#000" stroke-width="1"/>
<line x1="160.18" y1="944.2" x2="160.18" y2="946.8000000000001" stroke="#000" stroke-width="1"/>
<line x1="70.9" y1="864.58" x2="73.5" y2="864.58" stroke="#000" stroke-width="1"/>
<line x1="163.45" y1="944.2" x2="163.45" y2="946.8000000000001" stroke="#000" stroke-width="1"/>
<line x1="70.9" y1="862.08" x2="73.5" y2="862.08" stroke="#000" stroke-width="1"/>
<line x1="166.28" y1="944.2" x2="166.28" y2="946.8000000000001" stroke="#000" stroke-width="1"/>
<line x1="70.9" y1="859.87" x2="73.5" y2="859.87" stroke="#000" stroke-width="1"/>
<line x1="168.77" y1="944.2" x2="168.77" y2="946.8000000000001" stroke="#000" stroke-width="1"/>
<line x1="69.0" y1="857.90" x2="73.5" y2="857.90" stroke="#000" stroke-width="1"/>
<line x1="171.00" y1="944.2" x2="171.00" y2="948.7" stroke="#000" stroke-width="1"/>
<line x1="70.9" y1="844.91" x2="73.5" y2="844.91" stroke="#000" stroke-width="1"/>
<line x1="185.68" y1="944.2" x2="185.68" y2="946.8000000000001" stroke="#000" stroke-width="1"/>
<line x1="70.9" y1="837.31" x2="73.5" y2="837.31" stroke="#000" stroke-width="1"/>
<line x1="194.26" y1="944.2" x2="194.26" y2="946.8000000000001" stroke="#000" stroke-width="1"/>
<line x1="70.9" y1="831.92" x2="73.5" y2="831.92" stroke="#000" stroke-width="1"/>
<line x1="200.35" y1="944.2" x2="200.35" y2="946.8000000000001" stroke="#000" stroke-width="1"/>
<line x1="70.9" y1="827.74" x2="73.5" y2="827.74" stroke="#000" stroke-width="1"/>
<line x1="205.07" y1="944.2" x2="205.07" y2="946.8000000000001" stroke="#000" stroke-width="1"/>
<line x1="70.9" y1="824.32" x2="73.5" y2="824.32" stroke="#000" stroke-width="1"/>
<line x1="208.93" y1="944.2" x2="208.93" y2="946.8000000000001" stroke="#000" stroke-width="1"/>
<line x1="70.9" y1="821.43" x2="73.5" y2="821.43" stroke="#000" stroke-width="1"/>
<line x1="212.20" y1="944.2" x2="212.20" y2="946.8000000000001" stroke="#000" stroke-width="1"/>
<line x1="70.9" y1="818.93" x2="73.5" y2="818.93" stroke="#000" stroke-width="1"/>
<line x1="215.03" y1="944.2" x2="215.03" y2="946.8000000000001" stroke="#000" stroke-width="1"/>
<line x1="70.9" y1="816.72" x2="73.5" y2="816.72" stroke="#000" stroke-width="1"/>
<line x1="217.52" y1="944.2" x2="217.52" y2="946.8000000000001" stroke="#000" stroke-width="1"/>
<line x1="69.0" y1="814.75" x2="73.5" y2="814.75" stroke="#000" stroke-width="1"/>
<line x1="219.75" y1="944.2" x2="219.75" y2="948.7" stroke="#000" stroke-width="1"/>
<line x1="70.9" y1="801.76" x2="73.5" y2="801.76" stroke="#000" stroke-width="1"/>
<line x1="234.43" y1="944.2" x2="234.43" y2="946.8000000000001" stroke="#000" stroke-width="1"/>
<line x1="70.9" y1="794.16" x2="73.5" y2="794.16" stroke="#000" stroke-width="1"/>
<line x1="243.01" y1="944.2" x2="243.01" y2="946.8000000000001" stroke="#000" stroke-width="1"/>
<line x1="70.9" y1="788.77" x2="73.5" y2="788.77" stroke="#000" stroke-width="1"/>
<line x1="249.10" y1="944.2" x2="249.10" y2="946.8000000000001" stroke="#000" stroke-width="1"/>
<line x1="70.9" y1="784.59" x2="73.5" y2="784.59" stroke="#000" stroke-width="1"/>
<line x1="253.82" y1="944.2" x2="253.82" y2="946.8000000000001" stroke="#000" stroke-width="1"/>
<line x1="70.9" y1="781.17" x2="73.5" y2="781.17" stroke="#000" stroke-width="1"/>
<line x1="257.68" y1="944.2" x2="257.68" y2="946.8000000000001" stroke="#000" stroke-width="1"/>
<line x1="70.9" y1="778.28" x2="73.5" y2="778.28" stroke="#000" stroke-width="1"/>
<line x1="260.95" y1="944.2" x2="260.95" y2="946.8000000000001" stroke="#000" stroke-width="1"/>
<line x1="70.9" y1="775.78" x2="73.5" y2="775.78" stroke="#000" stroke-width="1"/>
<line x1="263.78" y1="944.2" x2="263.78" y2="946.8000000000001" stroke="#000" stroke-width="1"/>
<line x1="70.9" y1="773.57" x2="73.5" y2="773.57" stroke="#000" stroke-width="1"/>
<line x1="266.27" y1="944.2" x2="266.27" y2="946.8000000000001" stroke="#000" stroke-width="1"/>
<line x1="69.0" y1="771.6" x2="73.5" y2="771.6" stroke="#000" stroke-width="1"/>
<line x1="268.5" y1="944.2" x2="268.5" y2="948.7" stroke="#000" stroke-width="1"/>
<text transform="translate(65.46,961.50) scale(1.0187,1)" font-family="Liberation Sans" font-weight="normal" font-size="9.72" fill="#000" >10</text>
<text transform="translate(76.54,956.10) scale(1.1458,1)" font-family="Liberation Sans" font-weight="normal" font-size="10.00" fill="#000" >0</text>
<text transform="translate(114.21,961.50) scale(1.0187,1)" font-family="Liberation Sans" font-weight="normal" font-size="9.72" fill="#000" >10</text>
<text transform="translate(126.37,956.20) scale(0.6255,1)" font-family="Liberation Sans" font-weight="normal" font-size="10.29" fill="#000" >1</text>
<text transform="translate(162.96,961.50) scale(1.0187,1)" font-family="Liberation Sans" font-weight="normal" font-size="9.72" fill="#000" >10</text>
<text transform="translate(173.92,956.20) scale(1.1484,1)" font-family="Liberation Sans" font-weight="normal" font-size="10.14" fill="#000" >2</text>
<text transform="translate(211.71,961.50) scale(1.0187,1)" font-family="Liberation Sans" font-weight="normal" font-size="9.72" fill="#000" >10</text>
<text transform="translate(222.80,956.10) scale(1.1158,1)" font-family="Liberation Sans" font-weight="normal" font-size="10.00" fill="#000" >3</text>
<text transform="translate(260.46,961.50) scale(1.0187,1)" font-family="Liberation Sans" font-weight="normal" font-size="9.72" fill="#000" >10</text>
<text transform="translate(271.76,956.20) scale(1.1547,1)" font-family="Liberation Sans" font-weight="normal" font-size="10.29" fill="#000" >4</text>
<text transform="translate(64.80,950.46) rotate(-90) scale(0.8678,1)" font-family="Liberation Sans" font-weight="normal" font-size="10.14" fill="#000">10</text>
<text transform="translate(58.70,940.86) rotate(-90) scale(1.1790,1)" font-family="Liberation Sans" font-weight="normal" font-size="9.72" fill="#000">0</text>
<text transform="translate(64.80,907.31) rotate(-90) scale(0.8678,1)" font-family="Liberation Sans" font-weight="normal" font-size="10.14" fill="#000">10</text>
<text transform="translate(58.80,897.73) rotate(-90) scale(0.6437,1)" font-family="Liberation Sans" font-weight="normal" font-size="10.00" fill="#000">1</text>
<text transform="translate(64.80,864.16) rotate(-90) scale(0.8678,1)" font-family="Liberation Sans" font-weight="normal" font-size="10.14" fill="#000">10</text>
<text transform="translate(58.80,854.68) rotate(-90) scale(1.1817,1)" font-family="Liberation Sans" font-weight="normal" font-size="9.86" fill="#000">2</text>
<text transform="translate(64.80,821.01) rotate(-90) scale(0.8678,1)" font-family="Liberation Sans" font-weight="normal" font-size="10.14" fill="#000">10</text>
<text transform="translate(58.70,811.40) rotate(-90) scale(1.1481,1)" font-family="Liberation Sans" font-weight="normal" font-size="9.72" fill="#000">3</text>
<text transform="translate(64.80,777.86) rotate(-90) scale(0.8678,1)" font-family="Liberation Sans" font-weight="normal" font-size="10.14" fill="#000">10</text>
<text transform="translate(58.80,768.04) rotate(-90) scale(1.1881,1)" font-family="Liberation Sans" font-weight="normal" font-size="10.00" fill="#000">4</text>
<text transform="translate(50.30,880.84) rotate(-90) scale(1.0778,1)" font-family="Liberation Sans" font-weight="normal" font-size="9.72" fill="#000">FL4  APC</text>
<text transform="translate(150.24,971.50) scale(0.6759,1)" font-family="Liberation Sans" font-weight="normal" font-size="10.43" fill="#000" >FL2  PE</text>
<text transform="translate(71.90,798.02) scale(0.9902,1)" font-family="Liberation Serif" font-weight="normal" font-size="18.97" fill="#000" >10.1 ± 2.4</text>
<text transform="translate(185.41,800.13) scale(1.1070,1)" font-family="Liberation Serif" font-weight="normal" font-size="17.79" fill="#000" >33.1 ± 3.0</text>
<text transform="translate(69.83,942.72) scale(1.0486,1)" font-family="Liberation Serif" font-weight="normal" font-size="18.52" fill="#000" >52.3 ± 3.5</text>
<text transform="translate(195.41,942.74) scale(1.1138,1)" font-family="Liberation Serif" font-weight="normal" font-size="17.65" fill="#000" >4.5 ± 0.3</text>
<path d="M363.8 905.1h1.3v1.3h-1.3zM380.4 909.9h1.3v1.3h-1.3zM399.7 938.9h1.3v1.3h-1.3zM350.2 940.6h1.3v1.3h-1.3zM361.6 905.8h1.3v1.3h-1.3zM363.5 913.4h1.3v1.3h-1.3zM321.9 918.6h1.3v1.3h-1.3zM344.0 894.1h1.3v1.3h-1.3zM383.6 906.6h1.3v1.3h-1.3zM362.7 911.6h1.3v1.3h-1.3zM378.5 926.0h1.3v1.3h-1.3zM353.0 922.5h1.3v1.3h-1.3zM350.6 929.7h1.3v1.3h-1.3zM357.8 931.7h1.3v1.3h-1.3zM380.9 944.4h1.3v1.3h-1.3zM382.2 930.2h1.3v1.3h-1.3zM352.0 941.1h1.3v1.3h-1.3zM360.8 924.5h1.3v1.3h-1.3zM368.2 928.8h1.3v1.3h-1.3zM366.1 893.5h1.3v1.3h-1.3zM373.0 929.4h1.3v1.3h-1.3zM385.0 922.7h1.3v1.3h-1.3zM377.1 911.6h1.3v1.3h-1.3zM355.4 944.4h1.3v1.3h-1.3zM356.3 912.5h1.3v1.3h-1.3zM355.6 914.2h1.3v1.3h-1.3zM385.6 929.0h1.3v1.3h-1.3zM391.2 896.5h1.3v1.3h-1.3zM387.8 903.3h1.3v1.3h-1.3zM388.2 887.0h1.3v1.3h-1.3zM368.1 920.8h1.3v1.3h-1.3zM377.3 934.4h1.3v1.3h-1.3zM329.8 934.0h1.3v1.3h-1.3zM372.2 913.7h1.3v1.3h-1.3zM330.1 944.4h1.3v1.3h-1.3zM357.0 923.6h1.3v1.3h-1.3zM362.9 910.7h1.3v1.3h-1.3zM391.1 917.3h1.3v1.3h-1.3zM377.5 937.2h1.3v1.3h-1.3zM338.1 917.3h1.3v1.3h-1.3zM378.7 909.9h1.3v1.3h-1.3zM377.1 909.0h1.3v1.3h-1.3zM381.9 944.4h1.3v1.3h-1.3zM347.8 914.0h1.3v1.3h-1.3zM377.2 943.5h1.3v1.3h-1.3zM389.9 927.4h1.3v1.3h-1.3zM358.9 916.7h1.3v1.3h-1.3zM380.5 942.3h1.3v1.3h-1.3zM385.8 919.6h1.3v1.3h-1.3zM347.0 924.9h1.3v1.3h-1.3zM315.8 930.5h1.3v1.3h-1.3zM368.0 931.5h1.3v1.3h-1.3zM356.8 923.0h1.3v1.3h-1.3zM365.1 905.5h1.3v1.3h-1.3zM363.5 924.7h1.3v1.3h-1.3zM375.9 889.6h1.3v1.3h-1.3zM356.4 913.1h1.3v1.3h-1.3zM329.2 900.6h1.3v1.3h-1.3zM378.5 900.8h1.3v1.3h-1.3zM362.7 936.5h1.3v1.3h-1.3zM383.5 909.5h1.3v1.3h-1.3zM344.9 942.9h1.3v1.3h-1.3zM373.9 923.4h1.3v1.3h-1.3zM421.6 930.0h1.3v1.3h-1.3zM352.3 922.5h1.3v1.3h-1.3zM327.3 934.2h1.3v1.3h-1.3zM400.3 922.8h1.3v1.3h-1.3zM350.6 939.9h1.3v1.3h-1.3zM376.8 910.9h1.3v1.3h-1.3zM369.7 926.6h1.3v1.3h-1.3zM370.7 915.1h1.3v1.3h-1.3zM349.0 911.5h1.3v1.3h-1.3zM317.4 940.2h1.3v1.3h-1.3zM357.3 922.4h1.3v1.3h-1.3zM338.3 915.9h1.3v1.3h-1.3zM387.3 914.0h1.3v1.3h-1.3zM369.0 908.4h1.3v1.3h-1.3zM372.9 938.0h1.3v1.3h-1.3zM359.5 901.4h1.3v1.3h-1.3zM338.9 919.9h1.3v1.3h-1.3zM355.4 934.3h1.3v1.3h-1.3zM341.7 919.3h1.3v1.3h-1.3zM371.0 916.2h1.3v1.3h-1.3zM332.1 925.1h1.3v1.3h-1.3zM371.6 906.6h1.3v1.3h-1.3zM378.8 908.3h1.3v1.3h-1.3zM388.2 908.4h1.3v1.3h-1.3zM346.0 919.9h1.3v1.3h-1.3zM348.3 944.4h1.3v1.3h-1.3zM326.9 889.4h1.3v1.3h-1.3zM339.4 944.4h1.3v1.3h-1.3zM351.1 898.0h1.3v1.3h-1.3zM363.0 914.7h1.3v1.3h-1.3zM358.0 922.1h1.3v1.3h-1.3zM391.9 908.9h1.3v1.3h-1.3zM362.1 907.4h1.3v1.3h-1.3zM387.7 924.1h1.3v1.3h-1.3zM370.0 917.0h1.3v1.3h-1.3zM349.3 903.5h1.3v1.3h-1.3zM360.3 930.1h1.3v1.3h-1.3zM327.0 939.8h1.3v1.3h-1.3zM397.6 937.9h1.3v1.3h-1.3zM373.5 926.3h1.3v1.3h-1.3zM375.3 911.8h1.3v1.3h-1.3zM346.9 925.2h1.3v1.3h-1.3zM366.2 919.1h1.3v1.3h-1.3zM363.4 925.5h1.3v1.3h-1.3zM377.9 901.0h1.3v1.3h-1.3zM375.9 931.9h1.3v1.3h-1.3zM372.7 919.9h1.3v1.3h-1.3zM374.2 893.1h1.3v1.3h-1.3zM359.3 921.0h1.3v1.3h-1.3zM344.4 925.1h1.3v1.3h-1.3zM351.5 896.8h1.3v1.3h-1.3zM370.7 929.4h1.3v1.3h-1.3zM406.5 940.7h1.3v1.3h-1.3zM383.0 905.5h1.3v1.3h-1.3zM376.7 924.7h1.3v1.3h-1.3zM361.1 926.0h1.3v1.3h-1.3zM381.3 944.4h1.3v1.3h-1.3zM352.7 918.5h1.3v1.3h-1.3zM351.2 944.4h1.3v1.3h-1.3zM358.6 932.1h1.3v1.3h-1.3zM381.6 899.8h1.3v1.3h-1.3zM365.5 944.4h1.3v1.3h-1.3zM359.7 934.7h1.3v1.3h-1.3zM379.0 895.4h1.3v1.3h-1.3zM371.0 890.2h1.3v1.3h-1.3zM397.4 910.3h1.3v1.3h-1.3zM345.0 917.7h1.3v1.3h-1.3zM334.5 903.5h1.3v1.3h-1.3zM369.3 898.3h1.3v1.3h-1.3zM373.3 944.4h1.3v1.3h-1.3zM381.4 904.7h1.3v1.3h-1.3zM403.9 933.2h1.3v1.3h-1.3zM346.9 917.6h1.3v1.3h-1.3zM344.0 939.3h1.3v1.3h-1.3zM343.0 879.8h1.3v1.3h-1.3zM353.0 934.2h1.3v1.3h-1.3zM356.7 919.1h1.3v1.3h-1.3zM394.8 905.0h1.3v1.3h-1.3zM383.7 918.6h1.3v1.3h-1.3zM369.7 928.9h1.3v1.3h-1.3zM333.0 888.7h1.3v1.3h-1.3zM356.1 904.1h1.3v1.3h-1.3zM359.2 920.7h1.3v1.3h-1.3zM362.7 940.0h1.3v1.3h-1.3zM364.4 913.7h1.3v1.3h-1.3zM384.3 912.0h1.3v1.3h-1.3zM388.5 915.0h1.3v1.3h-1.3zM365.9 944.4h1.3v1.3h-1.3zM354.1 896.2h1.3v1.3h-1.3zM368.6 907.6h1.3v1.3h-1.3zM361.2 929.6h1.3v1.3h-1.3zM411.0 914.2h1.3v1.3h-1.3zM398.8 911.6h1.3v1.3h-1.3zM359.3 944.4h1.3v1.3h-1.3zM367.8 943.1h1.3v1.3h-1.3zM316.8 900.9h1.3v1.3h-1.3zM381.7 909.9h1.3v1.3h-1.3zM366.9 920.1h1.3v1.3h-1.3zM375.1 917.3h1.3v1.3h-1.3zM367.3 908.5h1.3v1.3h-1.3zM315.0 906.2h1.3v1.3h-1.3zM351.7 906.8h1.3v1.3h-1.3zM391.5 932.4h1.3v1.3h-1.3zM383.0 908.1h1.3v1.3h-1.3zM349.5 928.2h1.3v1.3h-1.3zM367.2 944.4h1.3v1.3h-1.3zM354.6 917.7h1.3v1.3h-1.3zM354.5 944.4h1.3v1.3h-1.3zM355.6 897.9h1.3v1.3h-1.3zM393.5 922.5h1.3v1.3h-1.3zM346.4 920.9h1.3v1.3h-1.3zM364.5 930.9h1.3v1.3h-1.3zM356.7 911.4h1.3v1.3h-1.3zM384.7 944.4h1.3v1.3h-1.3zM385.7 918.7h1.3v1.3h-1.3zM389.5 921.0h1.3v1.3h-1.3zM373.8 896.1h1.3v1.3h-1.3zM315.0 896.8h1.3v1.3h-1.3zM368.3 944.4h1.3v1.3h-1.3zM315.0 916.1h1.3v1.3h-1.3zM341.4 905.7h1.3v1.3h-1.3zM368.8 922.8h1.3v1.3h-1.3zM386.0 917.9h1.3v1.3h-1.3zM380.4 908.3h1.3v1.3h-1.3zM371.1 908.9h1.3v1.3h-1.3zM381.4 941.3h1.3v1.3h-1.3zM358.0 922.6h1.3v1.3h-1.3zM355.7 944.4h1.3v1.3h-1.3zM351.5 915.7h1.3v1.3h-1.3zM368.3 897.9h1.3v1.3h-1.3zM350.6 927.3h1.3v1.3h-1.3zM351.4 925.5h1.3v1.3h-1.3zM350.7 944.4h1.3v1.3h-1.3zM371.6 905.9h1.3v1.3h-1.3zM388.7 937.1h1.3v1.3h-1.3zM359.8 893.0h1.3v1.3h-1.3zM361.6 915.6h1.3v1.3h-1.3zM360.7 905.7h1.3v1.3h-1.3zM385.4 885.8h1.3v1.3h-1.3zM375.0 914.1h1.3v1.3h-1.3zM337.3 927.0h1.3v1.3h-1.3zM348.5 925.7h1.3v1.3h-1.3zM335.1 902.5h1.3v1.3h-1.3zM340.8 916.7h1.3v1.3h-1.3zM336.2 915.6h1.3v1.3h-1.3zM400.6 933.1h1.3v1.3h-1.3zM372.1 921.8h1.3v1.3h-1.3zM370.3 914.5h1.3v1.3h-1.3zM350.0 923.5h1.3v1.3h-1.3zM351.0 933.2h1.3v1.3h-1.3zM336.9 906.3h1.3v1.3h-1.3zM347.7 910.8h1.3v1.3h-1.3zM376.2 935.8h1.3v1.3h-1.3zM387.1 933.7h1.3v1.3h-1.3zM377.9 898.9h1.3v1.3h-1.3zM348.2 934.8h1.3v1.3h-1.3zM343.2 886.3h1.3v1.3h-1.3zM355.7 939.8h1.3v1.3h-1.3zM382.0 923.5h1.3v1.3h-1.3zM363.2 935.8h1.3v1.3h-1.3zM315.0 931.9h1.3v1.3h-1.3zM340.8 944.4h1.3v1.3h-1.3zM339.8 935.2h1.3v1.3h-1.3zM381.5 910.4h1.3v1.3h-1.3zM375.1 929.0h1.3v1.3h-1.3zM336.0 916.5h1.3v1.3h-1.3zM373.9 905.9h1.3v1.3h-1.3zM363.2 922.9h1.3v1.3h-1.3zM370.6 934.9h1.3v1.3h-1.3zM346.0 911.3h1.3v1.3h-1.3zM336.0 922.2h1.3v1.3h-1.3zM381.0 917.4h1.3v1.3h-1.3zM373.3 937.6h1.3v1.3h-1.3zM361.1 924.9h1.3v1.3h-1.3zM377.2 914.5h1.3v1.3h-1.3zM364.7 892.2h1.3v1.3h-1.3zM376.1 925.0h1.3v1.3h-1.3zM350.7 921.2h1.3v1.3h-1.3zM351.7 896.0h1.3v1.3h-1.3zM376.9 925.2h1.3v1.3h-1.3zM350.0 936.6h1.3v1.3h-1.3zM358.4 900.8h1.3v1.3h-1.3zM383.0 921.3h1.3v1.3h-1.3zM367.6 944.4h1.3v1.3h-1.3zM381.4 923.7h1.3v1.3h-1.3zM395.0 923.0h1.3v1.3h-1.3zM354.0 917.1h1.3v1.3h-1.3zM350.7 900.1h1.3v1.3h-1.3zM371.1 914.7h1.3v1.3h-1.3zM372.2 925.5h1.3v1.3h-1.3zM375.5 917.5h1.3v1.3h-1.3zM403.7 919.2h1.3v1.3h-1.3zM373.3 926.9h1.3v1.3h-1.3zM357.0 924.5h1.3v1.3h-1.3zM394.0 918.5h1.3v1.3h-1.3zM387.1 923.5h1.3v1.3h-1.3zM357.8 944.4h1.3v1.3h-1.3zM384.2 888.5h1.3v1.3h-1.3zM361.0 897.9h1.3v1.3h-1.3zM384.8 929.7h1.3v1.3h-1.3zM383.0 932.8h1.3v1.3h-1.3zM359.5 901.0h1.3v1.3h-1.3zM369.7 936.9h1.3v1.3h-1.3zM397.4 935.8h1.3v1.3h-1.3zM362.6 924.5h1.3v1.3h-1.3zM362.6 932.1h1.3v1.3h-1.3zM330.2 891.5h1.3v1.3h-1.3zM345.3 932.6h1.3v1.3h-1.3zM315.0 918.0h1.3v1.3h-1.3zM394.6 898.3h1.3v1.3h-1.3zM427.1 896.8h1.3v1.3h-1.3zM375.2 918.9h1.3v1.3h-1.3zM397.9 919.8h1.3v1.3h-1.3zM370.7 933.6h1.3v1.3h-1.3zM368.5 889.6h1.3v1.3h-1.3zM364.8 913.2h1.3v1.3h-1.3zM315.0 899.0h1.3v1.3h-1.3zM374.5 898.1h1.3v1.3h-1.3zM371.5 932.2h1.3v1.3h-1.3zM336.0 912.0h1.3v1.3h-1.3zM365.2 934.3h1.3v1.3h-1.3zM364.1 929.4h1.3v1.3h-1.3zM381.1 926.2h1.3v1.3h-1.3zM338.0 921.6h1.3v1.3h-1.3zM352.3 898.3h1.3v1.3h-1.3zM354.1 940.4h1.3v1.3h-1.3zM362.8 924.7h1.3v1.3h-1.3zM369.7 917.8h1.3v1.3h-1.3zM340.8 922.0h1.3v1.3h-1.3zM361.0 939.3h1.3v1.3h-1.3zM350.6 918.4h1.3v1.3h-1.3zM327.9 937.8h1.3v1.3h-1.3zM352.5 923.1h1.3v1.3h-1.3zM373.8 942.2h1.3v1.3h-1.3zM368.9 912.6h1.3v1.3h-1.3zM396.3 928.3h1.3v1.3h-1.3zM342.0 944.4h1.3v1.3h-1.3zM374.3 902.7h1.3v1.3h-1.3zM347.0 915.3h1.3v1.3h-1.3zM381.3 907.5h1.3v1.3h-1.3zM353.9 911.9h1.3v1.3h-1.3zM362.1 935.4h1.3v1.3h-1.3zM369.4 915.5h1.3v1.3h-1.3zM342.7 914.1h1.3v1.3h-1.3zM408.1 943.1h1.3v1.3h-1.3zM379.8 906.8h1.3v1.3h-1.3zM365.5 915.6h1.3v1.3h-1.3zM358.6 900.2h1.3v1.3h-1.3zM343.6 922.7h1.3v1.3h-1.3zM321.3 916.0h1.3v1.3h-1.3zM372.1 944.4h1.3v1.3h-1.3zM344.5 913.9h1.3v1.3h-1.3zM352.7 939.4h1.3v1.3h-1.3zM315.0 916.2h1.3v1.3h-1.3zM405.8 928.4h1.3v1.3h-1.3zM372.5 915.3h1.3v1.3h-1.3zM361.0 920.1h1.3v1.3h-1.3zM365.4 934.7h1.3v1.3h-1.3zM417.9 880.8h1.3v1.3h-1.3zM369.7 894.8h1.3v1.3h-1.3zM344.8 925.0h1.3v1.3h-1.3zM387.8 938.9h1.3v1.3h-1.3zM334.2 916.4h1.3v1.3h-1.3zM319.3 895.6h1.3v1.3h-1.3zM379.6 917.7h1.3v1.3h-1.3zM378.1 934.8h1.3v1.3h-1.3zM342.7 908.6h1.3v1.3h-1.3zM384.4 918.9h1.3v1.3h-1.3zM362.7 929.0h1.3v1.3h-1.3zM394.6 943.2h1.3v1.3h-1.3zM345.0 929.0h1.3v1.3h-1.3zM330.2 940.8h1.3v1.3h-1.3zM341.2 905.6h1.3v1.3h-1.3zM403.8 915.6h1.3v1.3h-1.3zM328.3 929.9h1.3v1.3h-1.3zM361.0 924.8h1.3v1.3h-1.3zM355.8 913.0h1.3v1.3h-1.3zM321.1 929.4h1.3v1.3h-1.3zM368.8 910.0h1.3v1.3h-1.3zM370.4 920.4h1.3v1.3h-1.3zM361.2 930.6h1.3v1.3h-1.3zM366.3 923.6h1.3v1.3h-1.3zM348.9 902.4h1.3v1.3h-1.3zM390.8 926.0h1.3v1.3h-1.3zM378.3 902.3h1.3v1.3h-1.3zM370.6 918.4h1.3v1.3h-1.3zM375.8 944.4h1.3v1.3h-1.3zM333.4 912.3h1.3v1.3h-1.3zM371.0 899.6h1.3v1.3h-1.3zM354.0 903.6h1.3v1.3h-1.3zM388.4 890.5h1.3v1.3h-1.3zM347.4 925.4h1.3v1.3h-1.3zM371.2 916.1h1.3v1.3h-1.3zM343.1 928.6h1.3v1.3h-1.3zM336.4 885.4h1.3v1.3h-1.3zM363.7 920.2h1.3v1.3h-1.3zM351.6 919.6h1.3v1.3h-1.3zM382.5 925.0h1.3v1.3h-1.3zM364.5 887.4h1.3v1.3h-1.3zM385.5 916.5h1.3v1.3h-1.3zM355.9 920.4h1.3v1.3h-1.3zM348.8 916.0h1.3v1.3h-1.3zM350.3 931.0h1.3v1.3h-1.3zM355.9 936.3h1.3v1.3h-1.3zM369.0 882.6h1.3v1.3h-1.3zM350.8 944.4h1.3v1.3h-1.3zM385.5 922.2h1.3v1.3h-1.3zM407.7 915.1h1.3v1.3h-1.3zM384.4 932.5h1.3v1.3h-1.3zM328.7 923.8h1.3v1.3h-1.3zM378.3 934.1h1.3v1.3h-1.3zM328.4 930.2h1.3v1.3h-1.3zM353.4 926.3h1.3v1.3h-1.3zM362.3 885.7h1.3v1.3h-1.3zM363.5 929.0h1.3v1.3h-1.3zM338.9 909.7h1.3v1.3h-1.3zM327.9 900.0h1.3v1.3h-1.3zM362.5 944.3h1.3v1.3h-1.3zM366.6 923.5h1.3v1.3h-1.3zM389.5 944.3h1.3v1.3h-1.3zM366.9 922.1h1.3v1.3h-1.3zM382.6 938.9h1.3v1.3h-1.3zM345.3 892.4h1.3v1.3h-1.3zM374.6 944.0h1.3v1.3h-1.3zM369.5 933.7h1.3v1.3h-1.3zM347.2 940.2h1.3v1.3h-1.3zM383.9 930.0h1.3v1.3h-1.3zM366.7 920.8h1.3v1.3h-1.3zM328.9 933.1h1.3v1.3h-1.3zM379.1 944.4h1.3v1.3h-1.3zM367.7 923.5h1.3v1.3h-1.3zM376.5 911.7h1.3v1.3h-1.3zM380.5 921.0h1.3v1.3h-1.3zM368.0 932.4h1.3v1.3h-1.3zM350.5 908.4h1.3v1.3h-1.3zM349.3 906.5h1.3v1.3h-1.3zM384.5 933.8h1.3v1.3h-1.3zM374.9 934.0h1.3v1.3h-1.3zM370.1 933.4h1.3v1.3h-1.3zM370.0 919.2h1.3v1.3h-1.3zM339.8 891.0h1.3v1.3h-1.3zM383.9 944.4h1.3v1.3h-1.3zM370.4 928.0h1.3v1.3h-1.3zM407.9 922.4h1.3v1.3h-1.3zM371.6 924.2h1.3v1.3h-1.3zM376.9 929.5h1.3v1.3h-1.3zM343.2 928.9h1.3v1.3h-1.3zM353.7 912.1h1.3v1.3h-1.3zM365.0 928.1h1.3v1.3h-1.3zM354.1 935.1h1.3v1.3h-1.3zM365.9 944.4h1.3v1.3h-1.3zM358.3 903.6h1.3v1.3h-1.3zM355.2 931.2h1.3v1.3h-1.3zM364.2 935.3h1.3v1.3h-1.3zM346.5 911.1h1.3v1.3h-1.3zM349.3 892.0h1.3v1.3h-1.3zM375.1 922.9h1.3v1.3h-1.3zM349.6 925.2h1.3v1.3h-1.3zM315.0 917.7h1.3v1.3h-1.3zM382.8 912.7h1.3v1.3h-1.3zM353.8 912.1h1.3v1.3h-1.3zM377.3 923.3h1.3v1.3h-1.3zM371.0 905.7h1.3v1.3h-1.3zM373.4 927.0h1.3v1.3h-1.3zM363.6 919.0h1.3v1.3h-1.3zM328.0 919.3h1.3v1.3h-1.3zM360.5 944.4h1.3v1.3h-1.3zM325.7 894.3h1.3v1.3h-1.3zM365.6 901.1h1.3v1.3h-1.3zM355.1 898.2h1.3v1.3h-1.3zM375.9 931.5h1.3v1.3h-1.3zM369.6 897.7h1.3v1.3h-1.3zM416.1 913.4h1.3v1.3h-1.3zM353.7 934.0h1.3v1.3h-1.3zM378.7 904.6h1.3v1.3h-1.3zM366.8 922.6h1.3v1.3h-1.3zM381.8 913.6h1.3v1.3h-1.3zM372.6 943.8h1.3v1.3h-1.3zM356.7 892.5h1.3v1.3h-1.3zM363.6 884.4h1.3v1.3h-1.3zM372.5 925.1h1.3v1.3h-1.3zM370.2 911.7h1.3v1.3h-1.3zM348.2 917.1h1.3v1.3h-1.3zM354.9 898.9h1.3v1.3h-1.3zM354.0 919.0h1.3v1.3h-1.3zM330.9 941.3h1.3v1.3h-1.3zM362.0 934.5h1.3v1.3h-1.3zM357.5 917.3h1.3v1.3h-1.3zM376.4 941.9h1.3v1.3h-1.3zM359.9 910.9h1.3v1.3h-1.3zM349.1 940.4h1.3v1.3h-1.3zM348.8 896.4h1.3v1.3h-1.3zM364.4 897.4h1.3v1.3h-1.3zM357.3 902.9h1.3v1.3h-1.3zM332.2 924.6h1.3v1.3h-1.3zM366.0 894.4h1.3v1.3h-1.3zM374.4 904.0h1.3v1.3h-1.3zM354.8 927.0h1.3v1.3h-1.3zM392.1 899.3h1.3v1.3h-1.3zM391.2 902.7h1.3v1.3h-1.3zM352.6 888.3h1.3v1.3h-1.3zM367.9 901.6h1.3v1.3h-1.3zM380.7 944.4h1.3v1.3h-1.3zM321.3 944.4h1.3v1.3h-1.3zM363.1 903.9h1.3v1.3h-1.3zM358.7 908.0h1.3v1.3h-1.3zM336.9 930.1h1.3v1.3h-1.3zM344.3 920.2h1.3v1.3h-1.3zM338.7 922.3h1.3v1.3h-1.3zM377.2 927.7h1.3v1.3h-1.3zM344.4 927.5h1.3v1.3h-1.3zM337.2 936.3h1.3v1.3h-1.3zM381.8 915.6h1.3v1.3h-1.3zM332.3 925.0h1.3v1.3h-1.3zM374.1 908.7h1.3v1.3h-1.3zM378.2 906.0h1.3v1.3h-1.3zM363.3 921.0h1.3v1.3h-1.3zM358.7 904.2h1.3v1.3h-1.3zM383.1 893.9h1.3v1.3h-1.3zM388.9 932.9h1.3v1.3h-1.3zM331.6 941.6h1.3v1.3h-1.3zM344.4 911.5h1.3v1.3h-1.3zM333.2 944.4h1.3v1.3h-1.3zM360.0 908.6h1.3v1.3h-1.3zM381.2 895.7h1.3v1.3h-1.3zM363.1 929.3h1.3v1.3h-1.3zM357.1 941.1h1.3v1.3h-1.3zM348.8 901.7h1.3v1.3h-1.3zM410.0 901.9h1.3v1.3h-1.3zM370.1 924.8h1.3v1.3h-1.3zM368.9 944.4h1.3v1.3h-1.3zM376.2 909.4h1.3v1.3h-1.3zM360.5 920.9h1.3v1.3h-1.3zM325.9 909.4h1.3v1.3h-1.3zM380.8 944.4h1.3v1.3h-1.3zM350.5 916.1h1.3v1.3h-1.3zM400.2 934.3h1.3v1.3h-1.3zM362.5 899.1h1.3v1.3h-1.3zM373.8 924.5h1.3v1.3h-1.3zM353.6 920.7h1.3v1.3h-1.3zM345.8 905.9h1.3v1.3h-1.3zM344.4 912.5h1.3v1.3h-1.3zM384.4 902.6h1.3v1.3h-1.3zM366.9 920.2h1.3v1.3h-1.3zM372.2 918.7h1.3v1.3h-1.3zM389.6 921.4h1.3v1.3h-1.3zM408.1 877.6h1.3v1.3h-1.3zM351.3 913.6h1.3v1.3h-1.3zM340.0 908.4h1.3v1.3h-1.3zM374.8 923.0h1.3v1.3h-1.3zM342.4 919.4h1.3v1.3h-1.3zM409.9 895.6h1.3v1.3h-1.3zM373.9 929.2h1.3v1.3h-1.3zM364.7 932.0h1.3v1.3h-1.3zM335.2 934.4h1.3v1.3h-1.3zM378.5 915.5h1.3v1.3h-1.3zM368.9 936.8h1.3v1.3h-1.3zM333.6 905.0h1.3v1.3h-1.3zM356.8 902.3h1.3v1.3h-1.3zM348.3 905.5h1.3v1.3h-1.3zM370.1 926.8h1.3v1.3h-1.3zM355.2 891.3h1.3v1.3h-1.3zM385.4 924.2h1.3v1.3h-1.3zM368.5 943.7h1.3v1.3h-1.3zM402.9 899.2h1.3v1.3h-1.3zM355.8 913.4h1.3v1.3h-1.3zM315.0 905.6h1.3v1.3h-1.3zM375.2 916.4h1.3v1.3h-1.3zM383.0 915.9h1.3v1.3h-1.3zM343.0 931.0h1.3v1.3h-1.3zM360.3 907.0h1.3v1.3h-1.3zM364.7 930.8h1.3v1.3h-1.3zM372.0 939.4h1.3v1.3h-1.3zM410.1 916.2h1.3v1.3h-1.3zM342.1 918.3h1.3v1.3h-1.3zM387.8 912.7h1.3v1.3h-1.3zM409.1 942.3h1.3v1.3h-1.3zM399.2 921.3h1.3v1.3h-1.3zM383.5 894.9h1.3v1.3h-1.3zM337.4 942.2h1.3v1.3h-1.3zM355.4 944.4h1.3v1.3h-1.3zM319.3 919.6h1.3v1.3h-1.3zM389.8 928.0h1.3v1.3h-1.3zM375.2 865.2h1.3v1.3h-1.3zM371.5 925.4h1.3v1.3h-1.3zM360.5 914.2h1.3v1.3h-1.3zM357.8 910.3h1.3v1.3h-1.3zM369.0 906.8h1.3v1.3h-1.3zM367.5 921.9h1.3v1.3h-1.3zM343.6 941.5h1.3v1.3h-1.3zM357.9 926.5h1.3v1.3h-1.3zM370.5 921.8h1.3v1.3h-1.3zM355.6 886.5h1.3v1.3h-1.3zM371.3 902.3h1.3v1.3h-1.3zM341.5 905.4h1.3v1.3h-1.3zM390.3 913.8h1.3v1.3h-1.3zM344.6 901.6h1.3v1.3h-1.3zM348.3 944.1h1.3v1.3h-1.3zM328.3 919.7h1.3v1.3h-1.3zM353.3 908.5h1.3v1.3h-1.3zM379.1 900.0h1.3v1.3h-1.3zM371.7 918.9h1.3v1.3h-1.3zM364.4 932.6h1.3v1.3h-1.3zM345.8 931.7h1.3v1.3h-1.3zM369.3 933.5h1.3v1.3h-1.3zM362.2 904.4h1.3v1.3h-1.3zM315.0 934.0h1.3v1.3h-1.3zM341.9 921.1h1.3v1.3h-1.3zM330.7 931.1h1.3v1.3h-1.3zM414.5 941.7h1.3v1.3h-1.3zM361.6 918.0h1.3v1.3h-1.3zM356.9 939.3h1.3v1.3h-1.3zM385.5 944.4h1.3v1.3h-1.3zM341.8 924.8h1.3v1.3h-1.3zM349.1 903.8h1.3v1.3h-1.3zM355.9 892.9h1.3v1.3h-1.3zM362.4 898.6h1.3v1.3h-1.3zM371.8 925.7h1.3v1.3h-1.3zM355.8 906.6h1.3v1.3h-1.3zM350.0 922.7h1.3v1.3h-1.3zM344.4 944.4h1.3v1.3h-1.3zM373.9 912.6h1.3v1.3h-1.3zM335.1 915.1h1.3v1.3h-1.3zM356.5 944.4h1.3v1.3h-1.3zM341.0 912.2h1.3v1.3h-1.3zM384.9 916.2h1.3v1.3h-1.3zM424.0 916.8h1.3v1.3h-1.3zM345.6 944.3h1.3v1.3h-1.3zM395.5 929.0h1.3v1.3h-1.3zM354.1 934.2h1.3v1.3h-1.3zM344.4 927.2h1.3v1.3h-1.3zM373.0 913.4h1.3v1.3h-1.3zM370.7 907.1h1.3v1.3h-1.3zM352.3 936.8h1.3v1.3h-1.3zM362.1 944.4h1.3v1.3h-1.3zM382.4 913.4h1.3v1.3h-1.3zM375.4 937.5h1.3v1.3h-1.3zM352.7 920.7h1.3v1.3h-1.3zM341.2 937.5h1.3v1.3h-1.3zM359.0 918.8h1.3v1.3h-1.3zM348.9 905.5h1.3v1.3h-1.3zM412.8 912.3h1.3v1.3h-1.3zM359.6 925.9h1.3v1.3h-1.3zM399.5 916.4h1.3v1.3h-1.3zM377.3 917.6h1.3v1.3h-1.3zM351.2 898.1h1.3v1.3h-1.3zM358.5 918.6h1.3v1.3h-1.3zM316.2 888.2h1.3v1.3h-1.3zM380.5 922.4h1.3v1.3h-1.3zM346.2 930.2h1.3v1.3h-1.3zM325.9 913.9h1.3v1.3h-1.3zM344.4 914.6h1.3v1.3h-1.3zM373.8 892.0h1.3v1.3h-1.3zM368.6 916.5h1.3v1.3h-1.3zM375.0 930.2h1.3v1.3h-1.3zM358.5 915.9h1.3v1.3h-1.3zM389.8 909.4h1.3v1.3h-1.3zM358.4 902.1h1.3v1.3h-1.3zM356.1 943.4h1.3v1.3h-1.3zM399.3 920.0h1.3v1.3h-1.3zM354.7 938.4h1.3v1.3h-1.3zM355.3 894.6h1.3v1.3h-1.3zM363.9 886.4h1.3v1.3h-1.3zM366.0 902.7h1.3v1.3h-1.3zM366.3 926.6h1.3v1.3h-1.3zM356.2 923.7h1.3v1.3h-1.3zM338.9 938.3h1.3v1.3h-1.3zM373.7 900.8h1.3v1.3h-1.3zM369.3 918.8h1.3v1.3h-1.3zM345.7 902.4h1.3v1.3h-1.3zM389.2 937.0h1.3v1.3h-1.3zM367.5 924.5h1.3v1.3h-1.3zM332.9 895.2h1.3v1.3h-1.3zM392.3 914.6h1.3v1.3h-1.3zM397.4 927.1h1.3v1.3h-1.3zM372.2 899.0h1.3v1.3h-1.3zM359.6 914.8h1.3v1.3h-1.3zM344.6 909.6h1.3v1.3h-1.3zM391.7 934.2h1.3v1.3h-1.3zM348.4 920.6h1.3v1.3h-1.3zM396.8 927.3h1.3v1.3h-1.3zM347.2 921.4h1.3v1.3h-1.3zM390.7 942.9h1.3v1.3h-1.3zM361.6 900.2h1.3v1.3h-1.3zM364.6 924.2h1.3v1.3h-1.3zM384.1 938.3h1.3v1.3h-1.3zM410.5 912.9h1.3v1.3h-1.3zM356.5 918.9h1.3v1.3h-1.3zM363.4 924.7h1.3v1.3h-1.3zM337.6 924.1h1.3v1.3h-1.3zM326.5 899.8h1.3v1.3h-1.3zM339.4 931.7h1.3v1.3h-1.3zM346.6 909.9h1.3v1.3h-1.3zM359.7 899.2h1.3v1.3h-1.3zM353.9 918.5h1.3v1.3h-1.3zM362.6 925.9h1.3v1.3h-1.3zM388.7 902.3h1.3v1.3h-1.3zM393.0 941.6h1.3v1.3h-1.3zM371.7 937.7h1.3v1.3h-1.3zM338.6 944.4h1.3v1.3h-1.3zM343.1 911.8h1.3v1.3h-1.3zM394.7 894.7h1.3v1.3h-1.3zM344.0 930.2h1.3v1.3h-1.3zM369.2 918.6h1.3v1.3h-1.3zM368.8 944.4h1.3v1.3h-1.3zM359.8 912.1h1.3v1.3h-1.3zM369.8 922.6h1.3v1.3h-1.3zM347.9 922.2h1.3v1.3h-1.3zM399.2 913.3h1.3v1.3h-1.3zM387.2 895.9h1.3v1.3h-1.3zM339.9 910.8h1.3v1.3h-1.3zM374.1 901.0h1.3v1.3h-1.3zM358.5 924.2h1.3v1.3h-1.3zM349.2 918.3h1.3v1.3h-1.3zM357.4 923.4h1.3v1.3h-1.3zM370.8 926.9h1.3v1.3h-1.3zM342.9 927.4h1.3v1.3h-1.3zM351.3 914.9h1.3v1.3h-1.3zM390.8 926.4h1.3v1.3h-1.3zM315.0 912.5h1.3v1.3h-1.3zM361.9 935.5h1.3v1.3h-1.3zM357.7 893.5h1.3v1.3h-1.3zM330.3 938.8h1.3v1.3h-1.3zM361.8 944.4h1.3v1.3h-1.3zM352.9 906.8h1.3v1.3h-1.3zM375.0 915.8h1.3v1.3h-1.3zM355.6 923.9h1.3v1.3h-1.3zM423.5 917.9h1.3v1.3h-1.3zM392.8 940.3h1.3v1.3h-1.3zM368.5 916.0h1.3v1.3h-1.3zM366.5 944.4h1.3v1.3h-1.3zM353.8 899.5h1.3v1.3h-1.3zM375.3 933.1h1.3v1.3h-1.3zM382.4 944.4h1.3v1.3h-1.3zM376.0 916.2h1.3v1.3h-1.3zM349.5 936.8h1.3v1.3h-1.3zM326.4 924.8h1.3v1.3h-1.3zM401.3 908.5h1.3v1.3h-1.3zM372.1 907.6h1.3v1.3h-1.3zM350.0 913.5h1.3v1.3h-1.3zM315.0 928.9h1.3v1.3h-1.3zM352.3 922.6h1.3v1.3h-1.3zM359.1 912.8h1.3v1.3h-1.3zM349.1 907.8h1.3v1.3h-1.3zM357.2 908.6h1.3v1.3h-1.3zM365.3 909.0h1.3v1.3h-1.3zM372.8 930.8h1.3v1.3h-1.3zM366.7 941.4h1.3v1.3h-1.3zM363.6 916.1h1.3v1.3h-1.3zM356.4 924.3h1.3v1.3h-1.3zM384.1 903.8h1.3v1.3h-1.3zM393.7 930.4h1.3v1.3h-1.3zM353.1 910.0h1.3v1.3h-1.3zM382.1 944.4h1.3v1.3h-1.3zM406.1 904.5h1.3v1.3h-1.3zM335.1 904.4h1.3v1.3h-1.3zM353.5 923.5h1.3v1.3h-1.3zM341.1 933.9h1.3v1.3h-1.3zM354.3 920.2h1.3v1.3h-1.3zM338.5 922.6h1.3v1.3h-1.3zM347.3 929.4h1.3v1.3h-1.3zM343.4 930.9h1.3v1.3h-1.3zM398.3 944.4h1.3v1.3h-1.3zM334.0 922.6h1.3v1.3h-1.3zM351.9 937.3h1.3v1.3h-1.3zM371.9 939.1h1.3v1.3h-1.3zM362.8 907.3h1.3v1.3h-1.3zM375.3 925.9h1.3v1.3h-1.3zM362.9 919.0h1.3v1.3h-1.3zM376.1 935.9h1.3v1.3h-1.3zM390.8 910.3h1.3v1.3h-1.3zM403.9 909.0h1.3v1.3h-1.3zM385.5 944.4h1.3v1.3h-1.3zM353.1 893.7h1.3v1.3h-1.3zM371.3 928.4h1.3v1.3h-1.3zM378.2 920.3h1.3v1.3h-1.3zM371.7 932.4h1.3v1.3h-1.3zM374.5 898.8h1.3v1.3h-1.3zM368.2 914.9h1.3v1.3h-1.3zM347.4 914.3h1.3v1.3h-1.3zM353.8 942.0h1.3v1.3h-1.3zM353.6 925.2h1.3v1.3h-1.3zM375.1 907.3h1.3v1.3h-1.3zM358.4 927.1h1.3v1.3h-1.3zM376.8 935.2h1.3v1.3h-1.3zM355.3 925.3h1.3v1.3h-1.3zM359.0 930.6h1.3v1.3h-1.3zM398.7 907.3h1.3v1.3h-1.3zM359.0 943.3h1.3v1.3h-1.3zM351.6 912.8h1.3v1.3h-1.3zM319.7 884.3h1.3v1.3h-1.3zM361.1 922.4h1.3v1.3h-1.3zM376.8 943.1h1.3v1.3h-1.3zM364.2 921.7h1.3v1.3h-1.3zM378.5 936.8h1.3v1.3h-1.3zM376.7 903.7h1.3v1.3h-1.3zM369.4 929.7h1.3v1.3h-1.3zM344.1 944.4h1.3v1.3h-1.3zM350.2 914.0h1.3v1.3h-1.3zM396.0 906.0h1.3v1.3h-1.3zM389.4 928.7h1.3v1.3h-1.3zM353.4 944.4h1.3v1.3h-1.3zM348.1 938.6h1.3v1.3h-1.3zM357.4 911.4h1.3v1.3h-1.3zM360.3 926.5h1.3v1.3h-1.3zM378.2 898.7h1.3v1.3h-1.3zM386.9 944.4h1.3v1.3h-1.3zM401.5 928.1h1.3v1.3h-1.3zM331.1 926.9h1.3v1.3h-1.3zM385.1 944.4h1.3v1.3h-1.3zM392.0 918.1h1.3v1.3h-1.3zM375.5 942.1h1.3v1.3h-1.3zM350.8 938.5h1.3v1.3h-1.3zM389.1 933.1h1.3v1.3h-1.3zM371.4 931.4h1.3v1.3h-1.3zM326.3 908.2h1.3v1.3h-1.3zM389.4 898.7h1.3v1.3h-1.3zM350.8 920.7h1.3v1.3h-1.3zM378.4 916.4h1.3v1.3h-1.3zM367.8 886.2h1.3v1.3h-1.3zM353.8 908.1h1.3v1.3h-1.3zM351.3 900.0h1.3v1.3h-1.3zM357.3 936.3h1.3v1.3h-1.3zM379.7 920.6h1.3v1.3h-1.3zM354.7 924.8h1.3v1.3h-1.3zM349.4 913.6h1.3v1.3h-1.3zM370.4 896.3h1.3v1.3h-1.3zM348.1 899.8h1.3v1.3h-1.3zM375.4 942.7h1.3v1.3h-1.3zM396.4 944.4h1.3v1.3h-1.3zM374.5 944.4h1.3v1.3h-1.3zM369.3 926.9h1.3v1.3h-1.3zM357.3 944.4h1.3v1.3h-1.3zM346.5 903.3h1.3v1.3h-1.3zM377.5 922.0h1.3v1.3h-1.3zM361.0 930.6h1.3v1.3h-1.3zM396.1 921.2h1.3v1.3h-1.3zM365.5 904.4h1.3v1.3h-1.3zM400.7 938.5h1.3v1.3h-1.3zM381.6 929.7h1.3v1.3h-1.3zM395.4 912.0h1.3v1.3h-1.3zM391.0 909.9h1.3v1.3h-1.3zM387.4 897.0h1.3v1.3h-1.3zM384.8 906.3h1.3v1.3h-1.3zM407.7 915.9h1.3v1.3h-1.3zM353.0 921.3h1.3v1.3h-1.3zM386.6 917.0h1.3v1.3h-1.3zM379.6 894.3h1.3v1.3h-1.3zM385.7 933.0h1.3v1.3h-1.3zM379.8 894.1h1.3v1.3h-1.3zM390.2 901.7h1.3v1.3h-1.3zM373.6 909.9h1.3v1.3h-1.3zM373.8 917.4h1.3v1.3h-1.3zM375.0 918.4h1.3v1.3h-1.3zM377.0 904.3h1.3v1.3h-1.3zM355.8 921.8h1.3v1.3h-1.3zM413.5 931.7h1.3v1.3h-1.3zM363.3 924.2h1.3v1.3h-1.3zM380.2 919.4h1.3v1.3h-1.3zM379.3 925.8h1.3v1.3h-1.3zM394.5 925.4h1.3v1.3h-1.3zM385.7 934.9h1.3v1.3h-1.3zM371.9 908.4h1.3v1.3h-1.3zM383.7 889.9h1.3v1.3h-1.3zM376.1 920.6h1.3v1.3h-1.3zM363.2 909.1h1.3v1.3h-1.3zM410.4 911.8h1.3v1.3h-1.3zM393.5 914.7h1.3v1.3h-1.3zM393.0 931.0h1.3v1.3h-1.3zM378.0 928.9h1.3v1.3h-1.3zM407.2 918.8h1.3v1.3h-1.3zM359.6 926.3h1.3v1.3h-1.3zM393.3 917.0h1.3v1.3h-1.3zM386.6 909.9h1.3v1.3h-1.3zM394.9 900.6h1.3v1.3h-1.3zM378.8 907.3h1.3v1.3h-1.3zM404.1 937.2h1.3v1.3h-1.3zM400.0 929.4h1.3v1.3h-1.3zM369.8 902.8h1.3v1.3h-1.3zM389.5 926.4h1.3v1.3h-1.3zM372.5 905.3h1.3v1.3h-1.3zM371.5 921.7h1.3v1.3h-1.3zM385.4 933.8h1.3v1.3h-1.3zM359.1 924.2h1.3v1.3h-1.3zM379.3 912.8h1.3v1.3h-1.3zM367.6 923.3h1.3v1.3h-1.3zM387.8 908.9h1.3v1.3h-1.3zM383.2 914.3h1.3v1.3h-1.3zM403.7 913.6h1.3v1.3h-1.3zM386.9 915.9h1.3v1.3h-1.3zM392.2 924.1h1.3v1.3h-1.3zM375.1 921.3h1.3v1.3h-1.3zM382.0 903.5h1.3v1.3h-1.3zM375.3 929.5h1.3v1.3h-1.3zM370.7 925.0h1.3v1.3h-1.3zM391.3 899.4h1.3v1.3h-1.3zM398.5 935.9h1.3v1.3h-1.3zM387.3 923.0h1.3v1.3h-1.3zM389.2 923.2h1.3v1.3h-1.3zM393.4 913.2h1.3v1.3h-1.3zM352.2 907.5h1.3v1.3h-1.3zM383.2 925.0h1.3v1.3h-1.3zM365.4 921.5h1.3v1.3h-1.3zM380.8 923.9h1.3v1.3h-1.3zM372.2 944.4h1.3v1.3h-1.3zM373.5 910.1h1.3v1.3h-1.3zM382.6 922.0h1.3v1.3h-1.3zM391.6 913.2h1.3v1.3h-1.3zM384.2 906.0h1.3v1.3h-1.3zM381.2 916.9h1.3v1.3h-1.3zM381.6 916.7h1.3v1.3h-1.3zM391.8 909.5h1.3v1.3h-1.3zM355.2 936.9h1.3v1.3h-1.3zM376.7 913.5h1.3v1.3h-1.3zM394.8 939.2h1.3v1.3h-1.3zM369.0 899.7h1.3v1.3h-1.3zM374.7 931.5h1.3v1.3h-1.3zM381.5 929.6h1.3v1.3h-1.3zM382.7 933.9h1.3v1.3h-1.3zM395.7 924.6h1.3v1.3h-1.3zM393.8 920.8h1.3v1.3h-1.3zM389.3 900.1h1.3v1.3h-1.3zM376.8 911.0h1.3v1.3h-1.3zM410.9 919.3h1.3v1.3h-1.3zM383.3 901.7h1.3v1.3h-1.3zM380.9 924.6h1.3v1.3h-1.3zM357.5 905.4h1.3v1.3h-1.3zM366.5 916.3h1.3v1.3h-1.3zM365.1 901.1h1.3v1.3h-1.3zM379.2 907.7h1.3v1.3h-1.3zM403.2 919.3h1.3v1.3h-1.3zM391.2 919.6h1.3v1.3h-1.3zM368.6 914.5h1.3v1.3h-1.3zM394.9 920.0h1.3v1.3h-1.3zM385.4 914.9h1.3v1.3h-1.3zM402.1 928.6h1.3v1.3h-1.3zM405.2 926.6h1.3v1.3h-1.3zM391.7 916.8h1.3v1.3h-1.3zM384.4 937.6h1.3v1.3h-1.3zM384.1 931.5h1.3v1.3h-1.3zM387.5 903.5h1.3v1.3h-1.3zM395.2 915.8h1.3v1.3h-1.3zM384.6 934.6h1.3v1.3h-1.3zM397.0 926.9h1.3v1.3h-1.3zM403.4 928.0h1.3v1.3h-1.3zM357.4 892.3h1.3v1.3h-1.3zM363.9 920.7h1.3v1.3h-1.3zM372.9 902.6h1.3v1.3h-1.3zM387.6 910.4h1.3v1.3h-1.3zM364.8 930.7h1.3v1.3h-1.3zM376.3 904.0h1.3v1.3h-1.3zM401.3 915.1h1.3v1.3h-1.3zM380.0 918.9h1.3v1.3h-1.3zM389.5 931.8h1.3v1.3h-1.3zM362.8 929.2h1.3v1.3h-1.3zM375.9 926.2h1.3v1.3h-1.3zM380.6 939.8h1.3v1.3h-1.3zM390.7 908.0h1.3v1.3h-1.3zM397.7 892.2h1.3v1.3h-1.3zM358.5 915.2h1.3v1.3h-1.3zM398.9 915.6h1.3v1.3h-1.3zM401.6 922.0h1.3v1.3h-1.3zM387.1 930.5h1.3v1.3h-1.3zM405.0 907.5h1.3v1.3h-1.3zM408.3 919.0h1.3v1.3h-1.3zM361.5 923.0h1.3v1.3h-1.3zM401.1 919.8h1.3v1.3h-1.3zM404.4 922.8h1.3v1.3h-1.3zM407.6 921.1h1.3v1.3h-1.3zM412.5 944.4h1.3v1.3h-1.3zM383.0 944.4h1.3v1.3h-1.3zM387.8 934.1h1.3v1.3h-1.3zM380.0 921.4h1.3v1.3h-1.3zM395.9 910.1h1.3v1.3h-1.3zM399.3 922.9h1.3v1.3h-1.3zM370.3 941.5h1.3v1.3h-1.3zM389.8 936.6h1.3v1.3h-1.3zM378.3 906.5h1.3v1.3h-1.3zM368.5 927.1h1.3v1.3h-1.3zM398.1 909.6h1.3v1.3h-1.3zM381.3 926.0h1.3v1.3h-1.3zM383.3 924.0h1.3v1.3h-1.3zM355.6 912.5h1.3v1.3h-1.3zM393.9 925.8h1.3v1.3h-1.3zM399.7 930.7h1.3v1.3h-1.3zM371.7 899.8h1.3v1.3h-1.3zM400.3 929.1h1.3v1.3h-1.3zM370.4 940.4h1.3v1.3h-1.3zM384.0 940.2h1.3v1.3h-1.3zM389.9 913.8h1.3v1.3h-1.3zM365.9 914.8h1.3v1.3h-1.3zM382.9 902.9h1.3v1.3h-1.3zM405.4 923.9h1.3v1.3h-1.3zM388.1 917.0h1.3v1.3h-1.3zM409.2 907.5h1.3v1.3h-1.3zM392.4 918.8h1.3v1.3h-1.3zM371.2 944.4h1.3v1.3h-1.3zM408.9 891.2h1.3v1.3h-1.3zM372.2 920.7h1.3v1.3h-1.3zM368.3 936.9h1.3v1.3h-1.3zM361.6 926.4h1.3v1.3h-1.3zM381.3 920.2h1.3v1.3h-1.3zM367.0 935.2h1.3v1.3h-1.3zM377.3 934.4h1.3v1.3h-1.3zM390.7 921.7h1.3v1.3h-1.3zM379.0 942.1h1.3v1.3h-1.3zM387.5 918.4h1.3v1.3h-1.3zM378.3 907.4h1.3v1.3h-1.3zM412.5 902.3h1.3v1.3h-1.3zM403.3 912.8h1.3v1.3h-1.3zM389.4 905.6h1.3v1.3h-1.3zM387.0 921.3h1.3v1.3h-1.3zM384.8 891.2h1.3v1.3h-1.3zM377.6 928.6h1.3v1.3h-1.3zM375.9 908.0h1.3v1.3h-1.3zM393.2 906.2h1.3v1.3h-1.3zM405.0 915.2h1.3v1.3h-1.3zM377.1 935.5h1.3v1.3h-1.3zM389.0 920.5h1.3v1.3h-1.3zM376.8 936.1h1.3v1.3h-1.3zM378.9 901.0h1.3v1.3h-1.3zM380.8 906.2h1.3v1.3h-1.3zM390.2 928.4h1.3v1.3h-1.3zM383.0 901.2h1.3v1.3h-1.3zM373.8 936.0h1.3v1.3h-1.3zM380.2 924.7h1.3v1.3h-1.3zM392.1 931.3h1.3v1.3h-1.3zM395.8 932.9h1.3v1.3h-1.3zM371.1 932.9h1.3v1.3h-1.3zM392.3 904.0h1.3v1.3h-1.3zM375.8 923.4h1.3v1.3h-1.3zM383.9 921.9h1.3v1.3h-1.3zM396.5 915.6h1.3v1.3h-1.3zM383.4 929.9h1.3v1.3h-1.3zM366.1 918.1h1.3v1.3h-1.3zM404.4 903.5h1.3v1.3h-1.3zM361.2 919.0h1.3v1.3h-1.3zM395.0 929.8h1.3v1.3h-1.3zM358.0 944.4h1.3v1.3h-1.3zM388.9 925.9h1.3v1.3h-1.3zM395.8 908.3h1.3v1.3h-1.3zM375.6 944.4h1.3v1.3h-1.3zM370.6 932.2h1.3v1.3h-1.3zM388.2 909.1h1.3v1.3h-1.3zM385.8 929.1h1.3v1.3h-1.3zM398.9 916.5h1.3v1.3h-1.3zM390.9 926.5h1.3v1.3h-1.3zM388.6 928.6h1.3v1.3h-1.3zM386.5 919.6h1.3v1.3h-1.3zM402.1 919.1h1.3v1.3h-1.3zM372.0 927.9h1.3v1.3h-1.3zM389.4 925.9h1.3v1.3h-1.3zM383.2 909.2h1.3v1.3h-1.3zM379.0 926.9h1.3v1.3h-1.3zM390.2 927.0h1.3v1.3h-1.3zM387.0 918.3h1.3v1.3h-1.3zM385.1 917.2h1.3v1.3h-1.3zM378.4 903.3h1.3v1.3h-1.3zM389.7 912.7h1.3v1.3h-1.3zM403.9 927.3h1.3v1.3h-1.3zM370.3 915.3h1.3v1.3h-1.3zM390.7 906.1h1.3v1.3h-1.3zM381.4 909.4h1.3v1.3h-1.3zM385.7 922.9h1.3v1.3h-1.3zM385.8 935.6h1.3v1.3h-1.3zM394.5 917.6h1.3v1.3h-1.3zM391.0 921.2h1.3v1.3h-1.3zM374.6 936.4h1.3v1.3h-1.3zM401.2 908.7h1.3v1.3h-1.3zM365.7 907.3h1.3v1.3h-1.3zM376.2 931.6h1.3v1.3h-1.3zM376.3 903.1h1.3v1.3h-1.3zM389.1 915.7h1.3v1.3h-1.3zM381.9 912.9h1.3v1.3h-1.3zM393.8 914.5h1.3v1.3h-1.3zM383.1 916.6h1.3v1.3h-1.3zM401.8 908.7h1.3v1.3h-1.3zM370.1 887.5h1.3v1.3h-1.3zM385.0 915.1h1.3v1.3h-1.3zM380.3 932.3h1.3v1.3h-1.3zM371.9 927.1h1.3v1.3h-1.3zM391.2 926.3h1.3v1.3h-1.3zM377.3 931.6h1.3v1.3h-1.3zM371.6 920.4h1.3v1.3h-1.3zM364.4 934.2h1.3v1.3h-1.3zM400.2 928.3h1.3v1.3h-1.3zM393.4 940.3h1.3v1.3h-1.3zM372.0 930.6h1.3v1.3h-1.3zM389.9 909.3h1.3v1.3h-1.3zM383.1 911.0h1.3v1.3h-1.3zM375.7 908.2h1.3v1.3h-1.3zM394.8 914.7h1.3v1.3h-1.3zM372.9 919.6h1.3v1.3h-1.3zM380.6 898.1h1.3v1.3h-1.3zM390.8 931.4h1.3v1.3h-1.3zM390.1 903.0h1.3v1.3h-1.3zM384.1 934.0h1.3v1.3h-1.3zM391.0 915.0h1.3v1.3h-1.3zM368.1 936.8h1.3v1.3h-1.3zM383.5 916.5h1.3v1.3h-1.3zM397.3 913.2h1.3v1.3h-1.3zM369.7 936.1h1.3v1.3h-1.3zM401.5 926.3h1.3v1.3h-1.3zM395.0 921.6h1.3v1.3h-1.3zM386.0 944.4h1.3v1.3h-1.3zM400.4 907.3h1.3v1.3h-1.3zM407.7 927.8h1.3v1.3h-1.3zM401.2 929.0h1.3v1.3h-1.3zM382.8 896.9h1.3v1.3h-1.3zM410.4 935.4h1.3v1.3h-1.3zM369.4 913.6h1.3v1.3h-1.3zM371.1 912.1h1.3v1.3h-1.3zM370.5 916.3h1.3v1.3h-1.3zM391.9 944.4h1.3v1.3h-1.3zM382.0 927.5h1.3v1.3h-1.3zM381.4 917.3h1.3v1.3h-1.3zM387.9 927.7h1.3v1.3h-1.3zM386.3 911.1h1.3v1.3h-1.3zM384.1 923.1h1.3v1.3h-1.3zM398.4 899.4h1.3v1.3h-1.3zM391.4 921.5h1.3v1.3h-1.3zM391.4 910.6h1.3v1.3h-1.3zM390.5 917.2h1.3v1.3h-1.3zM393.1 921.8h1.3v1.3h-1.3zM393.0 910.7h1.3v1.3h-1.3zM391.6 909.0h1.3v1.3h-1.3zM370.6 927.3h1.3v1.3h-1.3zM380.0 915.7h1.3v1.3h-1.3zM376.9 908.2h1.3v1.3h-1.3zM368.3 923.5h1.3v1.3h-1.3zM379.7 919.2h1.3v1.3h-1.3zM385.2 903.2h1.3v1.3h-1.3zM375.4 900.0h1.3v1.3h-1.3zM397.5 937.9h1.3v1.3h-1.3zM403.6 911.3h1.3v1.3h-1.3zM363.8 926.0h1.3v1.3h-1.3zM388.6 897.4h1.3v1.3h-1.3zM411.2 924.4h1.3v1.3h-1.3zM375.6 916.1h1.3v1.3h-1.3zM379.3 911.7h1.3v1.3h-1.3zM390.6 927.0h1.3v1.3h-1.3zM383.4 915.9h1.3v1.3h-1.3zM369.4 917.8h1.3v1.3h-1.3zM408.7 907.4h1.3v1.3h-1.3zM401.1 912.9h1.3v1.3h-1.3zM383.0 891.3h1.3v1.3h-1.3zM374.1 925.1h1.3v1.3h-1.3zM395.1 922.5h1.3v1.3h-1.3zM399.9 918.4h1.3v1.3h-1.3zM405.5 924.7h1.3v1.3h-1.3zM384.6 920.6h1.3v1.3h-1.3zM382.8 915.7h1.3v1.3h-1.3zM392.6 918.1h1.3v1.3h-1.3zM390.8 918.1h1.3v1.3h-1.3zM375.9 926.7h1.3v1.3h-1.3zM394.0 934.6h1.3v1.3h-1.3zM390.6 927.4h1.3v1.3h-1.3zM386.7 915.6h1.3v1.3h-1.3zM392.1 919.8h1.3v1.3h-1.3zM405.0 910.7h1.3v1.3h-1.3zM380.9 919.7h1.3v1.3h-1.3zM411.5 932.0h1.3v1.3h-1.3zM395.2 925.7h1.3v1.3h-1.3zM370.8 907.1h1.3v1.3h-1.3zM394.1 924.9h1.3v1.3h-1.3zM369.8 917.0h1.3v1.3h-1.3zM403.3 915.4h1.3v1.3h-1.3zM391.7 912.7h1.3v1.3h-1.3zM411.0 901.0h1.3v1.3h-1.3zM377.6 916.7h1.3v1.3h-1.3zM379.2 918.1h1.3v1.3h-1.3zM383.0 934.6h1.3v1.3h-1.3zM399.7 929.6h1.3v1.3h-1.3zM353.2 919.0h1.3v1.3h-1.3zM388.8 930.8h1.3v1.3h-1.3zM374.2 925.4h1.3v1.3h-1.3zM373.7 925.4h1.3v1.3h-1.3zM377.9 910.9h1.3v1.3h-1.3zM393.6 930.4h1.3v1.3h-1.3zM386.0 933.9h1.3v1.3h-1.3zM378.1 931.7h1.3v1.3h-1.3zM369.4 925.4h1.3v1.3h-1.3zM400.9 926.7h1.3v1.3h-1.3zM407.2 933.5h1.3v1.3h-1.3zM402.0 908.8h1.3v1.3h-1.3zM396.2 925.5h1.3v1.3h-1.3zM407.9 916.6h1.3v1.3h-1.3zM398.2 924.7h1.3v1.3h-1.3zM400.2 926.7h1.3v1.3h-1.3zM369.5 923.8h1.3v1.3h-1.3zM376.0 936.7h1.3v1.3h-1.3zM367.0 899.5h1.3v1.3h-1.3zM381.6 929.1h1.3v1.3h-1.3zM385.8 919.0h1.3v1.3h-1.3zM380.3 898.8h1.3v1.3h-1.3zM392.0 937.9h1.3v1.3h-1.3zM380.2 924.7h1.3v1.3h-1.3zM402.5 917.6h1.3v1.3h-1.3zM383.7 903.3h1.3v1.3h-1.3zM388.7 923.6h1.3v1.3h-1.3zM361.6 928.9h1.3v1.3h-1.3zM395.2 927.6h1.3v1.3h-1.3zM377.0 927.8h1.3v1.3h-1.3zM401.2 900.3h1.3v1.3h-1.3zM373.9 899.8h1.3v1.3h-1.3zM400.0 912.4h1.3v1.3h-1.3zM378.9 905.6h1.3v1.3h-1.3zM374.3 921.5h1.3v1.3h-1.3zM388.0 925.6h1.3v1.3h-1.3zM372.8 914.0h1.3v1.3h-1.3zM385.9 910.3h1.3v1.3h-1.3zM377.0 902.2h1.3v1.3h-1.3zM356.1 915.9h1.3v1.3h-1.3zM390.7 908.8h1.3v1.3h-1.3zM384.1 907.7h1.3v1.3h-1.3zM382.9 918.2h1.3v1.3h-1.3zM372.0 902.6h1.3v1.3h-1.3zM391.2 919.7h1.3v1.3h-1.3zM372.6 923.0h1.3v1.3h-1.3zM387.7 922.2h1.3v1.3h-1.3zM377.5 898.1h1.3v1.3h-1.3zM396.3 944.4h1.3v1.3h-1.3zM391.2 918.4h1.3v1.3h-1.3zM383.4 919.7h1.3v1.3h-1.3zM390.6 943.1h1.3v1.3h-1.3zM391.5 932.7h1.3v1.3h-1.3zM397.8 943.2h1.3v1.3h-1.3zM355.2 921.2h1.3v1.3h-1.3zM384.4 917.6h1.3v1.3h-1.3zM369.7 917.8h1.3v1.3h-1.3zM377.0 890.6h1.3v1.3h-1.3zM352.8 906.4h1.3v1.3h-1.3zM389.0 911.4h1.3v1.3h-1.3zM398.1 919.5h1.3v1.3h-1.3zM388.5 926.9h1.3v1.3h-1.3zM386.4 920.1h1.3v1.3h-1.3zM390.9 931.7h1.3v1.3h-1.3zM422.2 910.5h1.3v1.3h-1.3zM410.6 914.3h1.3v1.3h-1.3zM413.5 929.0h1.3v1.3h-1.3zM396.8 913.2h1.3v1.3h-1.3zM443.8 920.8h1.3v1.3h-1.3zM401.6 907.3h1.3v1.3h-1.3zM389.1 899.0h1.3v1.3h-1.3zM436.6 922.1h1.3v1.3h-1.3zM423.8 908.0h1.3v1.3h-1.3zM390.1 935.4h1.3v1.3h-1.3zM422.5 910.3h1.3v1.3h-1.3zM407.8 891.7h1.3v1.3h-1.3zM408.2 936.6h1.3v1.3h-1.3zM411.1 944.4h1.3v1.3h-1.3zM414.1 920.3h1.3v1.3h-1.3zM448.7 890.5h1.3v1.3h-1.3zM407.6 924.8h1.3v1.3h-1.3zM435.3 898.9h1.3v1.3h-1.3zM404.7 939.3h1.3v1.3h-1.3zM395.3 932.0h1.3v1.3h-1.3zM395.8 928.6h1.3v1.3h-1.3zM425.4 907.2h1.3v1.3h-1.3zM406.3 944.4h1.3v1.3h-1.3zM441.0 928.9h1.3v1.3h-1.3zM432.2 929.6h1.3v1.3h-1.3zM402.5 893.0h1.3v1.3h-1.3zM419.3 910.4h1.3v1.3h-1.3zM394.4 904.5h1.3v1.3h-1.3zM389.4 924.8h1.3v1.3h-1.3zM384.2 907.1h1.3v1.3h-1.3zM390.9 917.7h1.3v1.3h-1.3zM403.7 930.9h1.3v1.3h-1.3zM427.1 917.7h1.3v1.3h-1.3zM441.3 900.1h1.3v1.3h-1.3zM399.1 918.1h1.3v1.3h-1.3zM396.8 898.6h1.3v1.3h-1.3zM406.2 918.5h1.3v1.3h-1.3zM421.4 928.6h1.3v1.3h-1.3zM416.4 937.0h1.3v1.3h-1.3zM436.2 920.0h1.3v1.3h-1.3zM431.5 900.0h1.3v1.3h-1.3zM447.8 917.5h1.3v1.3h-1.3zM396.7 902.3h1.3v1.3h-1.3zM426.3 913.2h1.3v1.3h-1.3zM422.7 931.8h1.3v1.3h-1.3zM403.0 923.4h1.3v1.3h-1.3zM407.7 917.2h1.3v1.3h-1.3zM418.7 938.1h1.3v1.3h-1.3zM437.9 944.4h1.3v1.3h-1.3zM419.9 923.8h1.3v1.3h-1.3zM434.5 902.5h1.3v1.3h-1.3zM424.1 923.0h1.3v1.3h-1.3zM442.6 902.4h1.3v1.3h-1.3zM423.5 931.1h1.3v1.3h-1.3zM402.9 936.0h1.3v1.3h-1.3zM414.5 919.7h1.3v1.3h-1.3zM402.4 936.4h1.3v1.3h-1.3zM393.1 920.0h1.3v1.3h-1.3zM397.2 916.3h1.3v1.3h-1.3zM420.6 895.9h1.3v1.3h-1.3zM411.2 906.9h1.3v1.3h-1.3zM426.3 901.0h1.3v1.3h-1.3zM419.4 906.8h1.3v1.3h-1.3zM415.8 908.8h1.3v1.3h-1.3zM412.4 909.0h1.3v1.3h-1.3zM420.3 924.1h1.3v1.3h-1.3zM416.7 917.2h1.3v1.3h-1.3zM413.1 931.6h1.3v1.3h-1.3zM419.9 903.5h1.3v1.3h-1.3zM408.8 913.4h1.3v1.3h-1.3zM414.1 896.1h1.3v1.3h-1.3zM417.4 909.9h1.3v1.3h-1.3zM390.6 899.2h1.3v1.3h-1.3zM411.5 944.4h1.3v1.3h-1.3zM403.6 944.4h1.3v1.3h-1.3zM412.5 931.2h1.3v1.3h-1.3zM393.7 908.8h1.3v1.3h-1.3zM438.6 910.9h1.3v1.3h-1.3zM398.0 892.9h1.3v1.3h-1.3zM450.5 925.1h1.3v1.3h-1.3zM437.2 935.4h1.3v1.3h-1.3zM427.4 912.7h1.3v1.3h-1.3zM393.3 944.4h1.3v1.3h-1.3zM428.4 933.3h1.3v1.3h-1.3zM404.0 905.5h1.3v1.3h-1.3zM420.2 913.9h1.3v1.3h-1.3zM398.7 934.7h1.3v1.3h-1.3zM397.5 944.4h1.3v1.3h-1.3zM438.0 933.0h1.3v1.3h-1.3zM413.2 906.0h1.3v1.3h-1.3zM401.8 914.7h1.3v1.3h-1.3zM420.6 944.4h1.3v1.3h-1.3zM402.6 910.9h1.3v1.3h-1.3zM434.3 900.6h1.3v1.3h-1.3zM383.5 907.0h1.3v1.3h-1.3zM427.0 919.7h1.3v1.3h-1.3zM407.1 934.7h1.3v1.3h-1.3zM451.8 906.3h1.3v1.3h-1.3zM420.6 906.8h1.3v1.3h-1.3zM397.8 928.3h1.3v1.3h-1.3zM423.1 933.9h1.3v1.3h-1.3zM440.0 927.9h1.3v1.3h-1.3zM397.0 941.6h1.3v1.3h-1.3zM420.8 920.4h1.3v1.3h-1.3zM398.6 917.5h1.3v1.3h-1.3zM433.8 931.3h1.3v1.3h-1.3zM409.4 925.1h1.3v1.3h-1.3zM424.8 908.3h1.3v1.3h-1.3zM447.0 918.5h1.3v1.3h-1.3zM424.5 940.8h1.3v1.3h-1.3zM435.3 928.4h1.3v1.3h-1.3zM429.3 934.3h1.3v1.3h-1.3zM461.7 925.1h1.3v1.3h-1.3zM456.1 914.7h1.3v1.3h-1.3zM407.7 929.5h1.3v1.3h-1.3zM388.7 912.6h1.3v1.3h-1.3zM443.9 933.8h1.3v1.3h-1.3zM414.3 900.4h1.3v1.3h-1.3zM426.0 900.1h1.3v1.3h-1.3zM401.6 910.8h1.3v1.3h-1.3zM408.3 902.7h1.3v1.3h-1.3zM400.4 894.1h1.3v1.3h-1.3zM406.7 877.5h1.3v1.3h-1.3zM398.8 940.7h1.3v1.3h-1.3zM423.0 912.2h1.3v1.3h-1.3zM431.3 929.7h1.3v1.3h-1.3zM420.3 886.6h1.3v1.3h-1.3zM433.5 905.8h1.3v1.3h-1.3zM388.5 904.4h1.3v1.3h-1.3zM417.8 893.5h1.3v1.3h-1.3zM439.5 915.7h1.3v1.3h-1.3zM432.8 944.4h1.3v1.3h-1.3zM447.7 912.8h1.3v1.3h-1.3zM442.4 911.4h1.3v1.3h-1.3zM398.7 899.7h1.3v1.3h-1.3zM406.7 918.4h1.3v1.3h-1.3zM403.9 918.6h1.3v1.3h-1.3zM416.7 942.3h1.3v1.3h-1.3zM427.0 923.0h1.3v1.3h-1.3zM412.5 890.7h1.3v1.3h-1.3zM439.7 921.4h1.3v1.3h-1.3zM391.2 902.0h1.3v1.3h-1.3zM392.3 918.5h1.3v1.3h-1.3zM409.2 932.5h1.3v1.3h-1.3zM412.4 921.4h1.3v1.3h-1.3zM423.0 915.8h1.3v1.3h-1.3zM431.0 893.4h1.3v1.3h-1.3zM440.6 936.6h1.3v1.3h-1.3zM397.2 914.0h1.3v1.3h-1.3zM418.1 935.3h1.3v1.3h-1.3zM423.2 917.7h1.3v1.3h-1.3zM411.5 944.2h1.3v1.3h-1.3zM387.4 885.4h1.3v1.3h-1.3zM417.6 941.4h1.3v1.3h-1.3zM407.1 914.7h1.3v1.3h-1.3zM415.0 917.2h1.3v1.3h-1.3zM416.2 933.4h1.3v1.3h-1.3zM422.7 924.9h1.3v1.3h-1.3zM401.5 908.5h1.3v1.3h-1.3zM398.7 921.4h1.3v1.3h-1.3zM418.9 925.6h1.3v1.3h-1.3zM403.2 908.3h1.3v1.3h-1.3zM415.1 909.5h1.3v1.3h-1.3zM412.7 924.0h1.3v1.3h-1.3zM422.8 929.5h1.3v1.3h-1.3zM424.5 940.1h1.3v1.3h-1.3zM441.7 928.6h1.3v1.3h-1.3zM422.1 927.9h1.3v1.3h-1.3zM429.9 908.1h1.3v1.3h-1.3zM445.0 894.4h1.3v1.3h-1.3zM409.4 921.7h1.3v1.3h-1.3zM424.7 896.0h1.3v1.3h-1.3zM418.4 920.6h1.3v1.3h-1.3zM431.8 904.5h1.3v1.3h-1.3zM404.8 944.4h1.3v1.3h-1.3zM400.8 927.3h1.3v1.3h-1.3zM439.2 900.1h1.3v1.3h-1.3zM442.8 920.4h1.3v1.3h-1.3zM442.4 922.9h1.3v1.3h-1.3zM423.3 904.6h1.3v1.3h-1.3zM411.6 908.3h1.3v1.3h-1.3zM414.0 898.2h1.3v1.3h-1.3zM406.9 907.0h1.3v1.3h-1.3zM422.9 928.5h1.3v1.3h-1.3zM442.7 913.4h1.3v1.3h-1.3zM426.8 918.8h1.3v1.3h-1.3zM454.9 909.6h1.3v1.3h-1.3zM401.7 913.3h1.3v1.3h-1.3zM413.4 939.9h1.3v1.3h-1.3zM399.4 915.9h1.3v1.3h-1.3zM402.3 936.6h1.3v1.3h-1.3zM428.1 918.9h1.3v1.3h-1.3zM403.4 930.5h1.3v1.3h-1.3zM447.1 898.7h1.3v1.3h-1.3zM407.3 910.6h1.3v1.3h-1.3zM428.7 928.9h1.3v1.3h-1.3zM389.6 944.4h1.3v1.3h-1.3zM391.9 904.8h1.3v1.3h-1.3zM451.3 932.7h1.3v1.3h-1.3zM439.1 928.2h1.3v1.3h-1.3zM397.8 924.8h1.3v1.3h-1.3zM414.7 913.0h1.3v1.3h-1.3zM391.6 906.5h1.3v1.3h-1.3zM420.7 911.5h1.3v1.3h-1.3zM421.6 906.6h1.3v1.3h-1.3zM439.8 935.2h1.3v1.3h-1.3zM433.0 904.6h1.3v1.3h-1.3zM423.5 909.2h1.3v1.3h-1.3zM387.3 928.3h1.3v1.3h-1.3zM414.5 944.4h1.3v1.3h-1.3zM406.1 944.4h1.3v1.3h-1.3zM401.0 905.9h1.3v1.3h-1.3zM388.3 889.0h1.3v1.3h-1.3zM383.6 908.9h1.3v1.3h-1.3zM444.8 914.4h1.3v1.3h-1.3zM395.3 925.1h1.3v1.3h-1.3zM427.6 938.4h1.3v1.3h-1.3zM423.4 906.1h1.3v1.3h-1.3zM397.8 928.2h1.3v1.3h-1.3zM398.5 933.7h1.3v1.3h-1.3zM434.3 944.4h1.3v1.3h-1.3zM438.4 899.8h1.3v1.3h-1.3zM404.9 892.5h1.3v1.3h-1.3zM419.6 944.4h1.3v1.3h-1.3zM396.6 925.0h1.3v1.3h-1.3zM408.0 913.7h1.3v1.3h-1.3zM422.5 910.0h1.3v1.3h-1.3zM415.5 934.6h1.3v1.3h-1.3zM421.2 929.5h1.3v1.3h-1.3zM398.8 922.1h1.3v1.3h-1.3zM411.3 914.3h1.3v1.3h-1.3zM417.2 923.8h1.3v1.3h-1.3zM421.8 885.3h1.3v1.3h-1.3zM404.3 924.4h1.3v1.3h-1.3zM415.0 944.4h1.3v1.3h-1.3zM405.9 920.9h1.3v1.3h-1.3zM422.4 909.2h1.3v1.3h-1.3zM411.3 910.1h1.3v1.3h-1.3zM425.7 896.4h1.3v1.3h-1.3zM416.1 930.9h1.3v1.3h-1.3zM405.3 904.3h1.3v1.3h-1.3zM409.0 899.8h1.3v1.3h-1.3zM428.3 944.4h1.3v1.3h-1.3zM416.8 928.6h1.3v1.3h-1.3zM434.2 922.8h1.3v1.3h-1.3zM430.7 920.5h1.3v1.3h-1.3zM417.1 934.4h1.3v1.3h-1.3zM415.7 930.1h1.3v1.3h-1.3zM402.7 885.6h1.3v1.3h-1.3zM409.8 914.5h1.3v1.3h-1.3zM401.4 913.9h1.3v1.3h-1.3zM386.4 929.7h1.3v1.3h-1.3zM416.4 901.0h1.3v1.3h-1.3zM393.3 916.8h1.3v1.3h-1.3zM434.1 897.0h1.3v1.3h-1.3zM420.1 926.8h1.3v1.3h-1.3zM431.4 925.3h1.3v1.3h-1.3zM418.7 944.4h1.3v1.3h-1.3zM430.0 916.8h1.3v1.3h-1.3zM403.0 937.3h1.3v1.3h-1.3zM431.5 937.9h1.3v1.3h-1.3zM434.1 913.8h1.3v1.3h-1.3zM427.5 907.2h1.3v1.3h-1.3zM413.2 938.5h1.3v1.3h-1.3zM422.7 898.4h1.3v1.3h-1.3zM402.9 935.0h1.3v1.3h-1.3zM413.2 926.4h1.3v1.3h-1.3zM417.7 917.3h1.3v1.3h-1.3zM435.3 911.7h1.3v1.3h-1.3zM400.4 908.8h1.3v1.3h-1.3zM414.1 886.1h1.3v1.3h-1.3zM436.4 929.5h1.3v1.3h-1.3zM426.2 896.4h1.3v1.3h-1.3zM415.4 897.7h1.3v1.3h-1.3zM399.9 920.6h1.3v1.3h-1.3zM421.9 901.6h1.3v1.3h-1.3zM413.5 891.6h1.3v1.3h-1.3zM420.9 899.6h1.3v1.3h-1.3zM419.7 890.4h1.3v1.3h-1.3zM402.6 894.6h1.3v1.3h-1.3zM410.8 923.7h1.3v1.3h-1.3zM384.6 900.3h1.3v1.3h-1.3zM423.2 935.5h1.3v1.3h-1.3zM418.7 918.0h1.3v1.3h-1.3zM415.5 910.5h1.3v1.3h-1.3zM440.8 906.8h1.3v1.3h-1.3zM440.2 932.2h1.3v1.3h-1.3zM396.9 929.9h1.3v1.3h-1.3zM416.5 919.3h1.3v1.3h-1.3zM399.0 914.0h1.3v1.3h-1.3zM407.9 920.3h1.3v1.3h-1.3zM418.5 901.7h1.3v1.3h-1.3zM400.0 928.9h1.3v1.3h-1.3zM449.8 919.4h1.3v1.3h-1.3zM406.0 944.4h1.3v1.3h-1.3zM434.3 899.7h1.3v1.3h-1.3zM415.2 922.6h1.3v1.3h-1.3zM402.5 926.1h1.3v1.3h-1.3zM426.3 923.7h1.3v1.3h-1.3zM392.6 913.2h1.3v1.3h-1.3zM406.6 922.2h1.3v1.3h-1.3zM394.7 899.5h1.3v1.3h-1.3zM395.2 937.2h1.3v1.3h-1.3zM447.3 862.1h1.3v1.3h-1.3zM434.4 922.0h1.3v1.3h-1.3zM414.3 944.4h1.3v1.3h-1.3zM415.6 881.5h1.3v1.3h-1.3zM407.7 939.6h1.3v1.3h-1.3zM415.3 928.0h1.3v1.3h-1.3zM409.8 921.0h1.3v1.3h-1.3zM417.2 942.7h1.3v1.3h-1.3zM390.9 919.1h1.3v1.3h-1.3zM415.0 909.7h1.3v1.3h-1.3zM426.2 890.9h1.3v1.3h-1.3zM403.0 929.0h1.3v1.3h-1.3zM438.0 889.8h1.3v1.3h-1.3zM432.9 909.4h1.3v1.3h-1.3zM438.4 939.9h1.3v1.3h-1.3zM418.2 920.1h1.3v1.3h-1.3zM428.6 901.1h1.3v1.3h-1.3zM430.5 942.1h1.3v1.3h-1.3zM439.4 920.1h1.3v1.3h-1.3zM430.2 914.0h1.3v1.3h-1.3zM406.1 932.2h1.3v1.3h-1.3zM426.0 934.3h1.3v1.3h-1.3zM415.4 930.9h1.3v1.3h-1.3zM437.4 880.6h1.3v1.3h-1.3zM411.1 875.1h1.3v1.3h-1.3zM416.5 927.3h1.3v1.3h-1.3zM410.1 902.5h1.3v1.3h-1.3zM409.2 880.1h1.3v1.3h-1.3zM407.0 890.4h1.3v1.3h-1.3zM429.9 926.5h1.3v1.3h-1.3zM417.7 913.7h1.3v1.3h-1.3zM427.8 921.2h1.3v1.3h-1.3zM454.3 923.2h1.3v1.3h-1.3zM431.0 901.6h1.3v1.3h-1.3zM470.5 930.6h1.3v1.3h-1.3zM410.1 909.9h1.3v1.3h-1.3zM377.8 930.4h1.3v1.3h-1.3zM385.5 926.5h1.3v1.3h-1.3zM442.1 940.9h1.3v1.3h-1.3zM404.7 923.3h1.3v1.3h-1.3zM407.4 890.3h1.3v1.3h-1.3zM413.8 884.7h1.3v1.3h-1.3zM412.2 911.7h1.3v1.3h-1.3zM422.3 927.1h1.3v1.3h-1.3zM420.5 895.5h1.3v1.3h-1.3zM389.0 934.0h1.3v1.3h-1.3zM406.6 898.0h1.3v1.3h-1.3zM427.0 935.1h1.3v1.3h-1.3zM429.3 909.7h1.3v1.3h-1.3zM386.4 927.6h1.3v1.3h-1.3zM418.3 908.5h1.3v1.3h-1.3zM403.4 918.5h1.3v1.3h-1.3zM419.9 909.0h1.3v1.3h-1.3zM439.9 913.1h1.3v1.3h-1.3zM412.9 921.7h1.3v1.3h-1.3zM390.9 923.2h1.3v1.3h-1.3zM435.0 924.5h1.3v1.3h-1.3zM408.2 905.9h1.3v1.3h-1.3zM425.3 938.7h1.3v1.3h-1.3zM420.2 918.3h1.3v1.3h-1.3zM413.7 895.0h1.3v1.3h-1.3zM422.7 900.9h1.3v1.3h-1.3zM405.3 905.3h1.3v1.3h-1.3zM422.7 920.3h1.3v1.3h-1.3zM418.6 921.6h1.3v1.3h-1.3zM448.3 923.7h1.3v1.3h-1.3zM431.2 944.4h1.3v1.3h-1.3zM398.0 917.5h1.3v1.3h-1.3zM391.8 929.4h1.3v1.3h-1.3zM430.2 909.3h1.3v1.3h-1.3zM445.8 912.2h1.3v1.3h-1.3zM395.5 944.4h1.3v1.3h-1.3zM429.8 926.3h1.3v1.3h-1.3zM399.3 911.4h1.3v1.3h-1.3zM430.6 918.7h1.3v1.3h-1.3zM426.9 943.2h1.3v1.3h-1.3zM435.7 904.2h1.3v1.3h-1.3zM411.7 902.1h1.3v1.3h-1.3zM393.1 944.4h1.3v1.3h-1.3zM412.5 934.5h1.3v1.3h-1.3zM417.3 907.7h1.3v1.3h-1.3zM440.7 914.9h1.3v1.3h-1.3zM421.1 944.4h1.3v1.3h-1.3zM439.2 908.9h1.3v1.3h-1.3zM435.0 883.5h1.3v1.3h-1.3zM427.2 936.7h1.3v1.3h-1.3zM424.5 933.3h1.3v1.3h-1.3zM408.2 929.5h1.3v1.3h-1.3zM406.6 914.8h1.3v1.3h-1.3zM416.3 918.0h1.3v1.3h-1.3zM407.1 910.5h1.3v1.3h-1.3zM386.8 938.2h1.3v1.3h-1.3zM428.2 911.6h1.3v1.3h-1.3zM385.2 936.5h1.3v1.3h-1.3zM417.9 908.0h1.3v1.3h-1.3zM418.0 906.3h1.3v1.3h-1.3zM424.1 898.5h1.3v1.3h-1.3zM434.4 920.2h1.3v1.3h-1.3zM416.7 937.3h1.3v1.3h-1.3zM412.2 917.1h1.3v1.3h-1.3zM410.7 913.7h1.3v1.3h-1.3zM450.9 944.4h1.3v1.3h-1.3zM412.8 919.3h1.3v1.3h-1.3zM418.2 942.1h1.3v1.3h-1.3zM393.3 922.2h1.3v1.3h-1.3zM433.7 900.0h1.3v1.3h-1.3zM431.0 944.4h1.3v1.3h-1.3zM431.2 931.0h1.3v1.3h-1.3zM435.4 910.2h1.3v1.3h-1.3zM443.3 909.4h1.3v1.3h-1.3zM412.5 923.7h1.3v1.3h-1.3zM410.9 923.5h1.3v1.3h-1.3zM421.4 883.0h1.3v1.3h-1.3zM422.9 897.4h1.3v1.3h-1.3zM434.6 919.4h1.3v1.3h-1.3zM430.3 928.4h1.3v1.3h-1.3zM420.6 897.0h1.3v1.3h-1.3zM412.1 915.1h1.3v1.3h-1.3zM435.0 906.5h1.3v1.3h-1.3zM412.1 900.3h1.3v1.3h-1.3zM404.5 917.3h1.3v1.3h-1.3zM430.7 911.5h1.3v1.3h-1.3zM417.1 915.7h1.3v1.3h-1.3zM423.3 911.6h1.3v1.3h-1.3zM406.4 910.6h1.3v1.3h-1.3zM409.9 931.7h1.3v1.3h-1.3zM423.3 932.9h1.3v1.3h-1.3zM419.6 886.3h1.3v1.3h-1.3zM404.4 944.4h1.3v1.3h-1.3zM426.3 934.6h1.3v1.3h-1.3zM447.8 915.1h1.3v1.3h-1.3zM415.4 917.0h1.3v1.3h-1.3zM401.7 898.5h1.3v1.3h-1.3zM437.2 919.1h1.3v1.3h-1.3zM425.0 914.7h1.3v1.3h-1.3zM391.7 933.5h1.3v1.3h-1.3zM434.7 923.6h1.3v1.3h-1.3zM399.5 927.6h1.3v1.3h-1.3zM449.8 943.8h1.3v1.3h-1.3zM407.3 944.1h1.3v1.3h-1.3zM429.3 937.5h1.3v1.3h-1.3zM393.9 944.4h1.3v1.3h-1.3zM390.4 915.5h1.3v1.3h-1.3zM437.9 910.4h1.3v1.3h-1.3zM374.7 916.9h1.3v1.3h-1.3zM413.6 929.2h1.3v1.3h-1.3zM443.9 897.0h1.3v1.3h-1.3zM409.8 875.5h1.3v1.3h-1.3zM432.5 858.0h1.3v1.3h-1.3zM442.4 854.9h1.3v1.3h-1.3zM437.9 852.1h1.3v1.3h-1.3zM418.0 890.9h1.3v1.3h-1.3zM389.8 883.7h1.3v1.3h-1.3zM412.3 874.6h1.3v1.3h-1.3zM417.0 850.0h1.3v1.3h-1.3zM442.7 862.4h1.3v1.3h-1.3zM433.6 864.6h1.3v1.3h-1.3zM402.6 879.9h1.3v1.3h-1.3zM417.1 868.5h1.3v1.3h-1.3zM415.9 851.6h1.3v1.3h-1.3zM407.1 853.8h1.3v1.3h-1.3zM453.3 830.0h1.3v1.3h-1.3zM411.1 875.1h1.3v1.3h-1.3zM456.8 834.5h1.3v1.3h-1.3zM418.6 846.4h1.3v1.3h-1.3zM395.4 870.3h1.3v1.3h-1.3zM417.5 862.2h1.3v1.3h-1.3zM409.9 856.5h1.3v1.3h-1.3zM416.5 857.2h1.3v1.3h-1.3zM408.1 875.8h1.3v1.3h-1.3zM425.1 870.2h1.3v1.3h-1.3zM446.6 850.8h1.3v1.3h-1.3zM449.1 863.8h1.3v1.3h-1.3zM412.5 857.4h1.3v1.3h-1.3zM393.4 863.5h1.3v1.3h-1.3zM406.0 840.5h1.3v1.3h-1.3zM426.7 855.1h1.3v1.3h-1.3zM414.7 895.1h1.3v1.3h-1.3zM412.5 865.1h1.3v1.3h-1.3zM391.6 899.0h1.3v1.3h-1.3zM442.3 884.5h1.3v1.3h-1.3zM437.6 874.7h1.3v1.3h-1.3zM439.6 837.8h1.3v1.3h-1.3zM447.7 862.8h1.3v1.3h-1.3zM410.6 871.4h1.3v1.3h-1.3zM446.4 868.0h1.3v1.3h-1.3zM450.4 861.1h1.3v1.3h-1.3zM434.4 859.9h1.3v1.3h-1.3zM435.0 864.6h1.3v1.3h-1.3zM423.6 849.4h1.3v1.3h-1.3zM427.5 846.3h1.3v1.3h-1.3zM406.8 866.4h1.3v1.3h-1.3zM450.4 827.9h1.3v1.3h-1.3zM421.2 859.2h1.3v1.3h-1.3zM434.8 859.0h1.3v1.3h-1.3zM458.2 853.9h1.3v1.3h-1.3zM431.3 872.4h1.3v1.3h-1.3zM428.2 845.7h1.3v1.3h-1.3zM407.0 881.3h1.3v1.3h-1.3zM459.2 828.1h1.3v1.3h-1.3zM411.1 874.1h1.3v1.3h-1.3zM444.0 864.3h1.3v1.3h-1.3zM398.7 841.2h1.3v1.3h-1.3zM418.9 873.1h1.3v1.3h-1.3zM438.1 843.8h1.3v1.3h-1.3zM454.7 844.6h1.3v1.3h-1.3zM433.2 859.5h1.3v1.3h-1.3zM419.7 867.7h1.3v1.3h-1.3zM466.4 860.1h1.3v1.3h-1.3zM449.3 884.5h1.3v1.3h-1.3zM431.9 823.2h1.3v1.3h-1.3zM426.5 838.1h1.3v1.3h-1.3zM434.9 848.4h1.3v1.3h-1.3zM404.7 861.9h1.3v1.3h-1.3zM442.7 866.0h1.3v1.3h-1.3zM441.7 873.0h1.3v1.3h-1.3zM443.8 830.2h1.3v1.3h-1.3zM430.9 837.9h1.3v1.3h-1.3zM414.8 885.0h1.3v1.3h-1.3zM436.6 856.3h1.3v1.3h-1.3zM408.7 876.3h1.3v1.3h-1.3zM405.5 879.2h1.3v1.3h-1.3zM407.0 880.0h1.3v1.3h-1.3zM393.6 874.7h1.3v1.3h-1.3zM391.3 874.1h1.3v1.3h-1.3zM434.7 821.4h1.3v1.3h-1.3zM434.2 875.7h1.3v1.3h-1.3zM442.1 860.5h1.3v1.3h-1.3zM415.9 874.3h1.3v1.3h-1.3zM414.7 854.0h1.3v1.3h-1.3zM463.9 850.8h1.3v1.3h-1.3zM435.3 876.9h1.3v1.3h-1.3zM421.4 883.7h1.3v1.3h-1.3zM435.1 840.4h1.3v1.3h-1.3zM399.4 885.1h1.3v1.3h-1.3zM446.8 865.8h1.3v1.3h-1.3zM436.8 859.5h1.3v1.3h-1.3zM450.5 848.2h1.3v1.3h-1.3zM411.0 873.1h1.3v1.3h-1.3zM455.8 809.3h1.3v1.3h-1.3zM419.7 887.8h1.3v1.3h-1.3zM416.9 889.1h1.3v1.3h-1.3zM415.9 868.0h1.3v1.3h-1.3zM440.0 843.7h1.3v1.3h-1.3zM422.5 861.5h1.3v1.3h-1.3zM441.8 835.5h1.3v1.3h-1.3zM418.2 846.3h1.3v1.3h-1.3zM405.6 868.2h1.3v1.3h-1.3zM426.6 828.8h1.3v1.3h-1.3zM420.3 866.7h1.3v1.3h-1.3zM436.3 852.8h1.3v1.3h-1.3zM426.3 894.1h1.3v1.3h-1.3zM429.8 878.4h1.3v1.3h-1.3zM437.6 843.8h1.3v1.3h-1.3zM419.6 871.0h1.3v1.3h-1.3zM406.6 854.1h1.3v1.3h-1.3zM434.2 871.6h1.3v1.3h-1.3zM435.2 859.1h1.3v1.3h-1.3zM405.3 885.5h1.3v1.3h-1.3zM467.6 846.6h1.3v1.3h-1.3zM400.9 875.3h1.3v1.3h-1.3zM459.0 855.7h1.3v1.3h-1.3zM425.2 882.9h1.3v1.3h-1.3zM423.7 851.0h1.3v1.3h-1.3zM425.0 878.3h1.3v1.3h-1.3zM433.2 881.9h1.3v1.3h-1.3zM429.3 869.2h1.3v1.3h-1.3zM449.2 821.8h1.3v1.3h-1.3zM428.2 853.7h1.3v1.3h-1.3zM410.0 830.6h1.3v1.3h-1.3zM403.4 885.8h1.3v1.3h-1.3zM385.0 883.2h1.3v1.3h-1.3zM418.4 901.9h1.3v1.3h-1.3zM432.7 874.0h1.3v1.3h-1.3zM433.7 861.5h1.3v1.3h-1.3zM442.0 881.2h1.3v1.3h-1.3zM447.9 866.9h1.3v1.3h-1.3zM407.6 874.2h1.3v1.3h-1.3zM408.0 861.9h1.3v1.3h-1.3zM421.0 877.3h1.3v1.3h-1.3zM444.4 877.1h1.3v1.3h-1.3zM439.9 856.8h1.3v1.3h-1.3zM429.7 854.1h1.3v1.3h-1.3zM412.2 846.3h1.3v1.3h-1.3zM410.7 874.6h1.3v1.3h-1.3zM437.4 860.7h1.3v1.3h-1.3zM413.6 885.3h1.3v1.3h-1.3zM421.8 883.6h1.3v1.3h-1.3zM440.8 869.9h1.3v1.3h-1.3zM417.6 866.0h1.3v1.3h-1.3zM450.8 866.4h1.3v1.3h-1.3zM479.8 824.2h1.3v1.3h-1.3zM419.5 883.8h1.3v1.3h-1.3zM432.9 871.8h1.3v1.3h-1.3zM426.2 877.5h1.3v1.3h-1.3zM414.9 887.2h1.3v1.3h-1.3zM417.4 842.2h1.3v1.3h-1.3zM422.0 864.2h1.3v1.3h-1.3zM426.0 855.3h1.3v1.3h-1.3zM454.9 855.0h1.3v1.3h-1.3zM401.7 883.2h1.3v1.3h-1.3zM423.6 864.2h1.3v1.3h-1.3zM414.1 853.1h1.3v1.3h-1.3zM424.4 864.9h1.3v1.3h-1.3zM435.7 850.1h1.3v1.3h-1.3zM411.9 882.4h1.3v1.3h-1.3zM422.6 844.9h1.3v1.3h-1.3zM412.1 855.6h1.3v1.3h-1.3zM450.7 851.5h1.3v1.3h-1.3zM439.9 842.2h1.3v1.3h-1.3zM446.9 834.0h1.3v1.3h-1.3zM421.7 856.6h1.3v1.3h-1.3zM402.2 865.9h1.3v1.3h-1.3zM459.8 821.0h1.3v1.3h-1.3zM409.5 881.4h1.3v1.3h-1.3zM407.1 866.6h1.3v1.3h-1.3zM421.8 881.5h1.3v1.3h-1.3zM413.8 892.0h1.3v1.3h-1.3zM408.5 864.3h1.3v1.3h-1.3zM409.0 867.0h1.3v1.3h-1.3zM389.4 879.1h1.3v1.3h-1.3zM403.6 858.7h1.3v1.3h-1.3zM449.6 844.7h1.3v1.3h-1.3zM454.1 854.9h1.3v1.3h-1.3zM403.8 875.9h1.3v1.3h-1.3zM390.2 879.7h1.3v1.3h-1.3zM478.5 819.8h1.3v1.3h-1.3zM439.5 859.8h1.3v1.3h-1.3zM401.8 891.4h1.3v1.3h-1.3zM408.6 878.2h1.3v1.3h-1.3zM434.3 864.2h1.3v1.3h-1.3zM397.1 887.3h1.3v1.3h-1.3zM443.0 844.2h1.3v1.3h-1.3zM439.3 828.4h1.3v1.3h-1.3zM453.9 848.3h1.3v1.3h-1.3zM432.6 872.6h1.3v1.3h-1.3zM401.9 883.4h1.3v1.3h-1.3zM424.3 862.0h1.3v1.3h-1.3zM425.9 859.8h1.3v1.3h-1.3zM394.9 892.6h1.3v1.3h-1.3zM432.2 835.5h1.3v1.3h-1.3zM413.8 879.3h1.3v1.3h-1.3zM422.3 843.8h1.3v1.3h-1.3zM424.4 863.9h1.3v1.3h-1.3zM435.2 864.2h1.3v1.3h-1.3zM428.9 881.6h1.3v1.3h-1.3zM464.1 858.1h1.3v1.3h-1.3zM451.1 827.6h1.3v1.3h-1.3zM457.1 820.4h1.3v1.3h-1.3zM462.0 827.3h1.3v1.3h-1.3zM456.5 822.4h1.3v1.3h-1.3zM453.2 827.7h1.3v1.3h-1.3zM460.3 824.0h1.3v1.3h-1.3zM469.7 813.3h1.3v1.3h-1.3zM458.4 819.4h1.3v1.3h-1.3zM456.1 818.9h1.3v1.3h-1.3zM453.5 842.7h1.3v1.3h-1.3zM447.0 810.2h1.3v1.3h-1.3zM455.4 812.0h1.3v1.3h-1.3zM456.7 835.1h1.3v1.3h-1.3zM457.6 826.6h1.3v1.3h-1.3zM460.4 837.3h1.3v1.3h-1.3zM457.2 825.7h1.3v1.3h-1.3zM466.8 809.3h1.3v1.3h-1.3zM466.2 820.6h1.3v1.3h-1.3zM452.8 821.7h1.3v1.3h-1.3zM458.9 817.5h1.3v1.3h-1.3zM471.5 814.2h1.3v1.3h-1.3zM455.9 856.7h1.3v1.3h-1.3zM455.1 836.5h1.3v1.3h-1.3zM461.3 820.2h1.3v1.3h-1.3zM468.3 823.5h1.3v1.3h-1.3zM460.4 820.8h1.3v1.3h-1.3zM460.2 822.9h1.3v1.3h-1.3zM459.0 825.3h1.3v1.3h-1.3zM464.3 827.0h1.3v1.3h-1.3zM452.0 827.5h1.3v1.3h-1.3zM465.6 810.8h1.3v1.3h-1.3zM467.8 811.4h1.3v1.3h-1.3zM459.5 831.9h1.3v1.3h-1.3zM466.1 803.8h1.3v1.3h-1.3zM451.9 823.0h1.3v1.3h-1.3zM462.0 820.1h1.3v1.3h-1.3zM460.1 798.2h1.3v1.3h-1.3zM464.3 818.3h1.3v1.3h-1.3zM462.9 816.9h1.3v1.3h-1.3zM459.6 819.6h1.3v1.3h-1.3zM463.8 828.3h1.3v1.3h-1.3zM455.6 848.1h1.3v1.3h-1.3zM457.8 829.4h1.3v1.3h-1.3zM472.8 814.3h1.3v1.3h-1.3zM461.8 821.0h1.3v1.3h-1.3zM454.2 836.9h1.3v1.3h-1.3zM456.6 825.0h1.3v1.3h-1.3zM454.9 833.7h1.3v1.3h-1.3zM459.0 818.0h1.3v1.3h-1.3zM454.9 840.0h1.3v1.3h-1.3zM451.2 832.7h1.3v1.3h-1.3zM454.9 826.9h1.3v1.3h-1.3zM449.6 833.3h1.3v1.3h-1.3zM455.7 824.6h1.3v1.3h-1.3zM463.2 825.3h1.3v1.3h-1.3zM458.4 812.7h1.3v1.3h-1.3zM453.9 830.4h1.3v1.3h-1.3zM458.8 828.4h1.3v1.3h-1.3zM449.3 821.4h1.3v1.3h-1.3zM452.1 840.4h1.3v1.3h-1.3zM469.0 817.5h1.3v1.3h-1.3zM461.9 822.3h1.3v1.3h-1.3zM444.3 834.5h1.3v1.3h-1.3zM471.9 831.6h1.3v1.3h-1.3zM460.9 814.9h1.3v1.3h-1.3zM452.2 831.0h1.3v1.3h-1.3zM461.8 834.3h1.3v1.3h-1.3zM456.0 836.1h1.3v1.3h-1.3zM457.3 831.2h1.3v1.3h-1.3zM464.0 815.1h1.3v1.3h-1.3zM455.3 822.3h1.3v1.3h-1.3zM464.1 834.2h1.3v1.3h-1.3zM455.6 829.8h1.3v1.3h-1.3zM456.1 836.2h1.3v1.3h-1.3zM456.3 833.5h1.3v1.3h-1.3zM453.7 826.9h1.3v1.3h-1.3zM464.9 822.7h1.3v1.3h-1.3zM459.1 836.8h1.3v1.3h-1.3zM464.3 824.4h1.3v1.3h-1.3zM461.6 813.6h1.3v1.3h-1.3zM374.3 867.3h1.3v1.3h-1.3zM394.1 891.8h1.3v1.3h-1.3zM402.2 871.9h1.3v1.3h-1.3zM353.6 871.4h1.3v1.3h-1.3zM363.2 852.0h1.3v1.3h-1.3zM371.4 875.6h1.3v1.3h-1.3zM372.4 878.6h1.3v1.3h-1.3zM380.0 864.5h1.3v1.3h-1.3zM379.7 878.4h1.3v1.3h-1.3zM390.5 871.2h1.3v1.3h-1.3zM374.0 860.0h1.3v1.3h-1.3zM380.0 895.9h1.3v1.3h-1.3zM385.5 887.7h1.3v1.3h-1.3zM360.2 873.6h1.3v1.3h-1.3zM379.7 867.0h1.3v1.3h-1.3zM371.3 862.8h1.3v1.3h-1.3zM383.3 873.2h1.3v1.3h-1.3zM353.9 865.7h1.3v1.3h-1.3zM359.7 878.1h1.3v1.3h-1.3zM369.0 876.7h1.3v1.3h-1.3zM343.9 871.2h1.3v1.3h-1.3zM363.0 877.4h1.3v1.3h-1.3zM387.3 854.1h1.3v1.3h-1.3zM380.5 877.6h1.3v1.3h-1.3zM367.9 859.6h1.3v1.3h-1.3zM377.2 881.2h1.3v1.3h-1.3zM410.0 862.6h1.3v1.3h-1.3zM368.1 876.2h1.3v1.3h-1.3zM354.2 890.0h1.3v1.3h-1.3zM379.5 878.3h1.3v1.3h-1.3zM396.7 876.3h1.3v1.3h-1.3zM375.6 862.2h1.3v1.3h-1.3zM356.7 865.5h1.3v1.3h-1.3zM353.3 847.5h1.3v1.3h-1.3zM357.8 878.3h1.3v1.3h-1.3z" fill="#303030" fill-opacity="0.72"/>
<rect x="315.0" y="772.8" width="196.0" height="171.60000000000002" fill="none" stroke="#000" stroke-width="1.5"/>
<line x1="396.8" y1="772.8" x2="396.8" y2="944.4" stroke="#000" stroke-width="1.5"/>
<line x1="315.0" y1="885.7" x2="511.0" y2="885.7" stroke="#000" stroke-width="1.5"/>
<line x1="310.5" y1="944.40" x2="315.0" y2="944.40" stroke="#000" stroke-width="1"/>
<line x1="315.00" y1="944.4" x2="315.00" y2="948.9" stroke="#000" stroke-width="1"/>
<line x1="312.4" y1="931.49" x2="315.0" y2="931.49" stroke="#000" stroke-width="1"/>
<line x1="329.75" y1="944.4" x2="329.75" y2="947.0" stroke="#000" stroke-width="1"/>
<line x1="312.4" y1="923.93" x2="315.0" y2="923.93" stroke="#000" stroke-width="1"/>
<line x1="338.38" y1="944.4" x2="338.38" y2="947.0" stroke="#000" stroke-width="1"/>
<line x1="312.4" y1="918.57" x2="315.0" y2="918.57" stroke="#000" stroke-width="1"/>
<line x1="344.50" y1="944.4" x2="344.50" y2="947.0" stroke="#000" stroke-width="1"/>
<line x1="312.4" y1="914.41" x2="315.0" y2="914.41" stroke="#000" stroke-width="1"/>
<line x1="349.25" y1="944.4" x2="349.25" y2="947.0" stroke="#000" stroke-width="1"/>
<line x1="312.4" y1="911.02" x2="315.0" y2="911.02" stroke="#000" stroke-width="1"/>
<line x1="353.13" y1="944.4" x2="353.13" y2="947.0" stroke="#000" stroke-width="1"/>
<line x1="312.4" y1="908.15" x2="315.0" y2="908.15" stroke="#000" stroke-width="1"/>
<line x1="356.41" y1="944.4" x2="356.41" y2="947.0" stroke="#000" stroke-width="1"/>
<line x1="312.4" y1="905.66" x2="315.0" y2="905.66" stroke="#000" stroke-width="1"/>
<line x1="359.25" y1="944.4" x2="359.25" y2="947.0" stroke="#000" stroke-width="1"/>
<line x1="312.4" y1="903.46" x2="315.0" y2="903.46" stroke="#000" stroke-width="1"/>
<line x1="361.76" y1="944.4" x2="361.76" y2="947.0" stroke="#000" stroke-width="1"/>
<line x1="310.5" y1="901.50" x2="315.0" y2="901.50" stroke="#000" stroke-width="1"/>
<line x1="364.00" y1="944.4" x2="364.00" y2="948.9" stroke="#000" stroke-width="1"/>
<line x1="312.4" y1="888.59" x2="315.0" y2="888.59" stroke="#000" stroke-width="1"/>
<line x1="378.75" y1="944.4" x2="378.75" y2="947.0" stroke="#000" stroke-width="1"/>
<line x1="312.4" y1="881.03" x2="315.0" y2="881.03" stroke="#000" stroke-width="1"/>
<line x1="387.38" y1="944.4" x2="387.38" y2="947.0" stroke="#000" stroke-width="1"/>
<line x1="312.4" y1="875.67" x2="315.0" y2="875.67" stroke="#000" stroke-width="1"/>
<line x1="393.50" y1="944.4" x2="393.50" y2="947.0" stroke="#000" stroke-width="1"/>
<line x1="312.4" y1="871.51" x2="315.0" y2="871.51" stroke="#000" stroke-width="1"/>
<line x1="398.25" y1="944.4" x2="398.25" y2="947.0" stroke="#000" stroke-width="1"/>
<line x1="312.4" y1="868.12" x2="315.0" y2="868.12" stroke="#000" stroke-width="1"/>
<line x1="402.13" y1="944.4" x2="402.13" y2="947.0" stroke="#000" stroke-width="1"/>
<line x1="312.4" y1="865.25" x2="315.0" y2="865.25" stroke="#000" stroke-width="1"/>
<line x1="405.41" y1="944.4" x2="405.41" y2="947.0" stroke="#000" stroke-width="1"/>
<line x1="312.4" y1="862.76" x2="315.0" y2="862.76" stroke="#000" stroke-width="1"/>
<line x1="408.25" y1="944.4" x2="408.25" y2="947.0" stroke="#000" stroke-width="1"/>
<line x1="312.4" y1="860.56" x2="315.0" y2="860.56" stroke="#000" stroke-width="1"/>
<line x1="410.76" y1="944.4" x2="410.76" y2="947.0" stroke="#000" stroke-width="1"/>
<line x1="310.5" y1="858.60" x2="315.0" y2="858.60" stroke="#000" stroke-width="1"/>
<line x1="413.00" y1="944.4" x2="413.00" y2="948.9" stroke="#000" stroke-width="1"/>
<line x1="312.4" y1="845.69" x2="315.0" y2="845.69" stroke="#000" stroke-width="1"/>
<line x1="427.75" y1="944.4" x2="427.75" y2="947.0" stroke="#000" stroke-width="1"/>
<line x1="312.4" y1="838.13" x2="315.0" y2="838.13" stroke="#000" stroke-width="1"/>
<line x1="436.38" y1="944.4" x2="436.38" y2="947.0" stroke="#000" stroke-width="1"/>
<line x1="312.4" y1="832.77" x2="315.0" y2="832.77" stroke="#000" stroke-width="1"/>
<line x1="442.50" y1="944.4" x2="442.50" y2="947.0" stroke="#000" stroke-width="1"/>
<line x1="312.4" y1="828.61" x2="315.0" y2="828.61" stroke="#000" stroke-width="1"/>
<line x1="447.25" y1="944.4" x2="447.25" y2="947.0" stroke="#000" stroke-width="1"/>
<line x1="312.4" y1="825.22" x2="315.0" y2="825.22" stroke="#000" stroke-width="1"/>
<line x1="451.13" y1="944.4" x2="451.13" y2="947.0" stroke="#000" stroke-width="1"/>
<line x1="312.4" y1="822.35" x2="315.0" y2="822.35" stroke="#000" stroke-width="1"/>
<line x1="454.41" y1="944.4" x2="454.41" y2="947.0" stroke="#000" stroke-width="1"/>
<line x1="312.4" y1="819.86" x2="315.0" y2="819.86" stroke="#000" stroke-width="1"/>
<line x1="457.25" y1="944.4" x2="457.25" y2="947.0" stroke="#000" stroke-width="1"/>
<line x1="312.4" y1="817.66" x2="315.0" y2="817.66" stroke="#000" stroke-width="1"/>
<line x1="459.76" y1="944.4" x2="459.76" y2="947.0" stroke="#000" stroke-width="1"/>
<line x1="310.5" y1="815.70" x2="315.0" y2="815.70" stroke="#000" stroke-width="1"/>
<line x1="462.00" y1="944.4" x2="462.00" y2="948.9" stroke="#000" stroke-width="1"/>
<line x1="312.4" y1="802.79" x2="315.0" y2="802.79" stroke="#000" stroke-width="1"/>
<line x1="476.75" y1="944.4" x2="476.75" y2="947.0" stroke="#000" stroke-width="1"/>
<line x1="312.4" y1="795.23" x2="315.0" y2="795.23" stroke="#000" stroke-width="1"/>
<line x1="485.38" y1="944.4" x2="485.38" y2="947.0" stroke="#000" stroke-width="1"/>
<line x1="312.4" y1="789.87" x2="315.0" y2="789.87" stroke="#000" stroke-width="1"/>
<line x1="491.50" y1="944.4" x2="491.50" y2="947.0" stroke="#000" stroke-width="1"/>
<line x1="312.4" y1="785.71" x2="315.0" y2="785.71" stroke="#000" stroke-width="1"/>
<line x1="496.25" y1="944.4" x2="496.25" y2="947.0" stroke="#000" stroke-width="1"/>
<line x1="312.4" y1="782.32" x2="315.0" y2="782.32" stroke="#000" stroke-width="1"/>
<line x1="500.13" y1="944.4" x2="500.13" y2="947.0" stroke="#000" stroke-width="1"/>
<line x1="312.4" y1="779.45" x2="315.0" y2="779.45" stroke="#000" stroke-width="1"/>
<line x1="503.41" y1="944.4" x2="503.41" y2="947.0" stroke="#000" stroke-width="1"/>
<line x1="312.4" y1="776.96" x2="315.0" y2="776.96" stroke="#000" stroke-width="1"/>
<line x1="506.25" y1="944.4" x2="506.25" y2="947.0" stroke="#000" stroke-width="1"/>
<line x1="312.4" y1="774.76" x2="315.0" y2="774.76" stroke="#000" stroke-width="1"/>
<line x1="508.76" y1="944.4" x2="508.76" y2="947.0" stroke="#000" stroke-width="1"/>
<line x1="310.5" y1="772.8" x2="315.0" y2="772.8" stroke="#000" stroke-width="1"/>
<line x1="511.0" y1="944.4" x2="511.0" y2="948.9" stroke="#000" stroke-width="1"/>
<text transform="translate(306.96,961.70) scale(1.0187,1)" font-family="Liberation Sans" font-weight="normal" font-size="9.72" fill="#000" >10</text>
<text transform="translate(318.04,956.30) scale(1.1458,1)" font-family="Liberation Sans" font-weight="normal" font-size="10.00" fill="#000" >0</text>
<text transform="translate(355.96,961.70) scale(1.0187,1)" font-family="Liberation Sans" font-weight="normal" font-size="9.72" fill="#000" >10</text>
<text transform="translate(368.12,956.40) scale(0.6255,1)" font-family="Liberation Sans" font-weight="normal" font-size="10.29" fill="#000" >1</text>
<text transform="translate(404.96,961.70) scale(1.0187,1)" font-family="Liberation Sans" font-weight="normal" font-size="9.72" fill="#000" >10</text>
<text transform="translate(415.92,956.40) scale(1.1484,1)" font-family="Liberation Sans" font-weight="normal" font-size="10.14" fill="#000" >2</text>
<text transform="translate(453.96,961.70) scale(1.0187,1)" font-family="Liberation Sans" font-weight="normal" font-size="9.72" fill="#000" >10</text>
<text transform="translate(465.05,956.30) scale(1.1158,1)" font-family="Liberation Sans" font-weight="normal" font-size="10.00" fill="#000" >3</text>
<text transform="translate(502.96,961.70) scale(1.0187,1)" font-family="Liberation Sans" font-weight="normal" font-size="9.72" fill="#000" >10</text>
<text transform="translate(514.26,956.40) scale(1.1547,1)" font-family="Liberation Sans" font-weight="normal" font-size="10.29" fill="#000" >4</text>
<text transform="translate(306.90,950.66) rotate(-90) scale(0.8678,1)" font-family="Liberation Sans" font-weight="normal" font-size="10.14" fill="#000">10</text>
<text transform="translate(300.80,941.06) rotate(-90) scale(1.1790,1)" font-family="Liberation Sans" font-weight="normal" font-size="9.72" fill="#000">0</text>
<text transform="translate(306.90,907.76) rotate(-90) scale(0.8678,1)" font-family="Liberation Sans" font-weight="normal" font-size="10.14" fill="#000">10</text>
<text transform="translate(300.90,898.18) rotate(-90) scale(0.6437,1)" font-family="Liberation Sans" font-weight="normal" font-size="10.00" fill="#000">1</text>
<text transform="translate(306.90,864.86) rotate(-90) scale(0.8678,1)" font-family="Liberation Sans" font-weight="normal" font-size="10.14" fill="#000">10</text>
<text transform="translate(300.90,855.38) rotate(-90) scale(1.1817,1)" font-family="Liberation Sans" font-weight="normal" font-size="9.86" fill="#000">2</text>
<text transform="translate(306.90,821.96) rotate(-90) scale(0.8678,1)" font-family="Liberation Sans" font-weight="normal" font-size="10.14" fill="#000">10</text>
<text transform="translate(300.80,812.35) rotate(-90) scale(1.1481,1)" font-family="Liberation Sans" font-weight="normal" font-size="9.72" fill="#000">3</text>
<text transform="translate(306.90,779.06) rotate(-90) scale(0.8678,1)" font-family="Liberation Sans" font-weight="normal" font-size="10.14" fill="#000">10</text>
<text transform="translate(300.90,769.24) rotate(-90) scale(1.1881,1)" font-family="Liberation Sans" font-weight="normal" font-size="10.00" fill="#000">4</text>
<text transform="translate(292.60,882.04) rotate(-90) scale(1.0802,1)" font-family="Liberation Sans" font-weight="normal" font-size="9.72" fill="#000">FL4  APC</text>
<text transform="translate(393.02,971.50) scale(0.9314,1)" font-family="Liberation Sans" font-weight="normal" font-size="10.43" fill="#000" >FL2  PE</text>
<text transform="translate(312.82,797.63) scale(1.0865,1)" font-family="Liberation Serif" font-weight="normal" font-size="18.09" fill="#000" >3.3 ± 0.3</text>
<text transform="translate(421.32,798.93) scale(1.0908,1)" font-family="Liberation Serif" font-weight="normal" font-size="18.07" fill="#000" >11.7 ± 1.2</text>
<text transform="translate(311.53,942.93) scale(1.0768,1)" font-family="Liberation Serif" font-weight="normal" font-size="17.94" fill="#000" >60.3 ± 1.8</text>
<text transform="translate(424.93,942.04) scale(1.1054,1)" font-family="Liberation Serif" font-weight="normal" font-size="17.50" fill="#000" >24.8 ± 2.0</text>
</svg></body></html>
